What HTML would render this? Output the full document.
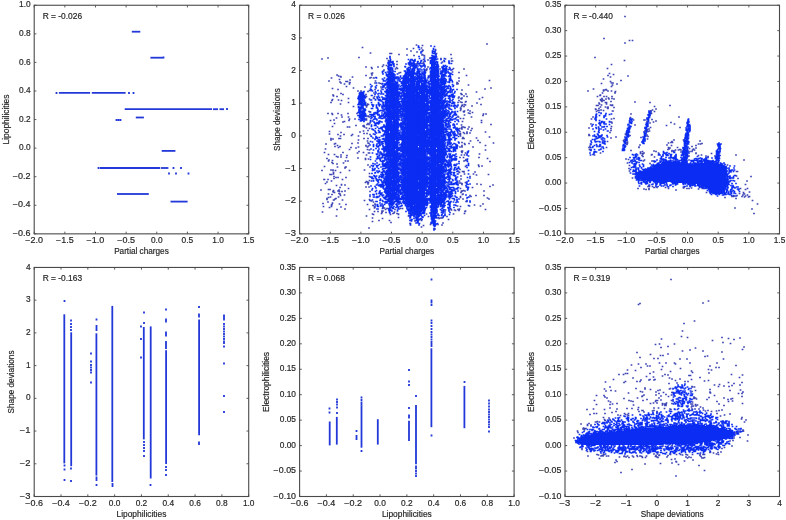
<!DOCTYPE html>
<html><head><meta charset="utf-8"><style>
html,body{margin:0;padding:0;background:#fff;}
svg{display:block;filter:blur(0.35px);}
text{font-family:"Liberation Sans",sans-serif;font-size:8.2px;fill:#262626;stroke:#262626;stroke-width:0.18px;}
</style></head><body>
<svg width="786" height="520" viewBox="0 0 786 520">
<rect width="786" height="520" fill="#fff"/>
<path d="M131.8 31.7H140.3" stroke="#2238d8" stroke-width="1.8"/><path d="M150.4 57.7H162.9" stroke="#2238d8" stroke-width="1.8"/><path d="M58.9 92.8H90.1" stroke="#2238d8" stroke-width="1.8"/><path d="M91.8 92.8H125.6" stroke="#2238d8" stroke-width="1.8"/><path d="M124.7 109.2H212.0" stroke="#2238d8" stroke-width="1.8"/><path d="M213.0 109.2H218.0" stroke="#2238d8" stroke-width="1.8"/><path d="M219.5 109.2H224.0" stroke="#2238d8" stroke-width="1.8"/><path d="M135.8 117.5H143.9" stroke="#2238d8" stroke-width="1.8"/><path d="M161.7 150.9H175.4" stroke="#2238d8" stroke-width="1.8"/><path d="M99.8 168.0H160.0" stroke="#2238d8" stroke-width="1.8"/><path d="M160.7 168.0H168.4" stroke="#2238d8" stroke-width="1.8"/><path d="M117.0 194.0H148.8" stroke="#2238d8" stroke-width="1.8"/><path d="M170.5 201.6H187.6" stroke="#2238d8" stroke-width="1.8"/><path d="M56.5 93h0m42 75h0m18-48h0m2 0h0m2 0h0m8.5-27h0m4.5 0h0m30-35.5h0m5.5 116h0m4.5-5.5h0m2.5 5.5h0m5-5.5h0m7.5 5.5h0m38.5-64.5h0" stroke="#2238d8" stroke-width="1.8" stroke-linecap="square" fill="none"/>
<rect x="34.20" y="5.25" width="214.50" height="228.60" fill="none" stroke="#4a4a4a" stroke-width="1.1"/>
<path d="M34.20 233.85v-2.2M34.20 5.25v2.2M64.84 233.85v-2.2M64.84 5.25v2.2M95.49 233.85v-2.2M95.49 5.25v2.2M126.13 233.85v-2.2M126.13 5.25v2.2M156.77 233.85v-2.2M156.77 5.25v2.2M187.41 233.85v-2.2M187.41 5.25v2.2M218.06 233.85v-2.2M218.06 5.25v2.2M248.70 233.85v-2.2M248.70 5.25v2.2M34.20 233.85h2.2M248.70 233.85h-2.2M34.20 205.28h2.2M248.70 205.28h-2.2M34.20 176.70h2.2M248.70 176.70h-2.2M34.20 148.12h2.2M248.70 148.12h-2.2M34.20 119.55h2.2M248.70 119.55h-2.2M34.20 90.97h2.2M248.70 90.97h-2.2M34.20 62.40h2.2M248.70 62.40h-2.2M34.20 33.83h2.2M248.70 33.83h-2.2M34.20 5.25h2.2M248.70 5.25h-2.2" stroke="#4a4a4a" stroke-width="0.9" fill="none"/>
<text x="25.34" y="242.85" textLength="17.72" lengthAdjust="spacingAndGlyphs">−2.0</text>
<text x="55.98" y="242.85" textLength="17.72" lengthAdjust="spacingAndGlyphs">−1.5</text>
<text x="86.62" y="242.85" textLength="17.72" lengthAdjust="spacingAndGlyphs">−1.0</text>
<text x="117.27" y="242.85" textLength="17.72" lengthAdjust="spacingAndGlyphs">−0.5</text>
<text x="150.97" y="242.85" textLength="11.61" lengthAdjust="spacingAndGlyphs">0.0</text>
<text x="181.61" y="242.85" textLength="11.61" lengthAdjust="spacingAndGlyphs">0.5</text>
<text x="212.25" y="242.85" textLength="11.61" lengthAdjust="spacingAndGlyphs">1.0</text>
<text x="242.90" y="242.85" textLength="11.61" lengthAdjust="spacingAndGlyphs">1.5</text>
<text x="12.88" y="236.00" textLength="17.72" lengthAdjust="spacingAndGlyphs">−0.6</text>
<text x="12.88" y="207.43" textLength="17.72" lengthAdjust="spacingAndGlyphs">−0.4</text>
<text x="12.88" y="178.85" textLength="17.72" lengthAdjust="spacingAndGlyphs">−0.2</text>
<text x="18.99" y="150.28" textLength="11.61" lengthAdjust="spacingAndGlyphs">0.0</text>
<text x="18.99" y="121.70" textLength="11.61" lengthAdjust="spacingAndGlyphs">0.2</text>
<text x="18.99" y="93.12" textLength="11.61" lengthAdjust="spacingAndGlyphs">0.4</text>
<text x="18.99" y="64.55" textLength="11.61" lengthAdjust="spacingAndGlyphs">0.6</text>
<text x="18.99" y="35.98" textLength="11.61" lengthAdjust="spacingAndGlyphs">0.8</text>
<text x="18.99" y="7.40" textLength="11.61" lengthAdjust="spacingAndGlyphs">1.0</text>
<text x="114.13" y="254.15" textLength="54.64" lengthAdjust="spacingAndGlyphs">Partial charges</text>
<text transform="translate(8.60,119.55) rotate(-90)" x="-24.89" y="0" textLength="49.78" lengthAdjust="spacingAndGlyphs">Lipophilicities</text>
<text x="42.70" y="18.95" textLength="39.36" lengthAdjust="spacingAndGlyphs">R = -0.026</text>
<path d="M434 57.5h1m-1 1h1m-1 1h1m-1 1h1m-2 1h2m-2 1h2m-2 1h2m-4 1h4m-4 1h4m-4 1h4m-4 1h5m-5 1h5m-5 1h5m-5 1h5m-5 1h5m-5 1h5m-5 1h5m-5 1h5m-23 1h1m17 0h5m-26 1h1m2 0h1m17 0h5m-26 1h1m2 0h1m17 0h5m-26 1h1m1 0h2m17 0h5m-46 1h1m17 0h1m1 0h1m1 0h2m17 0h5m-46 1h1m17 0h1m1 0h1m1 0h2m17 0h5m-46 1h1m17 0h1m1 0h5m2 0h1m13 0h5m-46 1h1m17 0h1m1 0h5m2 0h1m13 0h5m-46 1h1m17 0h1m1 0h5m2 0h1m3 0h1m9 0h5m-46 1h1m17 0h7m2 0h1m3 0h1m9 0h5m-46 1h1m17 0h7m2 0h1m1 0h1m1 0h1m9 0h5m-46 1h1m17 0h7m2 0h1m1 0h1m1 0h1m9 0h5m1 0h1m-48 1h1m17 0h7m2 0h1m1 0h1m1 0h1m9 0h5m1 0h1m-48 1h1m16 0h8m2 0h1m1 0h1m1 0h1m2 0h1m6 0h5m1 0h1m-48 1h1m16 0h8m1 0h2m1 0h1m1 0h1m2 0h1m6 0h5m1 0h1m-48 1h1m16 0h8m1 0h2m1 0h1m1 0h1m2 0h1m6 0h5m1 0h1m-48 1h1m16 0h8m1 0h2m1 0h1m1 0h1m2 0h1m6 0h5m1 0h1m-48 1h1m2 0h1m13 0h8m1 0h2m1 0h1m1 0h1m2 0h1m6 0h5m1 0h1m-48 1h1m2 0h1m13 0h8m1 0h2m1 0h1m1 0h1m2 0h1m6 0h5m1 0h1m-48 1h1m2 0h1m13 0h8m1 0h2m1 0h1m1 0h1m1 0h2m6 0h5m1 0h1m-48 1h1m2 0h2m12 0h8m1 0h2m1 0h1m1 0h4m6 0h5m1 0h1m-48 1h1m2 0h2m12 0h8m1 0h2m1 0h1m1 0h4m6 0h5m1 0h1m-48 1h1m2 0h2m12 0h8m1 0h2m1 0h6m6 0h5m1 0h1m-48 1h1m2 0h2m1 0h1m10 0h8m1 0h2m1 0h6m6 0h5m1 0h1m-48 1h1m2 0h2m1 0h1m10 0h8m1 0h2m1 0h6m6 0h5m1 0h1m-48 1h1m2 0h2m1 0h1m10 0h8m1 0h2m1 0h6m6 0h5m1 0h1m-48 1h1m2 0h2m1 0h1m10 0h8m1 0h2m1 0h6m6 0h5m1 0h1m-48 1h1m2 0h2m1 0h1m10 0h8m1 0h2m1 0h6m6 0h5m1 0h1m-48 1h1m2 0h2m1 0h1m10 0h8m1 0h2m1 0h6m6 0h5m1 0h1m-48 1h1m2 0h2m1 0h1m10 0h11m1 0h6m6 0h5m1 0h1m-48 1h1m2 0h2m1 0h1m10 0h11m1 0h6m6 0h5m1 0h1m-48 1h1m2 0h2m1 0h1m10 0h11m1 0h6m6 0h5m1 0h1m-48 1h1m2 0h2m1 0h1m10 0h11m1 0h6m6 0h5m1 0h1m-48 1h1m2 0h2m1 0h1m10 0h11m1 0h6m6 0h5m1 0h1m-48 1h1m2 0h2m1 0h1m10 0h11m1 0h6m6 0h5m1 0h1m-48 1h1m2 0h2m1 0h1m10 0h11m1 0h6m6 0h5m1 0h1m-48 1h1m2 0h2m1 0h1m10 0h11m1 0h6m6 0h5m1 0h1m-48 1h1m2 0h2m1 0h1m10 0h11m1 0h6m6 0h5m1 0h1m-48 1h1m2 0h2m1 0h1m10 0h11m1 0h6m6 0h5m1 0h1m-48 1h1m2 0h2m1 0h1m10 0h11m1 0h6m6 0h5m1 0h1m-48 1h1m2 0h2m1 0h1m10 0h11m1 0h6m6 0h5m1 0h1m-48 1h1m2 0h2m1 0h1m10 0h11m1 0h6m6 0h5m1 0h1m-48 1h1m2 0h2m1 0h1m10 0h11m1 0h6m6 0h5m1 0h1m-48 1h1m2 0h2m1 0h1m10 0h11m1 0h6m6 0h5m1 0h1m-48 1h1m2 0h2m1 0h1m10 0h11m1 0h6m6 0h5m1 0h1m-48 1h1m2 0h2m1 0h1m10 0h11m1 0h6m6 0h5m1 0h1m-48 1h1m2 0h2m1 0h1m10 0h11m1 0h6m6 0h5m1 0h1m-48 1h1m2 0h2m1 0h1m10 0h11m1 0h6m6 0h5m1 0h1m-48 1h1m2 0h2m1 0h1m10 0h11m1 0h6m6 0h5m1 0h1m-48 1h1m2 0h2m1 0h1m10 0h11m1 0h6m6 0h5m1 0h1m-48 1h1m2 0h2m1 0h1m10 0h11m1 0h6m6 0h5m1 0h1m-48 1h1m2 0h2m1 0h1m10 0h11m1 0h6m6 0h5m1 0h1m-48 1h1m2 0h2m1 0h1m10 0h11m1 0h6m6 0h5m1 0h1m-48 1h1m2 0h2m1 0h1m10 0h11m1 0h6m6 0h5m1 0h1m-48 1h1m2 0h2m1 0h1m10 0h11m1 0h6m6 0h5m1 0h1m-48 1h1m2 0h2m1 0h1m10 0h11m1 0h6m6 0h5m1 0h1m-48 1h1m2 0h2m1 0h1m10 0h11m1 0h6m6 0h5m1 0h1m-48 1h1m2 0h2m1 0h1m10 0h11m1 0h6m6 0h5m1 0h1m-48 1h1m2 0h2m1 0h1m10 0h11m1 0h6m6 0h5m1 0h1m-48 1h1m2 0h2m1 0h1m10 0h11m1 0h6m6 0h5m1 0h1m-48 1h1m2 0h2m1 0h1m10 0h11m1 0h6m6 0h5m1 0h1m-48 1h1m2 0h2m1 0h1m10 0h11m1 0h6m6 0h5m1 0h1m-48 1h1m2 0h2m1 0h1m10 0h11m1 0h6m6 0h5m1 0h1m-48 1h1m2 0h2m1 0h1m10 0h11m1 0h6m6 0h5m1 0h1m-48 1h1m2 0h2m1 0h1m10 0h11m1 0h6m6 0h5m1 0h1m-48 1h1m2 0h2m1 0h1m10 0h11m1 0h6m6 0h5m1 0h1m-48 1h1m2 0h2m1 0h1m10 0h11m1 0h6m6 0h5m1 0h1m-48 1h1m2 0h2m1 0h1m10 0h11m1 0h6m6 0h5m1 0h1m-48 1h1m2 0h2m1 0h1m10 0h11m1 0h6m6 0h5m1 0h1m-48 1h1m2 0h2m1 0h1m10 0h11m1 0h6m6 0h5m1 0h1m-48 1h1m2 0h2m1 0h1m10 0h11m1 0h6m6 0h5m1 0h1m-48 1h1m2 0h2m1 0h1m10 0h11m1 0h6m6 0h5m1 0h1m-48 1h1m2 0h2m1 0h1m10 0h11m1 0h6m6 0h5m1 0h1m-48 1h1m2 0h2m1 0h1m10 0h11m1 0h6m6 0h5m1 0h1m-48 1h1m2 0h2m1 0h1m10 0h11m1 0h6m6 0h5m1 0h1m-48 1h1m2 0h2m1 0h1m10 0h11m1 0h6m6 0h5m1 0h1m-48 1h1m2 0h2m1 0h1m10 0h11m1 0h6m6 0h5m1 0h1m-48 1h1m2 0h2m1 0h1m10 0h11m1 0h6m6 0h5m1 0h1m-48 1h1m2 0h2m1 0h1m10 0h11m1 0h6m6 0h5m1 0h1m-48 1h1m2 0h2m1 0h1m10 0h11m1 0h6m6 0h5m1 0h1m-48 1h1m2 0h2m1 0h1m10 0h11m1 0h6m6 0h5m1 0h1m-48 1h1m2 0h2m1 0h1m10 0h11m1 0h6m6 0h5m1 0h1m-48 1h1m2 0h2m1 0h1m10 0h11m1 0h6m6 0h5m1 0h1m-48 1h1m2 0h2m1 0h1m10 0h11m1 0h6m6 0h5m1 0h1m-48 1h1m2 0h2m1 0h1m10 0h11m1 0h6m6 0h5m1 0h1m-48 1h1m2 0h2m1 0h1m10 0h11m1 0h6m6 0h5m1 0h1m-48 1h1m2 0h2m1 0h1m10 0h11m1 0h6m6 0h5m1 0h1m-48 1h1m2 0h2m1 0h1m10 0h11m1 0h6m6 0h5m1 0h1m-48 1h1m2 0h2m1 0h1m10 0h11m1 0h6m6 0h5m1 0h1m-48 1h1m2 0h2m1 0h1m10 0h11m1 0h6m6 0h5m1 0h1m-48 1h1m2 0h2m1 0h1m10 0h11m1 0h6m6 0h5m1 0h1m-48 1h1m2 0h2m1 0h1m10 0h11m1 0h6m6 0h5m1 0h1m-48 1h1m2 0h2m1 0h1m10 0h11m1 0h6m6 0h5m1 0h1m-48 1h1m2 0h2m1 0h1m10 0h11m1 0h6m6 0h5m1 0h1m-48 1h1m2 0h2m1 0h1m10 0h11m1 0h6m6 0h5m1 0h1m-48 1h1m2 0h2m1 0h1m10 0h11m1 0h6m6 0h5m1 0h1m-48 1h1m2 0h2m1 0h1m10 0h11m1 0h6m6 0h5m1 0h1m-48 1h1m2 0h2m1 0h1m10 0h11m1 0h6m6 0h5m1 0h1m-48 1h1m2 0h2m1 0h1m10 0h11m1 0h6m6 0h5m1 0h1m-48 1h1m2 0h2m1 0h1m10 0h11m1 0h6m6 0h5m1 0h1m-48 1h1m2 0h2m1 0h1m10 0h11m1 0h6m6 0h5m1 0h1m-48 1h1m2 0h2m1 0h1m10 0h11m1 0h6m6 0h5m1 0h1m-48 1h1m2 0h2m1 0h1m10 0h11m1 0h6m6 0h5m1 0h1m-48 1h1m2 0h2m1 0h1m10 0h11m1 0h6m6 0h5m1 0h1m-48 1h1m2 0h2m1 0h1m10 0h11m1 0h6m6 0h5m1 0h1m-48 1h1m2 0h2m1 0h1m10 0h11m1 0h6m6 0h5m1 0h1m-48 1h1m2 0h2m1 0h1m10 0h11m1 0h6m6 0h5m1 0h1m-48 1h1m2 0h2m1 0h1m10 0h11m1 0h6m6 0h5m1 0h1m-48 1h1m2 0h2m1 0h1m10 0h11m1 0h6m6 0h5m1 0h1m-48 1h1m2 0h2m1 0h1m10 0h11m1 0h6m6 0h5m1 0h1m-48 1h1m2 0h2m1 0h1m10 0h11m1 0h6m6 0h5m1 0h1m-48 1h1m2 0h2m1 0h1m10 0h11m1 0h6m6 0h5m1 0h1m-48 1h1m2 0h2m1 0h1m10 0h11m1 0h6m6 0h5m1 0h1m-48 1h1m2 0h2m1 0h1m10 0h11m1 0h6m6 0h5m1 0h1m-48 1h1m2 0h2m1 0h1m10 0h11m1 0h6m6 0h5m1 0h1m-48 1h1m2 0h1m2 0h1m10 0h11m1 0h6m6 0h5m1 0h1m-48 1h1m2 0h1m2 0h1m10 0h11m1 0h6m6 0h5m1 0h1m-48 1h1m5 0h1m10 0h11m1 0h6m6 0h5m1 0h1m-48 1h1m16 0h11m1 0h6m6 0h5m1 0h1m-48 1h1m16 0h11m1 0h6m6 0h5m1 0h1m-48 1h1m16 0h11m1 0h6m6 0h5m1 0h1m-48 1h1m17 0h10m1 0h5m7 0h5m-28 1h10m1 0h5m7 0h5m-28 1h10m1 0h5m7 0h5m-27 1h9m1 0h5m7 0h5m-27 1h9m1 0h5m7 0h5m-27 1h3m1 0h5m1 0h3m1 0h1m7 0h5m-26 1h2m1 0h5m1 0h3m9 0h5m-26 1h2m1 0h2m1 0h2m1 0h3m9 0h5m-26 1h2m2 0h1m1 0h2m1 0h3m9 0h5m-26 1h2m2 0h1m1 0h2m1 0h2m10 0h5m-26 1h2m4 0h2m1 0h1m11 0h5m-26 1h2m4 0h2m1 0h1m11 0h1m1 0h3m-26 1h2m4 0h2m15 0h3m-26 1h1m5 0h2m15 0h3m-26 1h1m6 0h1m15 0h3m-26 1h1m6 0h1m15 0h3m-26 1h1m6 0h1m15 0h3m-3 1h3m-3 1h2m-2 1h2m-2 1h2m-1 1h1m-1 1h1" stroke="#0b2cf2" stroke-width="1" fill="none" shape-rendering="crispEdges"/><path d="M358 98.5h0m0 6h0m0 8h0m0 3h0m0.5-18.5h0m0 9.5h0m0 1h0m0.5-11.5h0m0 0.5h0m0 1h0m0 1h0m0 1.5h0m0 2h0m0 1.5h0m0 6h0m0 1.5h0m0 8.5h0m0.5-26h0m0 1.5h0m0 1h0m0 1.5h0m0 2h0m0 5h0m0 3h0m0 1h0m0 3h0m0 1.5h0m0 2.5h0m0 1.5h0m0 0.5h0m0.5-25h0m0 3.5h0m0 5.5h0m0 7.5h0m0 0.5h0m0 0.5h0m0 2h0m0 2h0m0 1.5h0m0 0.5h0m0 1h0m0.5-24.5h0m0 1h0m0 0.5h0m0 0.5h0m0 0.5h0m0 0.5h0m0 3h0m0 1.5h0m0 2h0m0 1h0m0 1h0m0 1h0m0 2h0m0 0.5h0m0 1h0m0 0.5h0m0 5.5h0m0 0.5h0m0 0.5h0m0 2h0m0 0.5h0m0 3h0m0.5-28h0m0 1.5h0m0 2h0m0 1.5h0m0 0.5h0m0 2.5h0m0 3.5h0m0 2.5h0m0 1.5h0m0 0.5h0m0 2h0m0 0.5h0m0 0.5h0m0 0.5h0m0 2.5h0m0 4h0m0 1.5h0m0 0.5h0m0.5-29h0m0 2h0m0 0.5h0m0 0.5h0m0 0.5h0m0 4h0m0 0.5h0m0 1h0m0 2.5h0m0 1.5h0m0 3h0m0 1h0m0 2.5h0m0 0.5h0m0 0.5h0m0 2h0m0 1.5h0m0 1.5h0m0 1h0m0 2h0m0.5-28h0m0 0.5h0m0 0.5h0m0 1.5h0m0 2h0m0 1.5h0m0 1h0m0 0.5h0m0 1.5h0m0 1h0m0 0.5h0m0 2h0m0 0.5h0m0 1.5h0m0 4h0m0 0.5h0m0 0.5h0m0 0.5h0m0 0.5h0m0 2h0m0 1h0m0 2h0m0 1.5h0m0 0.5h0m0.5-24.5h0m0 2h0m0 2h0m0 2h0m0 1h0m0 2h0m0 2h0m0 1h0m0 3.5h0m0 1h0m0 2h0m0 0.5h0m0 3h0m0 2h0m0 0.5h0m0 0.5h0m0.5-28h0m0 2.5h0m0 0.5h0m0 0.5h0m0 3h0m0 1h0m0 0.5h0m0 6h0m0 1h0m0 0.5h0m0 3.5h0m0 1h0m0 1.5h0m0 0.5h0m0 0.5h0m0 1.5h0m0 1h0m0 0.5h0m0 1.5h0m0 1h0m0.5-28h0m0 0.5h0m0 1h0m0 2.5h0m0 0.5h0m0 0.5h0m0 3h0m0 0.5h0m0 3h0m0 1h0m0 3.5h0m0 1h0m0 1.5h0m0 3h0m0 1h0m0 3.5h0m0.5-27h0m0 4h0m0 1.5h0m0 2.5h0m0 1h0m0 1h0m0 2h0m0 0.5h0m0 1h0m0 6.5h0m0 3.5h0m0 0.5h0m0 1.5h0m0 0.5h0m0 0.5h0m0 0.5h0m0 0.5h0m0 2.5h0m0.5-26h0m0 0.5h0m0 1h0m0 3.5h0m0 1.5h0m0 2h0m0 1h0m0 5.5h0m0 0.5h0m0 0.5h0m0 0.5h0m0 0.5h0m0 3h0m0 0.5h0m0.5-20h0m0 1h0m0 1h0m0 6h0m0 5h0m0 1.5h0m0 3h0m0 2h0m0 4.5h0m0.5-22.5h0m0 5h0m0 1.5h0m0 6h0m0 4h0m0 1.5h0m0 3.5h0m0.5-13.5h0m0 10h0m0 1h0m4-2h0m0 30.5h0m0 50h0m0 5.5h0m0.5-116h0m0 4.5h0m0 11h0m0 12h0m0 2.5h0m0 6h0m0 1.5h0m0 19.5h0m0 15.5h0m0 2.5h0m0 17.5h0m0 23.5h0m0.5-113.5h0m0 2.5h0m0 1h0m0 26h0m0 2h0m0 17.5h0m0 13h0m0 37h0m0.5-96h0m0 5.5h0m0 4.5h0m0 2.5h0m0 6h0m0 6.5h0m0 10h0m0 1.5h0m0 10h0m0 29h0m0 15.5h0m0.5-95h0m0 9.5h0m0 9h0m0 10h0m0 3h0m0 11.5h0m0 44.5h0m0 3.5h0m0 1.5h0m0 11.5h0m0.5-99h0m0 14h0m0 3.5h0m0 12.5h0m0 21h0m0 11h0m0 15.5h0m0 2h0m0 18h0m0 11.5h0m0.5-94h0m0 0.5h0m0 9h0m0 14h0m0 8.5h0m0 25.5h0m0 3h0m0 3h0m0 25h0m0.5-89.5h0m0 9.5h0m0 2h0m0 3h0m0 10.5h0m0 4h0m0 10.5h0m0 1.5h0m0 0.5h0m0 3.5h0m0 15.5h0m0 4.5h0m0 8.5h0m0 2h0m0 0.5h0m0 14h0m0 2h0m0.5-98.5h0m0 14.5h0m0 1.5h0m0 7.5h0m0 53.5h0m0 19h0m0 0.5h0m0.5-80.5h0m0 4.5h0m0 3.5h0m0 3h0m0 44.5h0m0 6h0m0 0.5h0m0 20.5h0m0.5-102.5h0m0 22h0m0 1h0m0 6h0m0 7.5h0m0 3.5h0m0 4.5h0m0 0.5h0m0 24.5h0m0 4.5h0m0 4.5h0m0 13.5h0m0 20.5h0m0.5-120h0m0 4.5h0m0 8h0m0 0.5h0m0 12.5h0m0 6.5h0m0 5.5h0m0 4h0m0 3.5h0m0 0.5h0m0 28.5h0m0 11.5h0m0 4.5h0m0 14.5h0m0 13.5h0m0.5-127.5h0m0 10.5h0m0 5h0m0 20.5h0m0 12h0m0 11h0m0 1.5h0m0 10.5h0m0 30h0m0 9.5h0m0 13.5h0m0.5-123.5h0m0 5h0m0 2.5h0m0 19.5h0m0 1.5h0m0 0.5h0m0 1h0m0 11h0m0 4.5h0m0 9.5h0m0 12.5h0m0 8.5h0m0 5h0m0 6.5h0m0 10.5h0m0 3h0m0 1h0m0 5h0m0 5.5h0m0 3h0m0 0.5h0m0 3.5h0m0.5-100.5h0m0 16h0m0 7h0m0 2.5h0m0 16h0m0 2.5h0m0 3h0m0 2.5h0m0 8h0m0 8.5h0m0 4h0m0 4h0m0 9h0m0 16.5h0m0 1h0m0 4h0m0 7.5h0m0.5-111.5h0m0 1h0m0 9.5h0m0 2.5h0m0 1h0m0 1.5h0m0 1h0m0 9.5h0m0 3.5h0m0 10.5h0m0 3.5h0m0 13h0m0 2.5h0m0 1.5h0m0 23h0m0 3h0m0 20.5h0m0 1h0m0 1h0m0.5-116h0m0 3.5h0m0 15.5h0m0 2.5h0m0 3h0m0 26.5h0m0 5.5h0m0 3.5h0m0 1h0m0 0.5h0m0 6.5h0m0 7h0m0 7h0m0 8h0m0 1h0m0 27.5h0m0.5-113h0m0 3.5h0m0 0.5h0m0 2.5h0m0 1h0m0 0.5h0m0 7.5h0m0 11h0m0 1.5h0m0 6.5h0m0 9h0m0 3.5h0m0 3h0m0 1h0m0 4h0m0 7h0m0 10.5h0m0 11.5h0m0 2.5h0m0 3h0m0 11.5h0m0 9.5h0m0.5-113h0m0 6h0m0 4.5h0m0 1h0m0 9.5h0m0 3.5h0m0 3.5h0m0 7h0m0 4h0m0 16.5h0m0 7h0m0 15h0m0 0.5h0m0 6h0m0 16h0m0.5-96h0m0 3h0m0 5.5h0m0 5h0m0 5h0m0 2h0m0 3h0m0 1h0m0 1h0m0 8.5h0m0 6h0m0 3h0m0 0.5h0m0 1.5h0m0 2h0m0 8.5h0m0 2h0m0 1h0m0 8.5h0m0 7h0m0 4.5h0m0 3.5h0m0 5.5h0m0 1h0m0 6h0m0 4h0m0.5-96.5h0m0 16.5h0m0 0.5h0m0 5h0m0 7h0m0 4h0m0 7.5h0m0 2h0m0 2h0m0 0.5h0m0 1h0m0 12.5h0m0 1.5h0m0 25.5h0m0 0.5h0m0 5.5h0m0 9.5h0m0 2.5h0m0.5-98.5h0m0 6h0m0 5.5h0m0 2h0m0 3.5h0m0 20.5h0m0 10h0m0 8h0m0 1h0m0 23.5h0m0 8.5h0m0 1.5h0m0 4.5h0m0 1h0m0 5h0m0.5-114h0m0 3h0m0 7h0m0 15h0m0 11.5h0m0 1h0m0 25.5h0m0 4h0m0 9h0m0 7.5h0m0 2h0m0 3.5h0m0 0.5h0m0 4.5h0m0 1.5h0m0 0.5h0m0 7h0m0 12h0m0.5-113.5h0m0 8.5h0m0 15h0m0 2.5h0m0 17.5h0m0 17h0m0 5h0m0 14.5h0m0 5h0m0 3h0m0.5-96.5h0m0 13h0m0 9h0m0 0.5h0m0 1h0m0 3h0m0 2.5h0m0 2h0m0 1.5h0m0 5.5h0m0 5.5h0m0 1.5h0m0 12.5h0m0 1.5h0m0 1.5h0m0 4.5h0m0 5.5h0m0 3h0m0 4h0m0 13.5h0m0 7h0m0 2.5h0m0 0.5h0m0 1.5h0m0 6.5h0m0 2h0m0 9h0m0.5-132.5h0m0 1h0m0 6.5h0m0 4.5h0m0 4h0m0 12h0m0 2.5h0m0 6.5h0m0 2h0m0 0.5h0m0 7.5h0m0 8.5h0m0 3h0m0 9h0m0 15h0m0 2h0m0 1h0m0 0.5h0m0 6h0m0 0.5h0m0 0.5h0m0 5h0m0 2.5h0m0 1.5h0m0 2.5h0m0 1h0m0 6.5h0m0 1.5h0m0 11h0m0 4.5h0m0 8h0m0.5-134.5h0m0 12h0m0 3.5h0m0 4.5h0m0 4h0m0 0.5h0m0 5.5h0m0 2.5h0m0 8.5h0m0 15.5h0m0 0.5h0m0 5h0m0 7.5h0m0 2h0m0 1h0m0 3h0m0 11h0m0 1.5h0m0 2h0m0 1.5h0m0 1h0m0 2h0m0 7.5h0m0 6h0m0 0.5h0m0 1.5h0m0 1.5h0m0 2.5h0m0 13.5h0m0 4h0m0 1.5h0m0.5-136h0m0 9h0m0 0.5h0m0 0.5h0m0 4.5h0m0 1.5h0m0 7h0m0 5h0m0 3.5h0m0 2h0m0 0.5h0m0 4h0m0 2h0m0 4h0m0 0.5h0m0 11h0m0 4.5h0m0 3.5h0m0 4h0m0 3h0m0 5.5h0m0 1h0m0 0.5h0m0 5.5h0m0 1.5h0m0 15.5h0m0 3.5h0m0 1.5h0m0 2h0m0 9h0m0 8h0m0 2.5h0m0.5-112h0m0 1h0m0 11.5h0m0 7.5h0m0 1.5h0m0 7h0m0 3h0m0 1h0m0 7h0m0 1h0m0 1h0m0 4h0m0 8.5h0m0 2h0m0 5.5h0m0 0.5h0m0 1h0m0 0.5h0m0 1.5h0m0 1.5h0m0 2h0m0 10h0m0 0.5h0m0 1.5h0m0 4.5h0m0 1h0m0 6.5h0m0 2.5h0m0 5h0m0 3.5h0m0 8.5h0m0.5-119.5h0m0 6h0m0 1h0m0 13.5h0m0 1h0m0 7h0m0 3.5h0m0 2.5h0m0 0.5h0m0 3.5h0m0 9.5h0m0 0.5h0m0 7h0m0 0.5h0m0 1h0m0 4.5h0m0 8h0m0 4.5h0m0 3.5h0m0 2h0m0 0.5h0m0 3h0m0 4h0m0 3.5h0m0 3.5h0m0 7h0m0 3h0m0 10h0m0 5.5h0m0 1h0m0 6h0m0.5-123.5h0m0 4h0m0 6.5h0m0 17.5h0m0 3h0m0 4.5h0m0 0.5h0m0 0.5h0m0 14.5h0m0 0.5h0m0 6.5h0m0 1h0m0 1h0m0 0.5h0m0 6.5h0m0 3h0m0 3.5h0m0 3.5h0m0 1.5h0m0 6.5h0m0 0.5h0m0 12h0m0 4.5h0m0 6.5h0m0 0.5h0m0 1h0m0 7.5h0m0 3.5h0m0.5-129.5h0m0 11.5h0m0 4h0m0 4h0m0 3.5h0m0 4h0m0 2.5h0m0 0.5h0m0 1h0m0 1.5h0m0 1.5h0m0 6h0m0 1h0m0 2h0m0 0.5h0m0 5h0m0 0.5h0m0 6.5h0m0 2.5h0m0 0.5h0m0 0.5h0m0 3h0m0 2.5h0m0 5.5h0m0 1h0m0 0.5h0m0 2.5h0m0 1.5h0m0 1h0m0 1h0m0 6h0m0 3h0m0 4.5h0m0 1h0m0 1h0m0 3h0m0 3.5h0m0 0.5h0m0 1.5h0m0 0.5h0m0 2h0m0 3h0m0 2h0m0 3h0m0 4h0m0 2.5h0m0 1.5h0m0 4h0m0 1h0m0 1.5h0m0 2.5h0m0 1.5h0m0.5-111h0m0 3.5h0m0 0.5h0m0 2h0m0 0.5h0m0 2h0m0 0.5h0m0 1.5h0m0 2.5h0m0 2.5h0m0 1.5h0m0 4h0m0 1h0m0 1h0m0 3.5h0m0 1h0m0 1h0m0 0.5h0m0 5.5h0m0 0.5h0m0 1h0m0 1h0m0 1h0m0 0.5h0m0 4h0m0 1h0m0 2h0m0 1h0m0 0.5h0m0 4.5h0m0 2.5h0m0 1h0m0 0.5h0m0 2h0m0 4.5h0m0 3h0m0 6h0m0 1.5h0m0 2.5h0m0 0.5h0m0 0.5h0m0 10h0m0 1.5h0m0 1.5h0m0 1.5h0m0 1h0m0 0.5h0m0 0.5h0m0 0.5h0m0 3h0m0 1h0m0 1h0m0 2h0m0 1.5h0m0 4h0m0.5-123.5h0m0 1.5h0m0 4.5h0m0 2.5h0m0 1h0m0 0.5h0m0 1h0m0 4.5h0m0 1.5h0m0 1h0m0 1h0m0 2.5h0m0 3.5h0m0 1h0m0 3h0m0 1h0m0 0.5h0m0 3h0m0 1h0m0 1.5h0m0 0.5h0m0 4h0m0 2h0m0 3.5h0m0 1h0m0 2h0m0 1.5h0m0 1h0m0 0.5h0m0 1h0m0 0.5h0m0 1h0m0 3.5h0m0 1h0m0 1h0m0 1h0m0 2.5h0m0 2.5h0m0 1.5h0m0 0.5h0m0 3h0m0 3h0m0 2.5h0m0 0.5h0m0 3.5h0m0 0.5h0m0 5h0m0 5h0m0 0.5h0m0 0.5h0m0 4.5h0m0 0.5h0m0 1h0m0 0.5h0m0 1.5h0m0 1.5h0m0 2h0m0 5h0m0 3.5h0m0 0.5h0m0 0.5h0m0 0.5h0m0 3h0m0 0.5h0m0 4.5h0m0 0.5h0m0 3.5h0m0.5-125h0m0 0.5h0m0 4.5h0m0 3h0m0 2h0m0 0.5h0m0 2h0m0 3h0m0 1.5h0m0 2h0m0 0.5h0m0 0.5h0m0 0.5h0m0 1.5h0m0 2.5h0m0 3.5h0m0 0.5h0m0 0.5h0m0 0.5h0m0 2h0m0 4.5h0m0 0.5h0m0 2.5h0m0 0.5h0m0 2.5h0m0 3h0m0 1.5h0m0 7.5h0m0 1h0m0 0.5h0m0 1h0m0 1.5h0m0 2.5h0m0 0.5h0m0 0.5h0m0 0.5h0m0 0.5h0m0 0.5h0m0 1h0m0 3h0m0 1.5h0m0 1h0m0 4h0m0 0.5h0m0 0.5h0m0 1.5h0m0 2h0m0 2.5h0m0 0.5h0m0 0.5h0m0 0.5h0m0 2.5h0m0 2h0m0 0.5h0m0 0.5h0m0 0.5h0m0 4h0m0 4.5h0m0 1.5h0m0 0.5h0m0 3h0m0 2.5h0m0 3.5h0m0 0.5h0m0 0.5h0m0 1.5h0m0 1.5h0m0 1h0m0 1h0m0 0.5h0m0 2.5h0m0 0.5h0m0 0.5h0m0 0.5h0m0 2.5h0m0 1h0m0 1h0m0 4.5h0m0 1h0m0 0.5h0m0.5-131h0m0 3h0m0 1.5h0m0 2h0m0 3h0m0 0.5h0m0 1h0m0 2h0m0 4.5h0m0 0.5h0m0 1h0m0 1.5h0m0 1.5h0m0 1h0m0 3h0m0 1h0m0 0.5h0m0 1h0m0 0.5h0m0 1.5h0m0 0.5h0m0 0.5h0m0 1h0m0 1h0m0 2h0m0 0.5h0m0 4.5h0m0 0.5h0m0 0.5h0m0 0.5h0m0 1h0m0 2h0m0 0.5h0m0 3.5h0m0 1h0m0 2.5h0m0 0.5h0m0 3.5h0m0 2h0m0 0.5h0m0 0.5h0m0 0.5h0m0 3h0m0 0.5h0m0 0.5h0m0 1.5h0m0 2h0m0 1h0m0 2h0m0 2.5h0m0 1h0m0 0.5h0m0 0.5h0m0 0.5h0m0 0.5h0m0 0.5h0m0 2h0m0 2h0m0 1h0m0 1.5h0m0 0.5h0m0 3h0m0 5h0m0 0.5h0m0 1h0m0 2.5h0m0 3h0m0 0.5h0m0 3.5h0m0 0.5h0m0 3.5h0m0 0.5h0m0 1h0m0 1.5h0m0 4h0m0 0.5h0m0 1h0m0 5h0m0 1h0m0 1.5h0m0 2h0m0.5-133.5h0m0 3.5h0m0 2h0m0 3.5h0m0 4h0m0 3h0m0 4h0m0 0.5h0m0 2h0m0 1h0m0 2h0m0 3h0m0 0.5h0m0 2.5h0m0 1.5h0m0 0.5h0m0 1h0m0 0.5h0m0 2h0m0 0.5h0m0 0.5h0m0 2h0m0 2h0m0 0.5h0m0 0.5h0m0 3.5h0m0 0.5h0m0 0.5h0m0 1h0m0 0.5h0m0 2h0m0 0.5h0m0 1.5h0m0 0.5h0m0 2h0m0 0.5h0m0 0.5h0m0 0.5h0m0 0.5h0m0 2h0m0 1.5h0m0 2h0m0 0.5h0m0 0.5h0m0 1h0m0 0.5h0m0 0.5h0m0 0.5h0m0 2.5h0m0 0.5h0m0 0.5h0m0 0.5h0m0 2.5h0m0 1.5h0m0 3h0m0 2h0m0 0.5h0m0 0.5h0m0 2h0m0 1h0m0 0.5h0m0 1h0m0 1h0m0 2h0m0 1h0m0 1.5h0m0 1.5h0m0 1h0m0 2h0m0 1h0m0 3h0m0 3h0m0 2h0m0 2h0m0 0.5h0m0 0.5h0m0 1h0m0 1h0m0 0.5h0m0 2.5h0m0 1.5h0m0 1h0m0 0.5h0m0 1.5h0m0 0.5h0m0 3h0m0 0.5h0m0 1.5h0m0 0.5h0m0 0.5h0m0 0.5h0m0 1h0m0 1.5h0m0 0.5h0m0 1.5h0m0 5h0m0 3h0m0 0.5h0m0 0.5h0m0 0.5h0m0.5-138.5h0m0 2.5h0m0 2.5h0m0 3h0m0 2h0m0 2.5h0m0 2.5h0m0 0.5h0m0 1h0m0 1.5h0m0 1h0m0 0.5h0m0 0.5h0m0 1h0m0 0.5h0m0 2.5h0m0 0.5h0m0 0.5h0m0 1h0m0 0.5h0m0 4h0m0 0.5h0m0 1h0m0 1h0m0 1h0m0 1h0m0 0.5h0m0 2.5h0m0 1.5h0m0 1h0m0 3h0m0 1h0m0 0.5h0m0 0.5h0m0 1h0m0 1.5h0m0 1.5h0m0 0.5h0m0 2.5h0m0 0.5h0m0 1.5h0m0 0.5h0m0 0.5h0m0 1.5h0m0 0.5h0m0 0.5h0m0 1.5h0m0 1h0m0 2.5h0m0 0.5h0m0 1h0m0 1h0m0 1h0m0 0.5h0m0 3h0m0 2h0m0 0.5h0m0 0.5h0m0 4h0m0 1h0m0 0.5h0m0 0.5h0m0 2.5h0m0 0.5h0m0 0.5h0m0 0.5h0m0 1h0m0 2h0m0 1h0m0 1h0m0 0.5h0m0 1h0m0 2.5h0m0 1h0m0 0.5h0m0 0.5h0m0 0.5h0m0 3h0m0 2.5h0m0 1h0m0 1h0m0 0.5h0m0 0.5h0m0 3h0m0 2h0m0 1h0m0 1.5h0m0 1h0m0 0.5h0m0 3.5h0m0 1.5h0m0 0.5h0m0 2.5h0m0 1.5h0m0 2h0m0 1h0m0 3h0m0 0.5h0m0 1h0m0 2.5h0m0 1h0m0 1.5h0m0 4.5h0m0 1h0m0 7h0m0.5-145h0m0 2.5h0m0 2.5h0m0 0.5h0m0 1h0m0 3.5h0m0 3h0m0 1h0m0 0.5h0m0 0.5h0m0 1.5h0m0 1h0m0 1.5h0m0 0.5h0m0 0.5h0m0 0.5h0m0 0.5h0m0 0.5h0m0 0.5h0m0 0.5h0m0 1h0m0 1h0m0 2.5h0m0 1.5h0m0 1.5h0m0 0.5h0m0 1h0m0 0.5h0m0 1.5h0m0 0.5h0m0 2.5h0m0 1.5h0m0 1.5h0m0 2.5h0m0 0.5h0m0 0.5h0m0 1.5h0m0 1h0m0 0.5h0m0 1.5h0m0 0.5h0m0 2h0m0 0.5h0m0 0.5h0m0 1h0m0 1.5h0m0 0.5h0m0 1.5h0m0 0.5h0m0 1h0m0 1h0m0 0.5h0m0 1h0m0 0.5h0m0 2h0m0 0.5h0m0 1.5h0m0 2h0m0 1h0m0 3h0m0 3h0m0 0.5h0m0 0.5h0m0 1.5h0m0 0.5h0m0 0.5h0m0 1.5h0m0 2.5h0m0 2.5h0m0 1h0m0 0.5h0m0 0.5h0m0 0.5h0m0 0.5h0m0 0.5h0m0 0.5h0m0 1h0m0 0.5h0m0 0.5h0m0 1h0m0 0.5h0m0 0.5h0m0 0.5h0m0 3h0m0 1h0m0 0.5h0m0 1.5h0m0 0.5h0m0 2h0m0 1.5h0m0 0.5h0m0 1.5h0m0 1h0m0 1h0m0 1h0m0 1.5h0m0 1h0m0 1h0m0 0.5h0m0 1h0m0 1.5h0m0 0.5h0m0 0.5h0m0 2.5h0m0 1h0m0 0.5h0m0 0.5h0m0 1h0m0 0.5h0m0 0.5h0m0 0.5h0m0 1h0m0 0.5h0m0 0.5h0m0 1h0m0 1h0m0 1.5h0m0 0.5h0m0 1h0m0 1h0m0 0.5h0m0 2h0m0 0.5h0m0 1h0m0 1h0m0 1h0m0 2.5h0m0 0.5h0m0 2h0m0 0.5h0m0 4.5h0m0 0.5h0m0 1.5h0m0.5-149.5h0m0 0.5h0m0 0.5h0m0 2h0m0 4h0m0 1.5h0m0 0.5h0m0 1.5h0m0 5h0m0 1.5h0m0 0.5h0m0 1h0m0 0.5h0m0 1.5h0m0 0.5h0m0 1h0m0 0.5h0m0 1.5h0m0 1h0m0 0.5h0m0 0.5h0m0 1h0m0 1h0m0 0.5h0m0 0.5h0m0 0.5h0m0 0.5h0m0 0.5h0m0 0.5h0m0 0.5h0m0 0.5h0m0 0.5h0m0 2.5h0m0 0.5h0m0 1.5h0m0 0.5h0m0 1h0m0 1.5h0m0 1.5h0m0 1h0m0 0.5h0m0 2h0m0 1.5h0m0 0.5h0m0 0.5h0m0 0.5h0m0 0.5h0m0 1h0m0 1h0m0 3h0m0 1h0m0 0.5h0m0 1h0m0 0.5h0m0 0.5h0m0 1h0m0 0.5h0m0 1h0m0 0.5h0m0 1.5h0m0 0.5h0m0 0.5h0m0 1h0m0 0.5h0m0 0.5h0m0 1h0m0 0.5h0m0 0.5h0m0 0.5h0m0 0.5h0m0 0.5h0m0 0.5h0m0 0.5h0m0 0.5h0m0 3h0m0 1h0m0 0.5h0m0 2h0m0 1h0m0 0.5h0m0 0.5h0m0 0.5h0m0 1h0m0 2h0m0 1h0m0 0.5h0m0 1h0m0 1h0m0 0.5h0m0 0.5h0m0 0.5h0m0 0.5h0m0 0.5h0m0 1h0m0 0.5h0m0 1h0m0 1.5h0m0 1h0m0 0.5h0m0 0.5h0m0 1h0m0 0.5h0m0 0.5h0m0 2.5h0m0 0.5h0m0 0.5h0m0 1.5h0m0 0.5h0m0 0.5h0m0 2.5h0m0 4h0m0 1.5h0m0 2.5h0m0 0.5h0m0 1h0m0 0.5h0m0 0.5h0m0 1h0m0 0.5h0m0 0.5h0m0 1h0m0 3.5h0m0 0.5h0m0 1.5h0m0 0.5h0m0 0.5h0m0 0.5h0m0 0.5h0m0 1h0m0 0.5h0m0 0.5h0m0 1.5h0m0 2h0m0 1h0m0 1h0m0 0.5h0m0 0.5h0m0 0.5h0m0 2h0m0 2h0m0 0.5h0m0 1h0m0 1h0m0 4h0m0 3.5h0m0 2.5h0m0 1h0m0.5-156h0m0 1.5h0m0 4h0m0 3h0m0 0.5h0m0 5.5h0m0 2h0m0 0.5h0m0 1.5h0m0 0.5h0m0 0.5h0m0 0.5h0m0 0.5h0m0 0.5h0m0 0.5h0m0 7h0m0 0.5h0m0 1.5h0m0 0.5h0m0 1.5h0m0 2.5h0m0 4.5h0m0 1h0m0 4h0m0 0.5h0m0 2.5h0m0 1.5h0m0 0.5h0m0 1h0m0 0.5h0m0 1.5h0m0 4h0m0 2h0m0 0.5h0m0 0.5h0m0 3h0m0 0.5h0m0 2h0m0 5h0m0 4h0m0 4h0m0 0.5h0m0 1.5h0m0 1h0m0 1h0m0 3h0m0 0.5h0m0 0.5h0m0 0.5h0m0 0.5h0m0 1h0m0 0.5h0m0 0.5h0m0 1h0m0 0.5h0m0 0.5h0m0 0.5h0m0 1.5h0m0 5h0m0 1.5h0m0 0.5h0m0 3h0m0 0.5h0m0 6h0m0 1.5h0m0 1.5h0m0 1.5h0m0 1.5h0m0 0.5h0m0 1.5h0m0 2.5h0m0 1.5h0m0 0.5h0m0 1.5h0m0 2h0m0 2h0m0 1h0m0 3h0m0 4.5h0m0 3.5h0m0 1.5h0m0 1.5h0m0 0.5h0m0 1h0m0 1.5h0m0 1.5h0m0 0.5h0m0 0.5h0m0 2.5h0m0 1.5h0m0 1.5h0m0 3h0m0.5-153.5h0m0 1h0m0 0.5h0m0 4.5h0m0 2h0m0 1h0m0 0.5h0m0 1h0m0 0.5h0m0 0.5h0m0 0.5h0m0 1h0m0 0.5h0m0 0.5h0m0 1h0m0 0.5h0m0 0.5h0m0 0.5h0m0 0.5h0m0 0.5h0m0 0.5h0m0 0.5h0m0 0.5h0m0 0.5h0m0 118h0m0 0.5h0m0 1h0m0 1h0m0 1h0m0 1h0m0 3.5h0m0 2.5h0m0 2h0m0.5-147h0m0 2h0m0 3h0m0 3.5h0m0 1.5h0m0 3h0m0 1.5h0m0 1.5h0m0 1.5h0m0 4.5h0m0 0.5h0m0 6.5h0m0 0.5h0m0 0.5h0m0 0.5h0m0 0.5h0m0 2h0m0 0.5h0m0 1h0m0 0.5h0m0 5h0m0 1.5h0m0 0.5h0m0 0.5h0m0 0.5h0m0 5.5h0m0 0.5h0m0 1h0m0 8h0m0 1.5h0m0 2h0m0 0.5h0m0 2.5h0m0 3h0m0 1h0m0 6h0m0 0.5h0m0 1.5h0m0 2h0m0 1h0m0 1h0m0 0.5h0m0 1h0m0 1.5h0m0 2h0m0 0.5h0m0 2h0m0 1.5h0m0 0.5h0m0 1.5h0m0 2h0m0 4h0m0 1h0m0 3.5h0m0 1.5h0m0 0.5h0m0 0.5h0m0 0.5h0m0 2h0m0 1.5h0m0 2h0m0 1.5h0m0 4.5h0m0 0.5h0m0 1h0m0 0.5h0m0 0.5h0m0 3.5h0m0 5h0m0 0.5h0m0 0.5h0m0 2.5h0m0 2h0m0 0.5h0m0 1h0m0 0.5h0m0 0.5h0m0 0.5h0m0 0.5h0m0 0.5h0m0 0.5h0m0 0.5h0m0 4.5h0m0.5-143h0m0 0.5h0m0 2h0m0 1h0m0 3.5h0m0 5h0m0 1h0m0 0.5h0m0 1.5h0m0 1h0m0 0.5h0m0 1h0m0 1h0m0 1h0m0 2h0m0 1.5h0m0 1h0m0 0.5h0m0 0.5h0m0 1h0m0 0.5h0m0 1h0m0 0.5h0m0 1.5h0m0 1h0m0 0.5h0m0 0.5h0m0 0.5h0m0 0.5h0m0 0.5h0m0 3.5h0m0 0.5h0m0 1h0m0 1h0m0 0.5h0m0 0.5h0m0 0.5h0m0 1.5h0m0 1.5h0m0 1h0m0 1h0m0 1h0m0 3h0m0 0.5h0m0 0.5h0m0 0.5h0m0 0.5h0m0 0.5h0m0 0.5h0m0 1h0m0 0.5h0m0 0.5h0m0 0.5h0m0 0.5h0m0 1h0m0 0.5h0m0 1.5h0m0 1h0m0 1h0m0 0.5h0m0 0.5h0m0 1.5h0m0 1.5h0m0 0.5h0m0 0.5h0m0 0.5h0m0 0.5h0m0 0.5h0m0 0.5h0m0 0.5h0m0 0.5h0m0 0.5h0m0 1h0m0 1.5h0m0 0.5h0m0 1.5h0m0 3h0m0 1h0m0 0.5h0m0 0.5h0m0 1.5h0m0 0.5h0m0 0.5h0m0 1h0m0 1.5h0m0 3h0m0 0.5h0m0 1.5h0m0 1.5h0m0 1.5h0m0 1h0m0 1h0m0 1h0m0 2.5h0m0 0.5h0m0 1h0m0 1h0m0 0.5h0m0 0.5h0m0 0.5h0m0 0.5h0m0 0.5h0m0 0.5h0m0 1h0m0 1h0m0 0.5h0m0 0.5h0m0 3h0m0 2h0m0 0.5h0m0 3.5h0m0 0.5h0m0 0.5h0m0 0.5h0m0 0.5h0m0 0.5h0m0 2h0m0 1.5h0m0 1h0m0 0.5h0m0 0.5h0m0 0.5h0m0 2.5h0m0 1.5h0m0 1.5h0m0 0.5h0m0 3h0m0 3h0m0 1.5h0m0 1.5h0m0 0.5h0m0 0.5h0m0 0.5h0m0 1h0m0 1h0m0 3.5h0m0 3.5h0m0.5-142.5h0m0 4.5h0m0 1.5h0m0 1h0m0 1h0m0 3h0m0 2.5h0m0 0.5h0m0 1.5h0m0 0.5h0m0 1h0m0 0.5h0m0 2.5h0m0 1h0m0 1h0m0 1h0m0 0.5h0m0 0.5h0m0 1h0m0 0.5h0m0 1.5h0m0 4h0m0 1.5h0m0 0.5h0m0 0.5h0m0 0.5h0m0 0.5h0m0 3h0m0 0.5h0m0 1h0m0 1h0m0 1h0m0 0.5h0m0 0.5h0m0 0.5h0m0 0.5h0m0 0.5h0m0 1.5h0m0 0.5h0m0 1h0m0 0.5h0m0 2h0m0 2h0m0 0.5h0m0 3.5h0m0 1.5h0m0 0.5h0m0 0.5h0m0 1.5h0m0 0.5h0m0 0.5h0m0 0.5h0m0 2h0m0 0.5h0m0 1h0m0 0.5h0m0 0.5h0m0 1h0m0 0.5h0m0 3.5h0m0 0.5h0m0 0.5h0m0 1h0m0 0.5h0m0 2h0m0 0.5h0m0 1.5h0m0 1h0m0 1.5h0m0 1h0m0 1.5h0m0 0.5h0m0 2h0m0 0.5h0m0 2h0m0 1h0m0 1.5h0m0 0.5h0m0 1h0m0 1h0m0 1h0m0 1h0m0 1.5h0m0 2h0m0 1.5h0m0 2h0m0 1h0m0 0.5h0m0 1h0m0 1h0m0 1h0m0 1h0m0 0.5h0m0 0.5h0m0 1.5h0m0 1.5h0m0 0.5h0m0 2h0m0 0.5h0m0 3.5h0m0 1.5h0m0 0.5h0m0 0.5h0m0 2h0m0 1h0m0 1h0m0 0.5h0m0 1h0m0 0.5h0m0 0.5h0m0 0.5h0m0 3.5h0m0 2h0m0 1.5h0m0 1.5h0m0 3h0m0 5.5h0m0.5-142.5h0m0 1.5h0m0 3h0m0 2.5h0m0 0.5h0m0 0.5h0m0 1h0m0 0.5h0m0 1.5h0m0 0.5h0m0 2h0m0 1.5h0m0 1h0m0 2.5h0m0 2h0m0 1h0m0 1.5h0m0 0.5h0m0 1h0m0 0.5h0m0 0.5h0m0 0.5h0m0 1h0m0 1.5h0m0 1h0m0 0.5h0m0 1h0m0 1.5h0m0 0.5h0m0 0.5h0m0 0.5h0m0 0.5h0m0 1h0m0 0.5h0m0 0.5h0m0 0.5h0m0 1h0m0 1h0m0 0.5h0m0 1h0m0 0.5h0m0 0.5h0m0 3h0m0 2.5h0m0 1h0m0 1.5h0m0 0.5h0m0 0.5h0m0 3h0m0 2.5h0m0 0.5h0m0 1.5h0m0 1.5h0m0 0.5h0m0 1.5h0m0 1.5h0m0 0.5h0m0 1h0m0 0.5h0m0 0.5h0m0 1h0m0 0.5h0m0 0.5h0m0 0.5h0m0 0.5h0m0 0.5h0m0 0.5h0m0 1h0m0 1.5h0m0 1h0m0 1h0m0 1h0m0 1.5h0m0 1.5h0m0 1h0m0 0.5h0m0 0.5h0m0 1h0m0 0.5h0m0 2h0m0 0.5h0m0 0.5h0m0 0.5h0m0 1h0m0 0.5h0m0 0.5h0m0 0.5h0m0 0.5h0m0 2h0m0 0.5h0m0 1h0m0 0.5h0m0 0.5h0m0 0.5h0m0 1h0m0 2h0m0 1h0m0 0.5h0m0 2h0m0 1h0m0 0.5h0m0 1.5h0m0 0.5h0m0 0.5h0m0 1h0m0 0.5h0m0 1h0m0 1h0m0 1.5h0m0 1h0m0 0.5h0m0 2h0m0 2h0m0 1.5h0m0 2h0m0 0.5h0m0 2h0m0 0.5h0m0 1.5h0m0 0.5h0m0 0.5h0m0 0.5h0m0 1h0m0 1h0m0 0.5h0m0 1h0m0 1.5h0m0 1h0m0 2h0m0 5h0m0 3.5h0m0.5-147h0m0 0.5h0m0 1.5h0m0 7.5h0m0 0.5h0m0 2h0m0 2.5h0m0 2h0m0 2.5h0m0 2h0m0 2.5h0m0 1.5h0m0 0.5h0m0 0.5h0m0 0.5h0m0 2h0m0 1h0m0 3.5h0m0 3h0m0 1h0m0 3h0m0 1h0m0 3h0m0 2h0m0 4.5h0m0 1h0m0 1h0m0 2h0m0 3h0m0 6h0m0 2h0m0 0.5h0m0 5h0m0 1.5h0m0 1.5h0m0 1.5h0m0 1.5h0m0 2h0m0 0.5h0m0 0.5h0m0 1h0m0 0.5h0m0 2.5h0m0 0.5h0m0 3h0m0 2.5h0m0 2h0m0 1h0m0 6.5h0m0 2h0m0 4h0m0 2h0m0 2h0m0 0.5h0m0 0.5h0m0 0.5h0m0 0.5h0m0 0.5h0m0 1h0m0 0.5h0m0 0.5h0m0 1h0m0 2h0m0 2.5h0m0 0.5h0m0 2h0m0 0.5h0m0 1.5h0m0 1.5h0m0 1h0m0 3.5h0m0 0.5h0m0 1h0m0 0.5h0m0 2.5h0m0 1h0m0 1.5h0m0 4.5h0m0 0.5h0m0 0.5h0m0 3.5h0m0.5-143h0m0 9.5h0m0 1h0m0 1h0m0 1.5h0m0 1h0m0 1h0m0 0.5h0m0 1h0m0 4h0m0 0.5h0m0 2h0m0 0.5h0m0 2h0m0 0.5h0m0 0.5h0m0 1h0m0 100.5h0m0 1h0m0 3h0m0 2h0m0 1h0m0 0.5h0m0 2h0m0 1h0m0 1h0m0 4.5h0m0.5-144.5h0m0 2h0m0 0.5h0m0 7.5h0m0 1h0m0 1.5h0m0 0.5h0m0 1h0m0 1h0m0 1h0m0 1h0m0 3h0m0 0.5h0m0 1h0m0 1h0m0 0.5h0m0 1h0m0 1h0m0 1.5h0m0 1.5h0m0 2h0m0 96.5h0m0 0.5h0m0 0.5h0m0 0.5h0m0 0.5h0m0 1h0m0 0.5h0m0 1h0m0 0.5h0m0 2.5h0m0 5h0m0 3.5h0m0.5-127.5h0m0 1.5h0m0 3h0m0 1h0m0 1h0m0 0.5h0m0 0.5h0m0 0.5h0m0 2h0m0 0.5h0m0 3.5h0m0 0.5h0m0 0.5h0m0 1h0m0 96.5h0m0 0.5h0m0 1h0m0 0.5h0m0 1.5h0m0 0.5h0m0 0.5h0m0 2h0m0 1h0m0 2.5h0m0 0.5h0m0.5-130.5h0m0 3.5h0m0 6.5h0m0 1.5h0m0 0.5h0m0 3h0m0 0.5h0m0 0.5h0m0 1.5h0m0 4.5h0m0 1h0m0 3.5h0m0 2.5h0m0 0.5h0m0 1.5h0m0 2h0m0 1.5h0m0 0.5h0m0 2h0m0 1.5h0m0 0.5h0m0 0.5h0m0 2h0m0 5h0m0 0.5h0m0 4.5h0m0 4.5h0m0 1.5h0m0 0.5h0m0 1h0m0 4h0m0 0.5h0m0 3h0m0 0.5h0m0 0.5h0m0 3.5h0m0 0.5h0m0 0.5h0m0 4.5h0m0 4.5h0m0 1h0m0 0.5h0m0 0.5h0m0 0.5h0m0 2.5h0m0 4h0m0 0.5h0m0 4.5h0m0 1h0m0 1.5h0m0 1h0m0 0.5h0m0 0.5h0m0 3h0m0 0.5h0m0 0.5h0m0 1.5h0m0 4.5h0m0 2h0m0 1.5h0m0 0.5h0m0 1h0m0 1h0m0 0.5h0m0 0.5h0m0 1h0m0 1.5h0m0 5h0m0 0.5h0m0 1.5h0m0.5-120.5h0m0 0.5h0m0 4.5h0m0 2.5h0m0 0.5h0m0 2h0m0 0.5h0m0 1.5h0m0 0.5h0m0 1h0m0 1h0m0 0.5h0m0 0.5h0m0 0.5h0m0 2.5h0m0 2.5h0m0 0.5h0m0 1h0m0 0.5h0m0 0.5h0m0 1h0m0 1h0m0 1.5h0m0 0.5h0m0 1h0m0 1h0m0 0.5h0m0 0.5h0m0 2h0m0 0.5h0m0 2h0m0 1.5h0m0 2h0m0 0.5h0m0 0.5h0m0 3h0m0 0.5h0m0 0.5h0m0 0.5h0m0 0.5h0m0 0.5h0m0 0.5h0m0 0.5h0m0 0.5h0m0 1h0m0 0.5h0m0 1h0m0 2.5h0m0 0.5h0m0 1h0m0 1h0m0 0.5h0m0 0.5h0m0 1.5h0m0 1h0m0 0.5h0m0 1.5h0m0 0.5h0m0 2h0m0 0.5h0m0 2h0m0 2h0m0 1.5h0m0 1.5h0m0 1h0m0 1h0m0 3.5h0m0 1.5h0m0 0.5h0m0 0.5h0m0 1h0m0 0.5h0m0 1h0m0 0.5h0m0 1h0m0 1.5h0m0 1h0m0 1h0m0 0.5h0m0 0.5h0m0 0.5h0m0 0.5h0m0 0.5h0m0 0.5h0m0 1h0m0 0.5h0m0 0.5h0m0 1.5h0m0 0.5h0m0 3.5h0m0 1.5h0m0 0.5h0m0 0.5h0m0 0.5h0m0 0.5h0m0 0.5h0m0 0.5h0m0 0.5h0m0 0.5h0m0 2.5h0m0 1h0m0 0.5h0m0 0.5h0m0 1h0m0 0.5h0m0 0.5h0m0 0.5h0m0 2h0m0 1h0m0 2h0m0 2.5h0m0 1.5h0m0 1h0m0 1h0m0 0.5h0m0 0.5h0m0.5-118.5h0m0 5.5h0m0 4h0m0 6h0m0 0.5h0m0 0.5h0m0 1h0m0 0.5h0m0 1h0m0 1.5h0m0 3h0m0 1h0m0 1h0m0 2.5h0m0 3h0m0 2h0m0 2.5h0m0 3h0m0 2.5h0m0 0.5h0m0 0.5h0m0 0.5h0m0 0.5h0m0 0.5h0m0 1h0m0 3.5h0m0 0.5h0m0 2.5h0m0 1.5h0m0 3.5h0m0 2.5h0m0 2h0m0 0.5h0m0 2.5h0m0 3h0m0 2.5h0m0 0.5h0m0 2.5h0m0 1.5h0m0 2.5h0m0 1.5h0m0 3.5h0m0 2.5h0m0 0.5h0m0 3h0m0 5h0m0 1.5h0m0 1.5h0m0 0.5h0m0 1h0m0 4.5h0m0 1h0m0 0.5h0m0 2.5h0m0 0.5h0m0 3.5h0m0 0.5h0m0 1h0m0 1.5h0m0 2h0m0 2.5h0m0 0.5h0m0 0.5h0m0 0.5h0m0 1.5h0m0 0.5h0m0 0.5h0m0 1h0m0 1.5h0m0 3h0m0 3h0m0.5-130.5h0m0 5.5h0m0 4h0m0 1h0m0 0.5h0m0 2.5h0m0 0.5h0m0 0.5h0m0 1h0m0 1h0m0 1.5h0m0 1h0m0 0.5h0m0 0.5h0m0 0.5h0m0 96h0m0 0.5h0m0 0.5h0m0 2.5h0m0 2.5h0m0 4.5h0m0.5-126h0m0 4.5h0m0 2h0m0 1h0m0 1.5h0m0 0.5h0m0 2h0m0 1.5h0m0 2h0m0 0.5h0m0 1h0m0 1h0m0 0.5h0m0 0.5h0m0 0.5h0m0 1.5h0m0 0.5h0m0 1h0m0 0.5h0m0 0.5h0m0 0.5h0m0 0.5h0m0 0.5h0m0 1h0m0 1h0m0 2h0m0 0.5h0m0 0.5h0m0 1.5h0m0 1.5h0m0 6.5h0m0 1h0m0 2h0m0 2h0m0 2.5h0m0 0.5h0m0 1.5h0m0 0.5h0m0 1.5h0m0 0.5h0m0 1.5h0m0 1h0m0 4h0m0 1h0m0 1h0m0 1.5h0m0 1h0m0 1h0m0 0.5h0m0 0.5h0m0 0.5h0m0 2.5h0m0 2.5h0m0 1.5h0m0 0.5h0m0 2h0m0 0.5h0m0 1h0m0 1.5h0m0 5.5h0m0 5.5h0m0 2h0m0 1h0m0 1h0m0 1h0m0 3h0m0 0.5h0m0 2h0m0 3h0m0 1h0m0 1h0m0 1h0m0 0.5h0m0 0.5h0m0 3.5h0m0 2h0m0 1.5h0m0 1.5h0m0 6h0m0 0.5h0m0 0.5h0m0 0.5h0m0 2.5h0m0 3.5h0m0 1h0m0.5-132h0m0 3.5h0m0 2.5h0m0 2h0m0 1.5h0m0 4h0m0 0.5h0m0 0.5h0m0 1h0m0 1h0m0 0.5h0m0 0.5h0m0 2.5h0m0 0.5h0m0 0.5h0m0 1h0m0 1h0m0 0.5h0m0 0.5h0m0 1h0m0 0.5h0m0 1h0m0 2.5h0m0 0.5h0m0 3h0m0 0.5h0m0 1h0m0 1h0m0 0.5h0m0 2h0m0 0.5h0m0 1h0m0 0.5h0m0 1h0m0 0.5h0m0 1.5h0m0 0.5h0m0 1h0m0 0.5h0m0 1h0m0 1h0m0 1h0m0 2h0m0 1h0m0 0.5h0m0 0.5h0m0 1h0m0 0.5h0m0 0.5h0m0 0.5h0m0 0.5h0m0 0.5h0m0 0.5h0m0 1.5h0m0 1.5h0m0 0.5h0m0 0.5h0m0 4h0m0 0.5h0m0 2h0m0 1h0m0 0.5h0m0 0.5h0m0 1h0m0 0.5h0m0 0.5h0m0 0.5h0m0 0.5h0m0 1h0m0 0.5h0m0 0.5h0m0 0.5h0m0 0.5h0m0 0.5h0m0 2h0m0 0.5h0m0 0.5h0m0 1h0m0 1.5h0m0 1h0m0 0.5h0m0 0.5h0m0 0.5h0m0 0.5h0m0 1.5h0m0 0.5h0m0 0.5h0m0 1.5h0m0 0.5h0m0 0.5h0m0 0.5h0m0 2.5h0m0 0.5h0m0 0.5h0m0 1h0m0 0.5h0m0 2h0m0 0.5h0m0 1h0m0 1.5h0m0 0.5h0m0 1h0m0 1h0m0 0.5h0m0 0.5h0m0 0.5h0m0 2h0m0 0.5h0m0 0.5h0m0 0.5h0m0 0.5h0m0 1h0m0 0.5h0m0 3h0m0 1h0m0 0.5h0m0 0.5h0m0 0.5h0m0 0.5h0m0 0.5h0m0 0.5h0m0 2h0m0 1h0m0 2h0m0 0.5h0m0 3h0m0 2.5h0m0 0.5h0m0 1h0m0 0.5h0m0 1h0m0 2h0m0 1.5h0m0 3.5h0m0 1h0m0.5-134h0m0 3h0m0 5.5h0m0 1h0m0 5.5h0m0 1.5h0m0 3h0m0 0.5h0m0 1h0m0 0.5h0m0 1h0m0 1h0m0 1h0m0 0.5h0m0 0.5h0m0 0.5h0m0 0.5h0m0 0.5h0m0 0.5h0m0 1h0m0 1h0m0 2.5h0m0 1.5h0m0 2h0m0 0.5h0m0 2h0m0 0.5h0m0 1h0m0 0.5h0m0 1h0m0 0.5h0m0 1h0m0 2h0m0 1h0m0 3.5h0m0 2h0m0 2h0m0 0.5h0m0 0.5h0m0 2.5h0m0 1h0m0 1h0m0 0.5h0m0 1h0m0 0.5h0m0 1.5h0m0 1h0m0 2.5h0m0 0.5h0m0 5.5h0m0 1h0m0 0.5h0m0 5.5h0m0 0.5h0m0 2.5h0m0 0.5h0m0 0.5h0m0 0.5h0m0 0.5h0m0 0.5h0m0 0.5h0m0 2h0m0 1h0m0 2.5h0m0 0.5h0m0 0.5h0m0 1h0m0 0.5h0m0 2.5h0m0 1h0m0 0.5h0m0 0.5h0m0 0.5h0m0 0.5h0m0 3h0m0 0.5h0m0 0.5h0m0 1h0m0 1h0m0 0.5h0m0 1.5h0m0 2h0m0 0.5h0m0 0.5h0m0 0.5h0m0 0.5h0m0 0.5h0m0 0.5h0m0 0.5h0m0 0.5h0m0 1h0m0 0.5h0m0 1h0m0 3h0m0 0.5h0m0 1h0m0 0.5h0m0 1h0m0 0.5h0m0 1h0m0 1.5h0m0 2.5h0m0 4h0m0 1h0m0.5-129.5h0m0 8.5h0m0 2h0m0 0.5h0m0 4h0m0 0.5h0m0 1.5h0m0 2h0m0 2h0m0 2h0m0 0.5h0m0 7.5h0m0 3.5h0m0 2.5h0m0 3h0m0 5h0m0 1.5h0m0 2h0m0 6h0m0 0.5h0m0 2h0m0 4h0m0 1h0m0 2.5h0m0 4.5h0m0 6h0m0 0.5h0m0 2h0m0 0.5h0m0 0.5h0m0 0.5h0m0 2h0m0 1h0m0 3.5h0m0 0.5h0m0 0.5h0m0 3h0m0 0.5h0m0 3.5h0m0 1h0m0 1.5h0m0 0.5h0m0 1h0m0 0.5h0m0 0.5h0m0 1h0m0 1.5h0m0 1h0m0 0.5h0m0 1.5h0m0 1h0m0 1h0m0 0.5h0m0 0.5h0m0 1h0m0 8.5h0m0 3.5h0m0 0.5h0m0 1.5h0m0 1h0m0 0.5h0m0 6h0m0.5-130h0m0 7h0m0 9.5h0m0 1.5h0m0 5.5h0m0 1.5h0m0 2.5h0m0 0.5h0m0 0.5h0m0 1h0m0 2.5h0m0 1h0m0 2h0m0 0.5h0m0 2h0m0 2h0m0 7h0m0 6h0m0 3h0m0 5h0m0 0.5h0m0 0.5h0m0 3h0m0 6h0m0 1.5h0m0 0.5h0m0 3h0m0 3.5h0m0 1h0m0 5.5h0m0 0.5h0m0 0.5h0m0 4.5h0m0 0.5h0m0 8.5h0m0 1.5h0m0 1h0m0 6.5h0m0 0.5h0m0 0.5h0m0 1.5h0m0 1.5h0m0 0.5h0m0 1.5h0m0 2.5h0m0 0.5h0m0 1h0m0 1h0m0 6h0m0 5h0m0.5-128h0m0 11h0m0 2h0m0 1h0m0 8h0m0 1.5h0m0 1h0m0 1h0m0 3.5h0m0 9.5h0m0 0.5h0m0 4.5h0m0 0.5h0m0 7.5h0m0 1h0m0 1h0m0 3h0m0 7.5h0m0 3h0m0 5h0m0 5.5h0m0 0.5h0m0 0.5h0m0 9.5h0m0 10.5h0m0 1h0m0 1h0m0 9.5h0m0 0.5h0m0.5-112h0m0 9h0m0 1h0m0 4h0m0 2.5h0m0 3h0m0 10.5h0m0 3h0m0 3.5h0m0 9h0m0 0.5h0m0 8.5h0m0 2h0m0 0.5h0m0 11h0m0 1h0m0 1h0m0 5.5h0m0 1.5h0m0 1.5h0m0 0.5h0m0 3.5h0m0 2h0m0 1h0m0 0.5h0m0 0.5h0m0 2h0m0 5h0m0 4h0m0 0.5h0m0 7h0m0 0.5h0m0 1.5h0m0 5.5h0m0 7.5h0m0 2h0m0 1.5h0m0 3.5h0m0.5-130.5h0m0 1h0m0 4.5h0m0 5h0m0 2.5h0m0 4h0m0 0.5h0m0 2.5h0m0 1h0m0 4.5h0m0 2.5h0m0 4.5h0m0 2.5h0m0 2h0m0 2h0m0 8.5h0m0 2h0m0 1h0m0 5.5h0m0 3.5h0m0 4h0m0 5h0m0 2.5h0m0 3h0m0 6.5h0m0 1h0m0 5.5h0m0 0.5h0m0 1.5h0m0 5.5h0m0 0.5h0m0 4.5h0m0 4h0m0 7h0m0 4h0m0 2.5h0m0 1.5h0m0 4h0m0.5-109.5h0m0 0.5h0m0 1h0m0 3h0m0 2.5h0m0 0.5h0m0 0.5h0m0 0.5h0m0 8h0m0 0.5h0m0 1h0m0 7h0m0 1.5h0m0 2h0m0 5.5h0m0 5h0m0 2h0m0 5.5h0m0 1.5h0m0 0.5h0m0 0.5h0m0 9.5h0m0 0.5h0m0 3h0m0 0.5h0m0 2.5h0m0 2h0m0 2.5h0m0 0.5h0m0 1h0m0 1h0m0 5h0m0 3.5h0m0 0.5h0m0 3h0m0 3h0m0 0.5h0m0 2h0m0 4h0m0 7h0m0 0.5h0m0 2h0m0.5-113.5h0m0 3.5h0m0 1h0m0 0.5h0m0 2h0m0 7.5h0m0 3.5h0m0 11h0m0 1.5h0m0 2.5h0m0 9h0m0 4h0m0 14h0m0 5.5h0m0 1.5h0m0 1h0m0 1h0m0 7h0m0 1h0m0 0.5h0m0 7.5h0m0 13.5h0m0 3.5h0m0 1.5h0m0 3h0m0 3h0m0 2h0m0 4h0m0 3h0m0 1.5h0m0 1h0m0 4h0m0 2h0m0 0.5h0m0.5-124h0m0 3.5h0m0 2.5h0m0 1.5h0m0 5.5h0m0 0.5h0m0 3h0m0 1h0m0 0.5h0m0 1.5h0m0 1h0m0 3.5h0m0 2.5h0m0 1h0m0 2h0m0 2.5h0m0 0.5h0m0 1.5h0m0 1h0m0 2h0m0 1h0m0 3h0m0 2h0m0 1h0m0 1h0m0 1h0m0 0.5h0m0 4.5h0m0 1h0m0 0.5h0m0 0.5h0m0 1h0m0 3h0m0 1h0m0 3h0m0 2h0m0 1h0m0 1h0m0 2h0m0 1.5h0m0 6h0m0 3.5h0m0 0.5h0m0 2h0m0 1.5h0m0 2h0m0 1h0m0 1.5h0m0 0.5h0m0 0.5h0m0 0.5h0m0 1h0m0 1.5h0m0 1h0m0 0.5h0m0 2.5h0m0 1h0m0 2h0m0 0.5h0m0 4h0m0 3h0m0 1.5h0m0 1.5h0m0 3h0m0 0.5h0m0 3h0m0 2.5h0m0 6.5h0m0.5-127.5h0m0 4.5h0m0 0.5h0m0 5h0m0 0.5h0m0 0.5h0m0 1.5h0m0 0.5h0m0 1.5h0m0 3.5h0m0 3h0m0 3h0m0 2h0m0 1h0m0 3h0m0 4.5h0m0 2.5h0m0 1h0m0 6.5h0m0 1h0m0 0.5h0m0 0.5h0m0 3.5h0m0 1.5h0m0 2h0m0 1.5h0m0 0.5h0m0 2h0m0 0.5h0m0 0.5h0m0 1h0m0 1h0m0 1h0m0 1.5h0m0 1h0m0 1h0m0 0.5h0m0 1.5h0m0 1h0m0 4h0m0 2h0m0 0.5h0m0 0.5h0m0 0.5h0m0 1h0m0 1h0m0 1.5h0m0 2.5h0m0 5.5h0m0 2.5h0m0 0.5h0m0 0.5h0m0 0.5h0m0 2.5h0m0 2h0m0 1h0m0 5.5h0m0 0.5h0m0 1h0m0 2h0m0 2h0m0 1h0m0 0.5h0m0 1h0m0 0.5h0m0 1h0m0 6.5h0m0 1h0m0 1.5h0m0 3.5h0m0.5-121.5h0m0 3h0m0 1h0m0 1.5h0m0 3.5h0m0 0.5h0m0 1h0m0 0.5h0m0 0.5h0m0 0.5h0m0 0.5h0m0 5.5h0m0 0.5h0m0 2.5h0m0 1h0m0 0.5h0m0 1h0m0 0.5h0m0 0.5h0m0 3h0m0 1h0m0 0.5h0m0 0.5h0m0 0.5h0m0 2h0m0 1h0m0 0.5h0m0 0.5h0m0 1.5h0m0 5.5h0m0 1h0m0 0.5h0m0 3.5h0m0 0.5h0m0 0.5h0m0 1.5h0m0 0.5h0m0 0.5h0m0 1.5h0m0 1h0m0 1h0m0 0.5h0m0 2h0m0 6h0m0 1h0m0 0.5h0m0 1h0m0 3.5h0m0 1.5h0m0 3h0m0 0.5h0m0 0.5h0m0 1.5h0m0 0.5h0m0 0.5h0m0 1.5h0m0 0.5h0m0 0.5h0m0 3h0m0 1h0m0 3h0m0 0.5h0m0 1h0m0 0.5h0m0 1.5h0m0 1h0m0 0.5h0m0 0.5h0m0 1h0m0 0.5h0m0 1h0m0 1.5h0m0 3.5h0m0 1.5h0m0 1.5h0m0 1h0m0 1h0m0 1h0m0 0.5h0m0 2.5h0m0 1.5h0m0 1h0m0 1.5h0m0 0.5h0m0 1h0m0 2h0m0 1h0m0 3h0m0.5-123h0m0 3h0m0 0.5h0m0 1.5h0m0 5.5h0m0 1h0m0 1h0m0 0.5h0m0 2h0m0 0.5h0m0 2h0m0 1.5h0m0 0.5h0m0 0.5h0m0 5h0m0 1h0m0 0.5h0m0 2.5h0m0 0.5h0m0 1h0m0 1h0m0 1h0m0 2h0m0 0.5h0m0 3.5h0m0 0.5h0m0 0.5h0m0 0.5h0m0 2.5h0m0 3h0m0 0.5h0m0 0.5h0m0 1.5h0m0 0.5h0m0 5.5h0m0 0.5h0m0 1h0m0 0.5h0m0 1.5h0m0 0.5h0m0 0.5h0m0 3h0m0 0.5h0m0 0.5h0m0 1h0m0 0.5h0m0 3.5h0m0 0.5h0m0 0.5h0m0 0.5h0m0 0.5h0m0 0.5h0m0 0.5h0m0 1h0m0 0.5h0m0 2h0m0 0.5h0m0 2.5h0m0 0.5h0m0 1h0m0 1.5h0m0 5h0m0 0.5h0m0 1h0m0 1h0m0 0.5h0m0 2h0m0 0.5h0m0 1.5h0m0 1h0m0 1.5h0m0 0.5h0m0 1.5h0m0 0.5h0m0 1.5h0m0 1h0m0 2.5h0m0 0.5h0m0 0.5h0m0 1h0m0 1.5h0m0 0.5h0m0 1.5h0m0 2.5h0m0 4h0m0 0.5h0m0 2.5h0m0 2.5h0m0 1h0m0 2h0m0 2h0m0 0.5h0m0 1h0m0.5-125h0m0 1h0m0 3h0m0 1h0m0 1.5h0m0 2.5h0m0 2h0m0 2.5h0m0 0.5h0m0 0.5h0m0 1.5h0m0 2h0m0 2h0m0 1h0m0 0.5h0m0 0.5h0m0 1.5h0m0 1h0m0 1.5h0m0 0.5h0m0 1h0m0 0.5h0m0 0.5h0m0 1.5h0m0 1.5h0m0 0.5h0m0 0.5h0m0 4.5h0m0 1h0m0 1h0m0 1h0m0 0.5h0m0 0.5h0m0 1.5h0m0 0.5h0m0 0.5h0m0 0.5h0m0 1.5h0m0 2.5h0m0 2h0m0 1h0m0 0.5h0m0 0.5h0m0 0.5h0m0 5.5h0m0 0.5h0m0 0.5h0m0 0.5h0m0 2h0m0 0.5h0m0 1.5h0m0 0.5h0m0 0.5h0m0 0.5h0m0 0.5h0m0 1h0m0 0.5h0m0 0.5h0m0 0.5h0m0 0.5h0m0 0.5h0m0 2h0m0 0.5h0m0 2h0m0 1.5h0m0 1h0m0 1h0m0 1.5h0m0 2h0m0 2h0m0 3h0m0 0.5h0m0 0.5h0m0 0.5h0m0 0.5h0m0 2.5h0m0 1.5h0m0 1.5h0m0 0.5h0m0 1h0m0 0.5h0m0 1h0m0 0.5h0m0 1h0m0 2.5h0m0 0.5h0m0 0.5h0m0 3h0m0 1h0m0 1.5h0m0 2h0m0 1h0m0 0.5h0m0 1h0m0 1h0m0 1h0m0 1h0m0 0.5h0m0 0.5h0m0 0.5h0m0 0.5h0m0 4.5h0m0 6h0m0.5-132.5h0m0 5h0m0 3h0m0 1.5h0m0 4h0m0 1.5h0m0 1h0m0 0.5h0m0 2h0m0 4h0m0 0.5h0m0 1h0m0 1.5h0m0 0.5h0m0 5.5h0m0 0.5h0m0 0.5h0m0 0.5h0m0 1h0m0 0.5h0m0 1.5h0m0 0.5h0m0 0.5h0m0 0.5h0m0 1.5h0m0 1h0m0 3.5h0m0 1h0m0 1h0m0 1h0m0 1.5h0m0 1h0m0 1.5h0m0 1h0m0 1h0m0 0.5h0m0 3h0m0 1h0m0 0.5h0m0 0.5h0m0 2h0m0 0.5h0m0 3.5h0m0 0.5h0m0 1h0m0 1.5h0m0 4h0m0 0.5h0m0 0.5h0m0 0.5h0m0 1.5h0m0 0.5h0m0 0.5h0m0 0.5h0m0 0.5h0m0 1.5h0m0 1h0m0 0.5h0m0 1.5h0m0 1h0m0 1h0m0 2.5h0m0 1h0m0 2.5h0m0 0.5h0m0 1.5h0m0 0.5h0m0 0.5h0m0 2h0m0 0.5h0m0 0.5h0m0 1h0m0 0.5h0m0 1h0m0 1h0m0 1h0m0 1h0m0 0.5h0m0 1h0m0 1h0m0 1h0m0 2h0m0 0.5h0m0 1h0m0 1.5h0m0 0.5h0m0 2.5h0m0 1h0m0 1.5h0m0 1h0m0 1h0m0 1h0m0 1h0m0 0.5h0m0 0.5h0m0 1h0m0 0.5h0m0 1h0m0 1h0m0 1.5h0m0 0.5h0m0 2h0m0 0.5h0m0 0.5h0m0 0.5h0m0 2.5h0m0.5-135h0m0 8.5h0m0 3h0m0 0.5h0m0 1h0m0 3h0m0 4h0m0 1h0m0 1h0m0 2h0m0 4h0m0 0.5h0m0 2h0m0 1h0m0 0.5h0m0 0.5h0m0 1h0m0 1h0m0 0.5h0m0 1.5h0m0 0.5h0m0 0.5h0m0 1.5h0m0 0.5h0m0 0.5h0m0 0.5h0m0 0.5h0m0 0.5h0m0 0.5h0m0 0.5h0m0 1h0m0 0.5h0m0 0.5h0m0 0.5h0m0 1.5h0m0 0.5h0m0 1h0m0 2h0m0 1h0m0 1h0m0 0.5h0m0 1h0m0 0.5h0m0 0.5h0m0 1.5h0m0 0.5h0m0 0.5h0m0 1h0m0 2.5h0m0 1h0m0 1.5h0m0 2.5h0m0 0.5h0m0 0.5h0m0 0.5h0m0 0.5h0m0 0.5h0m0 1.5h0m0 0.5h0m0 0.5h0m0 0.5h0m0 0.5h0m0 0.5h0m0 0.5h0m0 0.5h0m0 0.5h0m0 1h0m0 1h0m0 0.5h0m0 0.5h0m0 0.5h0m0 1h0m0 1.5h0m0 0.5h0m0 0.5h0m0 0.5h0m0 0.5h0m0 0.5h0m0 1.5h0m0 1h0m0 0.5h0m0 0.5h0m0 1.5h0m0 2h0m0 1h0m0 0.5h0m0 1h0m0 0.5h0m0 0.5h0m0 1h0m0 0.5h0m0 0.5h0m0 2h0m0 0.5h0m0 0.5h0m0 2h0m0 0.5h0m0 1h0m0 0.5h0m0 2h0m0 0.5h0m0 0.5h0m0 0.5h0m0 0.5h0m0 2.5h0m0 1.5h0m0 0.5h0m0 2h0m0 0.5h0m0 1.5h0m0 0.5h0m0 1.5h0m0 1h0m0 1h0m0 1h0m0 1h0m0 0.5h0m0 0.5h0m0 2.5h0m0 12.5h0m0.5-135.5h0m0 4h0m0 1h0m0 2h0m0 2.5h0m0 1.5h0m0 3h0m0 1.5h0m0 0.5h0m0 1h0m0 0.5h0m0 1.5h0m0 1h0m0 0.5h0m0 3h0m0 5.5h0m0 2h0m0 0.5h0m0 1.5h0m0 0.5h0m0 1.5h0m0 3h0m0 2h0m0 1.5h0m0 0.5h0m0 1h0m0 0.5h0m0 1h0m0 0.5h0m0 0.5h0m0 3.5h0m0 3.5h0m0 2.5h0m0 0.5h0m0 1h0m0 2.5h0m0 0.5h0m0 2.5h0m0 1h0m0 3h0m0 1h0m0 0.5h0m0 1h0m0 0.5h0m0 0.5h0m0 1h0m0 0.5h0m0 2.5h0m0 2h0m0 0.5h0m0 1h0m0 1.5h0m0 0.5h0m0 0.5h0m0 1h0m0 0.5h0m0 0.5h0m0 2h0m0 0.5h0m0 0.5h0m0 4.5h0m0 0.5h0m0 1.5h0m0 0.5h0m0 2.5h0m0 0.5h0m0 0.5h0m0 0.5h0m0 0.5h0m0 0.5h0m0 1.5h0m0 1h0m0 2h0m0 0.5h0m0 4h0m0 0.5h0m0 1.5h0m0 1h0m0 3h0m0 0.5h0m0 1h0m0 0.5h0m0 0.5h0m0 2.5h0m0 0.5h0m0 0.5h0m0 0.5h0m0 2.5h0m0 2h0m0 1.5h0m0 0.5h0m0 0.5h0m0 1.5h0m0 0.5h0m0 1.5h0m0 1h0m0 1.5h0m0 0.5h0m0 2h0m0 0.5h0m0 3h0m0 1.5h0m0.5-141.5h0m0 8.5h0m0 6h0m0 1.5h0m0 1h0m0 2h0m0 1h0m0 2.5h0m0 1h0m0 3h0m0 0.5h0m0 0.5h0m0 2h0m0 1h0m0 1.5h0m0 0.5h0m0 0.5h0m0 0.5h0m0 1h0m0 0.5h0m0 0.5h0m0 1h0m0 1.5h0m0 1h0m0 0.5h0m0 0.5h0m0 2h0m0 0.5h0m0 0.5h0m0 1h0m0 2h0m0 0.5h0m0 1h0m0 0.5h0m0 0.5h0m0 0.5h0m0 0.5h0m0 1.5h0m0 1.5h0m0 2.5h0m0 1h0m0 0.5h0m0 1h0m0 2.5h0m0 1h0m0 0.5h0m0 1h0m0 0.5h0m0 0.5h0m0 0.5h0m0 1h0m0 0.5h0m0 3h0m0 1h0m0 0.5h0m0 1.5h0m0 0.5h0m0 0.5h0m0 0.5h0m0 0.5h0m0 1h0m0 0.5h0m0 0.5h0m0 0.5h0m0 1.5h0m0 0.5h0m0 3.5h0m0 0.5h0m0 0.5h0m0 0.5h0m0 1h0m0 1h0m0 0.5h0m0 3h0m0 2h0m0 0.5h0m0 4.5h0m0 0.5h0m0 1.5h0m0 1h0m0 0.5h0m0 2h0m0 1.5h0m0 1.5h0m0 3h0m0 1h0m0 1h0m0 2h0m0 2h0m0 0.5h0m0 0.5h0m0 2.5h0m0 0.5h0m0 1h0m0 0.5h0m0 1h0m0 0.5h0m0 1.5h0m0 1.5h0m0 1.5h0m0 1.5h0m0 1.5h0m0 1.5h0m0 2h0m0 1h0m0 0.5h0m0 0.5h0m0 0.5h0m0 2h0m0 3.5h0m0 8.5h0m0.5-137h0m0 1.5h0m0 0.5h0m0 6h0m0 3.5h0m0 2h0m0 1.5h0m0 2.5h0m0 0.5h0m0 1.5h0m0 1h0m0 2.5h0m0 0.5h0m0 2.5h0m0 1h0m0 1.5h0m0 1.5h0m0 1.5h0m0 0.5h0m0 0.5h0m0 0.5h0m0 1h0m0 1h0m0 1h0m0 1h0m0 0.5h0m0 0.5h0m0 1.5h0m0 1h0m0 1h0m0 2h0m0 1.5h0m0 0.5h0m0 0.5h0m0 2.5h0m0 1h0m0 1h0m0 2h0m0 0.5h0m0 1.5h0m0 0.5h0m0 0.5h0m0 0.5h0m0 0.5h0m0 1h0m0 1h0m0 0.5h0m0 0.5h0m0 2h0m0 1h0m0 1h0m0 1h0m0 2h0m0 1h0m0 0.5h0m0 0.5h0m0 0.5h0m0 2.5h0m0 0.5h0m0 2h0m0 1.5h0m0 0.5h0m0 0.5h0m0 2h0m0 1.5h0m0 0.5h0m0 0.5h0m0 2.5h0m0 0.5h0m0 2h0m0 0.5h0m0 1.5h0m0 0.5h0m0 0.5h0m0 1.5h0m0 0.5h0m0 1h0m0 0.5h0m0 2h0m0 0.5h0m0 2h0m0 0.5h0m0 0.5h0m0 3.5h0m0 3h0m0 1.5h0m0 0.5h0m0 1h0m0 1.5h0m0 2.5h0m0 0.5h0m0 1.5h0m0 1h0m0 0.5h0m0 0.5h0m0 1h0m0 1h0m0 0.5h0m0 1.5h0m0 1h0m0 0.5h0m0 1.5h0m0 0.5h0m0 0.5h0m0 1h0m0 1h0m0 1h0m0 2h0m0 3h0m0 0.5h0m0.5-137.5h0m0 4h0m0 3.5h0m0 0.5h0m0 0.5h0m0 0.5h0m0 0.5h0m0 0.5h0m0 1h0m0 2.5h0m0 1h0m0 2h0m0 1.5h0m0 1h0m0 3h0m0 0.5h0m0 0.5h0m0 1h0m0 3h0m0 6.5h0m0 1.5h0m0 0.5h0m0 1.5h0m0 0.5h0m0 0.5h0m0 3h0m0 7h0m0 1h0m0 1.5h0m0 4h0m0 0.5h0m0 8h0m0 5h0m0 1.5h0m0 4h0m0 0.5h0m0 1h0m0 2.5h0m0 1h0m0 1.5h0m0 1h0m0 1h0m0 1.5h0m0 3.5h0m0 2.5h0m0 0.5h0m0 5h0m0 0.5h0m0 2h0m0 1h0m0 6h0m0 4.5h0m0 4h0m0 1h0m0 1h0m0 3.5h0m0 1h0m0 3h0m0 0.5h0m0 4.5h0m0 0.5h0m0 0.5h0m0 1.5h0m0 0.5h0m0 0.5h0m0 1h0m0 0.5h0m0 0.5h0m0 1.5h0m0 0.5h0m0 2.5h0m0 1.5h0m0 0.5h0m0.5-138h0m0 0.5h0m0 0.5h0m0 3h0m0 2.5h0m0 2.5h0m0 2h0m0 1.5h0m0 0.5h0m0 2h0m0 0.5h0m0 1.5h0m0 108.5h0m0 1h0m0 0.5h0m0 3h0m0 0.5h0m0 1h0m0 3.5h0m0 4h0m0.5-141h0m0 1.5h0m0 2.5h0m0 2h0m0 2h0m0 1h0m0 0.5h0m0 0.5h0m0 0.5h0m0 1h0m0 1.5h0m0 4h0m0 1.5h0m0 112.5h0m0 0.5h0m0 1h0m0 1.5h0m0 1.5h0m0 1h0m0 1.5h0m0 4h0m0.5-151h0m0 3.5h0m0 1h0m0 3.5h0m0 2.5h0m0 1h0m0 1.5h0m0 1h0m0 0.5h0m0 1h0m0 0.5h0m0 1h0m0 0.5h0m0 0.5h0m0 0.5h0m0 121h0m0 1h0m0 0.5h0m0 0.5h0m0 3h0m0 1h0m0 0.5h0m0.5-135.5h0m0 1h0m0 0.5h0m0 0.5h0m0 1.5h0m0 1h0m0 0.5h0m0 0.5h0m0 0.5h0m0 3h0m0 1.5h0m0 1.5h0m0 1h0m0 0.5h0m0 118.5h0m0 0.5h0m0 1h0m0 2h0m0 2h0m0 1.5h0m0 1h0m0 2h0m0 1.5h0m0 2h0m0.5-153h0m0 1h0m0 1h0m0 0.5h0m0 4.5h0m0 1h0m0 1.5h0m0 0.5h0m0 1.5h0m0 0.5h0m0 1h0m0 3h0m0 1h0m0 1.5h0m0 121.5h0m0 1.5h0m0 0.5h0m0 1.5h0m0 3.5h0m0 0.5h0m0 0.5h0m0.5-149.5h0m0 6.5h0m0 4h0m0 1h0m0 1.5h0m0 2h0m0 2.5h0m0 2.5h0m0 121.5h0m0 1h0m0 13h0m0 1.5h0m0 2.5h0m0.5-159.5h0m0 1.5h0m0 0.5h0m0 0.5h0m0 0.5h0m0 2.5h0m0 2.5h0m0 2h0m0 1h0m0 1.5h0m0 0.5h0m0 1h0m0 0.5h0m0 0.5h0m0 137.5h0m0 0.5h0m0 0.5h0m0 1h0m0 0.5h0m0 1.5h0m0 2.5h0m0 3.5h0m0 0.5h0m0 1h0m0.5-165.5h0m0 4h0m0 1h0m0 6.5h0m0 0.5h0m0 1h0m0 1h0m0 0.5h0m0 4.5h0m0 135h0m0 0.5h0m0 0.5h0m0 1h0m0.5-150h0m0 6h0m0 2.5h0m0 1h0m0 0.5h0m0 0.5h0m0 1.5h0m0 3h0m0 0.5h0m0 128.5h0m0 0.5h0m0 1.5h0m0 3h0m0 1h0m0 5.5h0m0.5-161.5h0m0 3.5h0m0 7h0m0 4h0m0 0.5h0m0 2h0m0 0.5h0m0 2h0m0 0.5h0m0 1h0m0 0.5h0m0 125.5h0m0 3.5h0m0 1.5h0m0 1.5h0m0 0.5h0m0 1.5h0m0 4.5h0m0.5-159h0m0 2.5h0m0 0.5h0m0 2.5h0m0 2.5h0m0 1.5h0m0 1h0m0 1h0m0 0.5h0m0 0.5h0m0 2h0m0 0.5h0m0 0.5h0m0 125.5h0m0 0.5h0m0 0.5h0m0 0.5h0m0 1.5h0m0 0.5h0m0 1h0m0 1h0m0 1.5h0m0 1h0m0.5-145.5h0m0 1h0m0 1h0m0 6h0m0 1h0m0 0.5h0m0 0.5h0m0 1h0m0 2h0m0 0.5h0m0 0.5h0m0 126h0m0 0.5h0m0 5.5h0m0 2h0m0 1h0m0.5-152h0m0 2h0m0 2.5h0m0 2h0m0 1.5h0m0 3h0m0 0.5h0m0 0.5h0m0 0.5h0m0 1h0m0 130h0m0 2h0m0 1h0m0 7.5h0m0.5-154.5h0m0 2h0m0 1.5h0m0 0.5h0m0 1h0m0 2h0m0 3h0m0 1h0m0 1.5h0m0 1h0m0 4h0m0 1h0m0 0.5h0m0 0.5h0m0 127.5h0m0 1h0m0 0.5h0m0 0.5h0m0 1.5h0m0 1.5h0m0 1h0m0 2h0m0 1h0m0 2h0m0.5-154h0m0 2.5h0m0 2h0m0 1h0m0 0.5h0m0 2.5h0m0 5.5h0m0 1h0m0 1h0m0 0.5h0m0 128h0m0 1h0m0 0.5h0m0 0.5h0m0 2.5h0m0 0.5h0m0 0.5h0m0.5-155h0m0 1.5h0m0 3h0m0 1.5h0m0 2.5h0m0 5h0m0 1h0m0 2.5h0m0 3.5h0m0 0.5h0m0 1h0m0 6.5h0m0 1.5h0m0 1h0m0 4h0m0 1.5h0m0 0.5h0m0 2h0m0 1h0m0 1h0m0 103.5h0m0 1.5h0m0 1h0m0 0.5h0m0 0.5h0m0 1h0m0 0.5h0m0 0.5h0m0 2h0m0 3h0m0.5-137.5h0m0 10h0m0 1h0m0 2h0m0 1h0m0 0.5h0m0 0.5h0m0 4.5h0m0 0.5h0m0 2h0m0 2h0m0 1h0m0 0.5h0m0 0.5h0m0 1h0m0 99.5h0m0 2h0m0 1h0m0 0.5h0m0 1.5h0m0 0.5h0m0 1h0m0 1.5h0m0 1h0m0 1.5h0m0 1h0m0 2h0m0 3.5h0m0.5-153.5h0m0 0.5h0m0 6.5h0m0 5h0m0 4.5h0m0 0.5h0m0 1h0m0 1.5h0m0 1.5h0m0 1.5h0m0 3.5h0m0 1.5h0m0 0.5h0m0 2h0m0 2.5h0m0 1h0m0 2h0m0 0.5h0m0 1h0m0 99.5h0m0 3h0m0 2h0m0 2h0m0 1h0m0 2.5h0m0 4h0m0 5h0m0.5-157.5h0m0 8.5h0m0 1h0m0 2.5h0m0 2h0m0 2h0m0 0.5h0m0 5.5h0m0 1h0m0 0.5h0m0 122h0m0 1h0m0 1h0m0 1h0m0 1h0m0 2h0m0 2h0m0 1.5h0m0.5-156.5h0m0 8h0m0 1h0m0 2h0m0 4h0m0 0.5h0m0 3.5h0m0 0.5h0m0 0.5h0m0 1h0m0 1h0m0 2h0m0 122.5h0m0 1.5h0m0 4h0m0 1.5h0m0 2h0m0.5-157.5h0m0 4h0m0 2h0m0 0.5h0m0 1h0m0 2h0m0 1h0m0 0.5h0m0 1h0m0 1h0m0 1h0m0 2.5h0m0 0.5h0m0 1.5h0m0 0.5h0m0 132.5h0m0 0.5h0m0 1h0m0 3.5h0m0 0.5h0m0 1h0m0 1.5h0m0 0.5h0m0 0.5h0m0.5-161h0m0 2h0m0 2.5h0m0 5h0m0 2.5h0m0 2.5h0m0 1h0m0 4h0m0 0.5h0m0 2h0m0 5.5h0m0 3.5h0m0 2.5h0m0 1h0m0 7h0m0 0.5h0m0 3.5h0m0 1.5h0m0 2.5h0m0 1h0m0 1h0m0 1h0m0 2.5h0m0 0.5h0m0 1h0m0 0.5h0m0 1.5h0m0 2h0m0 1h0m0 2.5h0m0 0.5h0m0 1h0m0 0.5h0m0 2h0m0 0.5h0m0 1h0m0 3.5h0m0 4.5h0m0 0.5h0m0 11.5h0m0 1h0m0 0.5h0m0 2h0m0 1.5h0m0 1.5h0m0 0.5h0m0 3h0m0 3h0m0 4h0m0 1h0m0 3.5h0m0 0.5h0m0 0.5h0m0 0.5h0m0 2.5h0m0 3h0m0 0.5h0m0 2.5h0m0 2h0m0 1h0m0 0.5h0m0 1h0m0 0.5h0m0 0.5h0m0 3h0m0 1.5h0m0 1h0m0 2h0m0 2h0m0 1.5h0m0 3.5h0m0 1.5h0m0 4.5h0m0 4h0m0 0.5h0m0 3.5h0m0 1.5h0m0 4h0m0 1h0m0.5-177h0m0 1.5h0m0 16h0m0 6h0m0 2.5h0m0 1h0m0 3.5h0m0 0.5h0m0 1.5h0m0 2h0m0 2h0m0 1.5h0m0 0.5h0m0 0.5h0m0 1h0m0 0.5h0m0 1h0m0 0.5h0m0 0.5h0m0 1.5h0m0 4h0m0 1.5h0m0 0.5h0m0 0.5h0m0 0.5h0m0 0.5h0m0 1h0m0 2h0m0 1h0m0 0.5h0m0 0.5h0m0 0.5h0m0 1h0m0 1h0m0 1.5h0m0 0.5h0m0 3.5h0m0 0.5h0m0 0.5h0m0 2h0m0 0.5h0m0 0.5h0m0 1.5h0m0 0.5h0m0 1h0m0 1h0m0 2h0m0 0.5h0m0 1h0m0 0.5h0m0 0.5h0m0 1h0m0 0.5h0m0 1h0m0 1.5h0m0 0.5h0m0 0.5h0m0 1.5h0m0 0.5h0m0 0.5h0m0 0.5h0m0 0.5h0m0 0.5h0m0 0.5h0m0 1h0m0 3h0m0 0.5h0m0 0.5h0m0 1h0m0 2h0m0 1.5h0m0 0.5h0m0 1h0m0 2h0m0 2.5h0m0 1.5h0m0 1.5h0m0 0.5h0m0 1h0m0 1h0m0 0.5h0m0 0.5h0m0 1h0m0 2.5h0m0 0.5h0m0 1h0m0 0.5h0m0 1.5h0m0 0.5h0m0 1h0m0 0.5h0m0 0.5h0m0 0.5h0m0 0.5h0m0 1h0m0 0.5h0m0 2.5h0m0 0.5h0m0 1.5h0m0 1h0m0 0.5h0m0 0.5h0m0 1h0m0 1h0m0 1h0m0 0.5h0m0 1h0m0 0.5h0m0 0.5h0m0 0.5h0m0 3h0m0 1.5h0m0 0.5h0m0 1h0m0 0.5h0m0 0.5h0m0 0.5h0m0 0.5h0m0 0.5h0m0 0.5h0m0 1h0m0 3.5h0m0 0.5h0m0 2h0m0 0.5h0m0 1.5h0m0 0.5h0m0 0.5h0m0 1h0m0 0.5h0m0 0.5h0m0 0.5h0m0 0.5h0m0 0.5h0m0 0.5h0m0 0.5h0m0 0.5h0m0 0.5h0m0 1h0m0 1h0m0 1h0m0 0.5h0m0 2h0m0 0.5h0m0 0.5h0m0 0.5h0m0 0.5h0m0 0.5h0m0 1h0m0 1.5h0m0 1h0m0 0.5h0m0 4h0m0 0.5h0m0 0.5h0m0.5-173h0m0 9h0m0 7.5h0m0 7h0m0 2h0m0 3.5h0m0 4h0m0 1h0m0 1h0m0 1h0m0 1.5h0m0 0.5h0m0 1.5h0m0 1h0m0 2h0m0 2h0m0 0.5h0m0 3h0m0 1.5h0m0 1.5h0m0 1h0m0 1.5h0m0 3.5h0m0 0.5h0m0 1.5h0m0 0.5h0m0 0.5h0m0 0.5h0m0 0.5h0m0 0.5h0m0 0.5h0m0 0.5h0m0 1h0m0 0.5h0m0 1h0m0 1.5h0m0 0.5h0m0 1.5h0m0 2h0m0 0.5h0m0 0.5h0m0 1.5h0m0 0.5h0m0 2h0m0 1.5h0m0 0.5h0m0 1h0m0 0.5h0m0 1h0m0 1h0m0 0.5h0m0 0.5h0m0 2.5h0m0 0.5h0m0 2.5h0m0 0.5h0m0 1h0m0 1.5h0m0 1h0m0 6h0m0 3h0m0 3.5h0m0 1h0m0 3h0m0 0.5h0m0 2.5h0m0 1h0m0 1h0m0 0.5h0m0 1h0m0 1h0m0 0.5h0m0 1h0m0 3.5h0m0 1.5h0m0 1.5h0m0 0.5h0m0 1h0m0 1h0m0 1.5h0m0 2.5h0m0 2.5h0m0 2h0m0 1.5h0m0 0.5h0m0 0.5h0m0 7h0m0 2h0m0 0.5h0m0 0.5h0m0 0.5h0m0 4h0m0 0.5h0m0 2h0m0 1h0m0 1h0m0 0.5h0m0 0.5h0m0 1h0m0 0.5h0m0 1h0m0 1h0m0 1h0m0 1h0m0 0.5h0m0 1h0m0 5h0m0 8.5h0m0.5-175.5h0m0 9h0m0 10.5h0m0 2h0m0 1h0m0 1h0m0 0.5h0m0 0.5h0m0 1h0m0 0.5h0m0 4h0m0 1h0m0 1h0m0 0.5h0m0 1.5h0m0 0.5h0m0 0.5h0m0 124h0m0 0.5h0m0 0.5h0m0 0.5h0m0 1.5h0m0 0.5h0m0 0.5h0m0 0.5h0m0 1h0m0 1h0m0 0.5h0m0 8h0m0.5-160h0m0 2h0m0 3.5h0m0 2h0m0 6h0m0 1h0m0 1h0m0 1.5h0m0 1h0m0 6.5h0m0 1.5h0m0 2.5h0m0 115h0m0 1.5h0m0 1h0m0 1h0m0 1h0m0 3.5h0m0 4h0m0 0.5h0m0.5-157h0m0 6.5h0m0 10h0m0 1h0m0 2h0m0 4h0m0 0.5h0m0 1h0m0 0.5h0m0 0.5h0m0 1h0m0 0.5h0m0 1h0m0 0.5h0m0 0.5h0m0 1.5h0m0 2h0m0 0.5h0m0 0.5h0m0 109.5h0m0 1.5h0m0 0.5h0m0 0.5h0m0 1h0m0 1h0m0 1.5h0m0 1.5h0m0 0.5h0m0.5-162h0m0 1h0m0 8h0m0 5.5h0m0 7.5h0m0 0.5h0m0 4h0m0 1.5h0m0 0.5h0m0 0.5h0m0 5h0m0 5.5h0m0 4.5h0m0 110h0m0 0.5h0m0 0.5h0m0 1.5h0m0 1h0m0 0.5h0m0 4h0m0 1.5h0m0 3h0m0.5-158h0m0 5.5h0m0 1h0m0 9h0m0 1h0m0 1.5h0m0 2.5h0m0 1.5h0m0 123.5h0m0 0.5h0m0 0.5h0m0 4h0m0 0.5h0m0.5-160h0m0 12h0m0 6.5h0m0 2h0m0 2h0m0 2h0m0 1.5h0m0 1h0m0 1h0m0 1.5h0m0 0.5h0m0 3h0m0 2h0m0 0.5h0m0 4.5h0m0 0.5h0m0 1h0m0 0.5h0m0 109h0m0 0.5h0m0 2h0m0 1h0m0 2.5h0m0 1h0m0 0.5h0m0 6.5h0m0 3h0m0.5-146h0m0 10h0m0 2h0m0 3h0m0 1h0m0 0.5h0m0 1.5h0m0 1h0m0 2.5h0m0 106h0m0 0.5h0m0 0.5h0m0 1h0m0 1h0m0 0.5h0m0 1h0m0 1.5h0m0 3h0m0 2.5h0m0 1h0m0 4h0m0.5-151.5h0m0 7.5h0m0 8h0m0 2.5h0m0 1.5h0m0 1.5h0m0 0.5h0m0 1h0m0 1h0m0 0.5h0m0 1h0m0 0.5h0m0 1h0m0 1h0m0 0.5h0m0 1h0m0 106.5h0m0 0.5h0m0 1h0m0 0.5h0m0 0.5h0m0 1.5h0m0 0.5h0m0 1h0m0 1h0m0 0.5h0m0 0.5h0m0 8h0m0.5-151.5h0m0 9h0m0 3.5h0m0 2.5h0m0 1h0m0 2h0m0 0.5h0m0 1.5h0m0 0.5h0m0 0.5h0m0 0.5h0m0 1h0m0 1h0m0 1.5h0m0 0.5h0m0 0.5h0m0 0.5h0m0 0.5h0m0 1h0m0 109.5h0m0 0.5h0m0 1.5h0m0 1h0m0 1h0m0 3h0m0 0.5h0m0 1.5h0m0.5-148h0m0 5h0m0 2.5h0m0 1h0m0 0.5h0m0 3h0m0 1h0m0 1.5h0m0 3h0m0 0.5h0m0 0.5h0m0 0.5h0m0 2.5h0m0 0.5h0m0 0.5h0m0 1.5h0m0 0.5h0m0 0.5h0m0 2h0m0 0.5h0m0 1h0m0 1h0m0 102.5h0m0 0.5h0m0 5.5h0m0 0.5h0m0 2h0m0 1h0m0 3h0m0 1h0m0 1.5h0m0 2.5h0m0.5-155.5h0m0 2h0m0 5h0m0 5.5h0m0 1h0m0 1.5h0m0 0.5h0m0 0.5h0m0 1h0m0 1h0m0 1h0m0 0.5h0m0 1h0m0 0.5h0m0 1h0m0 1.5h0m0 0.5h0m0 0.5h0m0 1h0m0 0.5h0m0 0.5h0m0 1h0m0 110.5h0m0 2.5h0m0 1h0m0 0.5h0m0 0.5h0m0 1h0m0 0.5h0m0 1h0m0 1h0m0 1h0m0 0.5h0m0 1.5h0m0 2.5h0m0 1h0m0 0.5h0m0 1.5h0m0 3h0m0.5-154h0m0 4.5h0m0 1h0m0 3h0m0 1.5h0m0 2h0m0 2h0m0 1.5h0m0 1.5h0m0 0.5h0m0 0.5h0m0 1.5h0m0 1h0m0 0.5h0m0 1.5h0m0 0.5h0m0 2h0m0 0.5h0m0 0.5h0m0 1.5h0m0 1.5h0m0 1h0m0 3.5h0m0 3.5h0m0 3h0m0 9h0m0 0.5h0m0 1h0m0 2h0m0 1h0m0 4.5h0m0 1.5h0m0 1h0m0 2.5h0m0 1.5h0m0 1.5h0m0 5h0m0 1.5h0m0 1.5h0m0 1.5h0m0 0.5h0m0 0.5h0m0 2h0m0 1h0m0 4h0m0 1.5h0m0 4.5h0m0 1.5h0m0 1h0m0 3.5h0m0 1h0m0 1h0m0 1.5h0m0 2h0m0 1.5h0m0 1.5h0m0 2h0m0 0.5h0m0 0.5h0m0 1.5h0m0 2.5h0m0 1h0m0 4.5h0m0 2h0m0 4.5h0m0 3.5h0m0 2h0m0 3.5h0m0 3h0m0 0.5h0m0 2.5h0m0 2h0m0 1h0m0 1h0m0 6.5h0m0.5-137.5h0m0 6h0m0 1.5h0m0 2h0m0 1h0m0 2.5h0m0 2.5h0m0 1h0m0 1h0m0 2h0m0 3.5h0m0 1.5h0m0 2.5h0m0 1h0m0 0.5h0m0 3h0m0 0.5h0m0 0.5h0m0 0.5h0m0 0.5h0m0 1h0m0 2h0m0 1h0m0 0.5h0m0 1.5h0m0 0.5h0m0 1.5h0m0 0.5h0m0 0.5h0m0 2.5h0m0 2.5h0m0 0.5h0m0 0.5h0m0 0.5h0m0 0.5h0m0 1h0m0 1h0m0 0.5h0m0 0.5h0m0 1h0m0 5h0m0 1h0m0 0.5h0m0 3h0m0 0.5h0m0 2.5h0m0 0.5h0m0 2h0m0 1h0m0 0.5h0m0 0.5h0m0 0.5h0m0 0.5h0m0 0.5h0m0 0.5h0m0 0.5h0m0 1h0m0 3.5h0m0 1h0m0 0.5h0m0 0.5h0m0 0.5h0m0 1h0m0 1.5h0m0 1h0m0 2.5h0m0 1h0m0 0.5h0m0 0.5h0m0 1h0m0 4h0m0 0.5h0m0 0.5h0m0 0.5h0m0 0.5h0m0 0.5h0m0 0.5h0m0 0.5h0m0 1.5h0m0 1h0m0 0.5h0m0 3h0m0 2h0m0 1h0m0 0.5h0m0 0.5h0m0 1.5h0m0 0.5h0m0 0.5h0m0 0.5h0m0 1h0m0 2h0m0 2h0m0 3.5h0m0 2.5h0m0 3.5h0m0 0.5h0m0 0.5h0m0 1.5h0m0 1h0m0 1.5h0m0 0.5h0m0 0.5h0m0 2.5h0m0 3.5h0m0.5-127h0m0 4h0m0 1h0m0 0.5h0m0 0.5h0m0 2.5h0m0 2h0m0 2h0m0 2.5h0m0 1.5h0m0 1.5h0m0 0.5h0m0 0.5h0m0 1h0m0 2h0m0 0.5h0m0 0.5h0m0 0.5h0m0 1.5h0m0 0.5h0m0 1h0m0 2h0m0 0.5h0m0 1h0m0 2.5h0m0 1.5h0m0 1h0m0 1h0m0 0.5h0m0 0.5h0m0 0.5h0m0 2.5h0m0 0.5h0m0 2h0m0 1.5h0m0 0.5h0m0 0.5h0m0 1h0m0 0.5h0m0 0.5h0m0 4h0m0 1.5h0m0 2h0m0 1h0m0 1h0m0 1h0m0 0.5h0m0 0.5h0m0 2h0m0 0.5h0m0 3h0m0 0.5h0m0 1.5h0m0 1h0m0 1h0m0 0.5h0m0 0.5h0m0 3.5h0m0 2h0m0 0.5h0m0 1h0m0 0.5h0m0 1.5h0m0 0.5h0m0 0.5h0m0 0.5h0m0 0.5h0m0 2h0m0 0.5h0m0 0.5h0m0 0.5h0m0 0.5h0m0 1.5h0m0 1h0m0 0.5h0m0 1.5h0m0 0.5h0m0 2.5h0m0 0.5h0m0 1h0m0 1h0m0 0.5h0m0 4h0m0 0.5h0m0 0.5h0m0 1.5h0m0 2h0m0 1h0m0 2h0m0 0.5h0m0 1.5h0m0 0.5h0m0 13.5h0m0.5-123h0m0 1h0m0 1.5h0m0 2h0m0 2.5h0m0 0.5h0m0 1.5h0m0 0.5h0m0 1h0m0 1h0m0 1h0m0 1h0m0 0.5h0m0 0.5h0m0 0.5h0m0 0.5h0m0 0.5h0m0 1h0m0 1.5h0m0 0.5h0m0 2h0m0 3.5h0m0 1h0m0 1h0m0 1h0m0 1h0m0 1.5h0m0 2.5h0m0 1.5h0m0 0.5h0m0 1h0m0 0.5h0m0 0.5h0m0 0.5h0m0 0.5h0m0 1.5h0m0 3h0m0 1h0m0 2h0m0 5h0m0 0.5h0m0 6h0m0 4.5h0m0 1h0m0 6h0m0 1.5h0m0 0.5h0m0 0.5h0m0 6h0m0 1h0m0 0.5h0m0 0.5h0m0 1h0m0 1.5h0m0 0.5h0m0 3h0m0 1.5h0m0 2h0m0 1.5h0m0 3h0m0 3h0m0 0.5h0m0 1h0m0 0.5h0m0 0.5h0m0 0.5h0m0 1h0m0 0.5h0m0 1.5h0m0 0.5h0m0 0.5h0m0 0.5h0m0 2.5h0m0 0.5h0m0 3.5h0m0 0.5h0m0 2h0m0 2h0m0 1h0m0 0.5h0m0 0.5h0m0 2h0m0 0.5h0m0 2.5h0m0 0.5h0m0 0.5h0m0 1h0m0 1h0m0 3h0m0.5-121.5h0m0 0.5h0m0 2h0m0 1h0m0 3h0m0 1.5h0m0 2h0m0 2h0m0 0.5h0m0 1.5h0m0 0.5h0m0 1h0m0 1h0m0 2.5h0m0 0.5h0m0 1h0m0 2.5h0m0 0.5h0m0 1h0m0 0.5h0m0 2.5h0m0 0.5h0m0 2h0m0 2.5h0m0 1h0m0 0.5h0m0 1h0m0 0.5h0m0 1h0m0 0.5h0m0 0.5h0m0 1h0m0 1h0m0 1.5h0m0 1.5h0m0 0.5h0m0 1h0m0 1.5h0m0 0.5h0m0 0.5h0m0 0.5h0m0 0.5h0m0 1h0m0 1h0m0 1h0m0 1h0m0 2.5h0m0 0.5h0m0 0.5h0m0 0.5h0m0 0.5h0m0 1.5h0m0 1.5h0m0 1.5h0m0 1h0m0 1h0m0 3h0m0 0.5h0m0 4h0m0 1h0m0 1h0m0 3.5h0m0 0.5h0m0 1.5h0m0 1h0m0 1h0m0 1h0m0 0.5h0m0 2.5h0m0 0.5h0m0 1h0m0 1.5h0m0 7h0m0 0.5h0m0 2h0m0 1.5h0m0 1h0m0 0.5h0m0 0.5h0m0 4.5h0m0 2h0m0 0.5h0m0 1h0m0 0.5h0m0 2h0m0 0.5h0m0 3.5h0m0 0.5h0m0 4.5h0m0 0.5h0m0.5-125.5h0m0 2.5h0m0 7h0m0 0.5h0m0 4h0m0 1h0m0 0.5h0m0 0.5h0m0 1h0m0 1h0m0 0.5h0m0 0.5h0m0 1h0m0 1h0m0 2h0m0 1.5h0m0 1h0m0 1h0m0 1h0m0 0.5h0m0 0.5h0m0 1.5h0m0 2.5h0m0 4h0m0 1.5h0m0 1h0m0 1h0m0 0.5h0m0 0.5h0m0 4h0m0 0.5h0m0 0.5h0m0 1.5h0m0 0.5h0m0 1h0m0 1h0m0 1h0m0 0.5h0m0 0.5h0m0 1.5h0m0 1.5h0m0 1.5h0m0 0.5h0m0 3h0m0 1h0m0 0.5h0m0 1h0m0 1.5h0m0 0.5h0m0 6.5h0m0 0.5h0m0 0.5h0m0 2h0m0 4h0m0 1h0m0 3.5h0m0 1.5h0m0 0.5h0m0 1h0m0 1h0m0 0.5h0m0 2.5h0m0 4.5h0m0 2.5h0m0 1h0m0 1h0m0 1.5h0m0 1.5h0m0 1.5h0m0 0.5h0m0 7h0m0 0.5h0m0 1.5h0m0 0.5h0m0 0.5h0m0 0.5h0m0 5h0m0 2h0m0 0.5h0m0 3h0m0.5-126.5h0m0 8h0m0 4.5h0m0 1.5h0m0 1h0m0 6h0m0 1.5h0m0 3h0m0 1.5h0m0 2h0m0 1h0m0 1h0m0 0.5h0m0 4h0m0 3h0m0 3h0m0 1.5h0m0 1.5h0m0 3.5h0m0 2h0m0 1.5h0m0 3h0m0 1.5h0m0 4h0m0 1h0m0 0.5h0m0 1h0m0 0.5h0m0 0.5h0m0 1.5h0m0 3h0m0 1.5h0m0 0.5h0m0 1h0m0 0.5h0m0 1h0m0 2.5h0m0 5h0m0 1h0m0 0.5h0m0 0.5h0m0 3h0m0 0.5h0m0 3h0m0 2h0m0 5h0m0 1h0m0 3h0m0 1.5h0m0 4.5h0m0 2.5h0m0 0.5h0m0 0.5h0m0 3h0m0 2.5h0m0 0.5h0m0 0.5h0m0 9.5h0m0.5-127h0m0 1h0m0 6h0m0 1h0m0 3.5h0m0 3h0m0 0.5h0m0 1h0m0 1h0m0 0.5h0m0 2.5h0m0 3h0m0 3h0m0 1h0m0 3h0m0 1h0m0 1h0m0 1h0m0 1.5h0m0 2.5h0m0 4.5h0m0 0.5h0m0 0.5h0m0 1h0m0 2h0m0 3.5h0m0 4.5h0m0 1.5h0m0 4h0m0 3h0m0 2.5h0m0 0.5h0m0 4h0m0 0.5h0m0 1h0m0 2h0m0 1h0m0 0.5h0m0 1.5h0m0 0.5h0m0 5.5h0m0 0.5h0m0 1.5h0m0 3.5h0m0 1h0m0 5h0m0 1.5h0m0 7.5h0m0 1h0m0 0.5h0m0 3h0m0 1.5h0m0 3h0m0 1.5h0m0 3.5h0m0 1h0m0 2h0m0 3.5h0m0 0.5h0m0 1h0m0.5-118.5h0m0 2h0m0 2.5h0m0 0.5h0m0 0.5h0m0 3h0m0 2h0m0 1h0m0 3h0m0 7h0m0 3.5h0m0 0.5h0m0 3h0m0 5h0m0 1h0m0 2.5h0m0 0.5h0m0 2h0m0 1h0m0 0.5h0m0 3h0m0 4h0m0 3.5h0m0 1h0m0 1h0m0 2h0m0 0.5h0m0 2h0m0 3h0m0 1.5h0m0 0.5h0m0 0.5h0m0 1h0m0 2.5h0m0 2h0m0 1h0m0 2h0m0 3.5h0m0 0.5h0m0 0.5h0m0 4h0m0 2h0m0 0.5h0m0 1.5h0m0 2.5h0m0 1.5h0m0 2h0m0 7.5h0m0 3h0m0 1h0m0 4h0m0 1h0m0 1h0m0 2h0m0 8h0m0 0.5h0m0.5-112.5h0m0 1h0m0 1h0m0 2h0m0 2h0m0 3h0m0 0.5h0m0 9.5h0m0 0.5h0m0 2.5h0m0 3h0m0 2h0m0 1h0m0 1h0m0 2.5h0m0 2.5h0m0 4h0m0 8.5h0m0 0.5h0m0 5h0m0 1.5h0m0 0.5h0m0 4h0m0 4.5h0m0 1.5h0m0 2h0m0 4h0m0 4h0m0 4h0m0 0.5h0m0 1.5h0m0 5.5h0m0 1h0m0 0.5h0m0 1h0m0 2h0m0 0.5h0m0 2.5h0m0 1.5h0m0 3.5h0m0 0.5h0m0 1h0m0 5.5h0m0 1h0m0 5.5h0m0.5-130h0m0 8h0m0 6.5h0m0 1h0m0 0.5h0m0 5h0m0 1h0m0 1h0m0 2h0m0 0.5h0m0 0.5h0m0 3h0m0 2.5h0m0 1h0m0 7.5h0m0 0.5h0m0 0.5h0m0 3h0m0 1.5h0m0 0.5h0m0 0.5h0m0 1.5h0m0 7h0m0 0.5h0m0 0.5h0m0 1.5h0m0 0.5h0m0 1h0m0 2.5h0m0 1h0m0 1h0m0 2.5h0m0 1.5h0m0 0.5h0m0 2h0m0 0.5h0m0 1h0m0 1.5h0m0 1h0m0 0.5h0m0 0.5h0m0 1.5h0m0 3.5h0m0 3h0m0 1.5h0m0 1.5h0m0 2.5h0m0 1.5h0m0 1h0m0 0.5h0m0 0.5h0m0 0.5h0m0 0.5h0m0 1.5h0m0 0.5h0m0 0.5h0m0 1h0m0 2h0m0 1.5h0m0 1h0m0 1h0m0 4h0m0 1.5h0m0 1h0m0 1h0m0 2h0m0 1h0m0 1.5h0m0 1h0m0 0.5h0m0 2h0m0 1h0m0 0.5h0m0 0.5h0m0 0.5h0m0 1.5h0m0 1h0m0 1h0m0 0.5h0m0 0.5h0m0 0.5h0m0 4.5h0m0 2.5h0m0 2h0m0 10h0m0.5-152h0m0 0.5h0m0 1h0m0 1h0m0 4h0m0 3.5h0m0 1.5h0m0 2h0m0 1h0m0 2.5h0m0 0.5h0m0 0.5h0m0 1h0m0 0.5h0m0 1h0m0 2h0m0 3.5h0m0 1.5h0m0 0.5h0m0 0.5h0m0 1h0m0 1.5h0m0 0.5h0m0 1.5h0m0 4h0m0 0.5h0m0 2h0m0 1h0m0 1h0m0 1h0m0 1.5h0m0 0.5h0m0 0.5h0m0 1h0m0 0.5h0m0 0.5h0m0 1h0m0 1h0m0 2.5h0m0 2.5h0m0 1h0m0 1h0m0 1.5h0m0 0.5h0m0 0.5h0m0 0.5h0m0 3.5h0m0 0.5h0m0 1h0m0 1h0m0 2.5h0m0 1h0m0 2h0m0 0.5h0m0 0.5h0m0 1h0m0 1.5h0m0 0.5h0m0 0.5h0m0 0.5h0m0 1h0m0 1h0m0 2.5h0m0 0.5h0m0 0.5h0m0 1h0m0 0.5h0m0 1h0m0 1h0m0 0.5h0m0 1.5h0m0 1h0m0 1.5h0m0 0.5h0m0 1.5h0m0 9h0m0 4h0m0 1.5h0m0 1.5h0m0 0.5h0m0 0.5h0m0 2.5h0m0 3.5h0m0 0.5h0m0 1.5h0m0 0.5h0m0 0.5h0m0 1h0m0 0.5h0m0 1.5h0m0 1h0m0 0.5h0m0 1h0m0 1.5h0m0 1.5h0m0 1.5h0m0 1.5h0m0 1.5h0m0 1h0m0 0.5h0m0 2h0m0 1h0m0 0.5h0m0 0.5h0m0 1h0m0 0.5h0m0 0.5h0m0 1.5h0m0 0.5h0m0 1h0m0 0.5h0m0 4h0m0 1.5h0m0.5-161.5h0m0 12h0m0 2.5h0m0 1.5h0m0 6h0m0 5h0m0 1h0m0 1h0m0 1h0m0 2h0m0 0.5h0m0 1.5h0m0 0.5h0m0 6.5h0m0 3.5h0m0 1h0m0 1h0m0 2h0m0 4h0m0 2h0m0 8.5h0m0 0.5h0m0 1h0m0 1.5h0m0 3h0m0 0.5h0m0 0.5h0m0 2.5h0m0 1h0m0 1.5h0m0 1h0m0 1h0m0 0.5h0m0 3.5h0m0 2h0m0 0.5h0m0 1h0m0 1h0m0 0.5h0m0 0.5h0m0 1.5h0m0 0.5h0m0 3h0m0 1h0m0 3.5h0m0 0.5h0m0 0.5h0m0 2.5h0m0 6h0m0 1h0m0 1h0m0 0.5h0m0 1h0m0 1h0m0 2h0m0 0.5h0m0 2h0m0 3h0m0 1h0m0 0.5h0m0 2h0m0 5h0m0 1h0m0 6.5h0m0 8.5h0m0 0.5h0m0 1.5h0m0 1h0m0 0.5h0m0 2h0m0 0.5h0m0 2h0m0 1.5h0m0 1.5h0m0 3h0m0 5h0m0 3h0m0 2.5h0m0 1h0m0 1h0m0 1.5h0m0 7h0m0 0.5h0m0.5-166h0m0 0.5h0m0 0.5h0m0 3h0m0 0.5h0m0 1h0m0 0.5h0m0 145h0m0 0.5h0m0 0.5h0m0 0.5h0m0 1h0m0 6.5h0m0 1.5h0m0 3h0m0.5-166.5h0m0 2h0m0 1.5h0m0 0.5h0m0 0.5h0m0 1.5h0m0 0.5h0m0 0.5h0m0 1h0m0 143.5h0m0 1h0m0 1.5h0m0 1h0m0 1h0m0 1h0m0 1.5h0m0 2h0m0 2.5h0m0 1h0m0 0.5h0m0.5-169h0m0 0.5h0m0 1.5h0m0 6h0m0 0.5h0m0 1.5h0m0 1h0m0 1h0m0 0.5h0m0 0.5h0m0 143h0m0 0.5h0m0 0.5h0m0 1.5h0m0 1.5h0m0 1.5h0m0 3h0m0 1.5h0m0 0.5h0m0 3h0m0 2.5h0m0.5-166h0m0 2h0m0 1h0m0 0.5h0m0 0.5h0m0 147h0m0 0.5h0m0 1h0m0 0.5h0m0 1h0m0 5h0m0 1h0m0 2h0m0 2h0m0 1.5h0m0.5-174h0m0 1h0m0 4h0m0 2.5h0m0 2.5h0m0 1.5h0m0 157h0m0 0.5h0m0 0.5h0m0 1h0m0 1.5h0m0 0.5h0m0 0.5h0m0 0.5h0m0 0.5h0m0 1h0m0 0.5h0m0 1h0m0.5-173.5h0m0 4.5h0m0 1h0m0 2h0m0 0.5h0m0 0.5h0m0 157.5h0m0 0.5h0m0 1.5h0m0 0.5h0m0 0.5h0m0 2h0m0 0.5h0m0 0.5h0m0 0.5h0m0 1.5h0m0 3h0m0 1.5h0m0.5-183.5h0m0 7h0m0 3h0m0 0.5h0m0 163.5h0m0 2h0m0 1.5h0m0 0.5h0m0 1h0m0 1h0m0 2.5h0m0.5-177h0m0 0.5h0m0 4h0m0 2.5h0m0 1h0m0 2.5h0m0 1.5h0m0 151h0m0 3h0m0 3h0m0 1.5h0m0 1.5h0m0 2h0m0.5-175.5h0m0 3.5h0m0 3h0m0 0.5h0m0 0.5h0m0 4h0m0 1.5h0m0 0.5h0m0 0.5h0m0 2h0m0 147.5h0m0 2.5h0m0 4.5h0m0 4h0m0.5-170.5h0m0 1h0m0 1h0m0 0.5h0m0 2.5h0m0 2.5h0m0 2.5h0m0 2h0m0 3h0m0 2.5h0m0 2h0m0 0.5h0m0 1h0m0 1h0m0 8.5h0m0 1h0m0 1.5h0m0 3.5h0m0 1h0m0 6h0m0 1.5h0m0 1h0m0 1.5h0m0 1.5h0m0 1.5h0m0 0.5h0m0 0.5h0m0 0.5h0m0 2.5h0m0 2.5h0m0 2h0m0 2h0m0 0.5h0m0 1.5h0m0 0.5h0m0 1h0m0 0.5h0m0 2h0m0 1h0m0 6.5h0m0 1h0m0 0.5h0m0 0.5h0m0 3h0m0 2.5h0m0 0.5h0m0 2h0m0 0.5h0m0 1h0m0 0.5h0m0 0.5h0m0 0.5h0m0 0.5h0m0 0.5h0m0 1h0m0 1h0m0 0.5h0m0 11h0m0 0.5h0m0 2.5h0m0 1.5h0m0 1h0m0 0.5h0m0 0.5h0m0 3h0m0 0.5h0m0 4h0m0 2.5h0m0 1.5h0m0 1h0m0 1h0m0 2h0m0 0.5h0m0 1h0m0 1h0m0 1.5h0m0 1h0m0 1h0m0 0.5h0m0 1.5h0m0 3h0m0 0.5h0m0 3.5h0m0 4.5h0m0 2.5h0m0 0.5h0m0 1.5h0m0 2.5h0m0 1h0m0 0.5h0m0 0.5h0m0 1h0m0 1.5h0m0 1h0m0 0.5h0m0 1h0m0 4h0m0 0.5h0m0 7.5h0m0.5-167h0m0 4.5h0m0 4.5h0m0 1h0m0 1h0m0 1h0m0 1.5h0m0 5h0m0 0.5h0m0 0.5h0m0 0.5h0m0 2.5h0m0 0.5h0m0 1h0m0 1.5h0m0 0.5h0m0 1h0m0 0.5h0m0 0.5h0m0 1h0m0 1.5h0m0 0.5h0m0 0.5h0m0 0.5h0m0 0.5h0m0 0.5h0m0 1h0m0 1.5h0m0 0.5h0m0 1h0m0 1.5h0m0 0.5h0m0 0.5h0m0 1h0m0 0.5h0m0 1.5h0m0 1.5h0m0 1.5h0m0 1h0m0 1h0m0 1.5h0m0 1h0m0 0.5h0m0 1.5h0m0 1h0m0 0.5h0m0 0.5h0m0 1.5h0m0 0.5h0m0 0.5h0m0 0.5h0m0 1h0m0 0.5h0m0 0.5h0m0 1h0m0 0.5h0m0 1h0m0 2h0m0 1h0m0 2h0m0 1h0m0 1h0m0 1h0m0 1h0m0 1h0m0 1h0m0 0.5h0m0 1h0m0 0.5h0m0 1h0m0 1h0m0 0.5h0m0 1h0m0 0.5h0m0 2h0m0 0.5h0m0 1.5h0m0 1.5h0m0 1.5h0m0 1h0m0 0.5h0m0 0.5h0m0 2h0m0 0.5h0m0 2.5h0m0 0.5h0m0 0.5h0m0 1h0m0 0.5h0m0 2h0m0 0.5h0m0 0.5h0m0 1h0m0 1h0m0 0.5h0m0 0.5h0m0 0.5h0m0 0.5h0m0 3.5h0m0 1h0m0 0.5h0m0 3.5h0m0 0.5h0m0 0.5h0m0 0.5h0m0 1h0m0 1h0m0 1h0m0 2h0m0 0.5h0m0 0.5h0m0 0.5h0m0 0.5h0m0 0.5h0m0 1h0m0 0.5h0m0 0.5h0m0 1.5h0m0 2.5h0m0 0.5h0m0 0.5h0m0 1h0m0 0.5h0m0 1.5h0m0 2h0m0 0.5h0m0 0.5h0m0 1h0m0 1h0m0 1h0m0 0.5h0m0 2.5h0m0 4h0m0 2h0m0 0.5h0m0 1.5h0m0 1h0m0 0.5h0m0 0.5h0m0 1.5h0m0 0.5h0m0 1h0m0 0.5h0m0 1h0m0 1.5h0m0 1.5h0m0 2.5h0m0 2h0m0 6.5h0m0.5-162h0m0 2.5h0m0 0.5h0m0 1.5h0m0 1.5h0m0 0.5h0m0 0.5h0m0 1.5h0m0 1h0m0 0.5h0m0 1h0m0 0.5h0m0 2h0m0 0.5h0m0 1.5h0m0 2h0m0 1h0m0 0.5h0m0 0.5h0m0 2.5h0m0 1.5h0m0 1h0m0 2h0m0 2.5h0m0 1.5h0m0 3h0m0 0.5h0m0 2h0m0 0.5h0m0 3h0m0 2.5h0m0 2.5h0m0 0.5h0m0 5h0m0 0.5h0m0 0.5h0m0 2h0m0 0.5h0m0 4.5h0m0 3h0m0 0.5h0m0 1.5h0m0 1h0m0 1h0m0 6h0m0 2h0m0 3h0m0 1.5h0m0 1.5h0m0 4.5h0m0 1.5h0m0 4h0m0 3h0m0 1h0m0 0.5h0m0 2.5h0m0 0.5h0m0 2.5h0m0 4h0m0 5h0m0 0.5h0m0 0.5h0m0 1h0m0 1h0m0 1.5h0m0 3.5h0m0 6h0m0 0.5h0m0 0.5h0m0 4h0m0 0.5h0m0 0.5h0m0 0.5h0m0 2h0m0 1h0m0 3h0m0 1.5h0m0 0.5h0m0 1.5h0m0 3h0m0 1h0m0 0.5h0m0 3h0m0 2.5h0m0 1.5h0m0 0.5h0m0 6h0m0.5-159h0m0 3h0m0 0.5h0m0 1h0m0 1.5h0m0 1h0m0 1h0m0 0.5h0m0 0.5h0m0 1h0m0 1h0m0 1h0m0 0.5h0m0 1h0m0 1h0m0 0.5h0m0 2.5h0m0 2h0m0 0.5h0m0 0.5h0m0 1h0m0 1h0m0 0.5h0m0 1h0m0 0.5h0m0 2h0m0 110.5h0m0 0.5h0m0 2h0m0 1.5h0m0 0.5h0m0 1.5h0m0 4.5h0m0 0.5h0m0 16.5h0m0.5-158.5h0m0 1h0m0 2h0m0 1h0m0 2h0m0 1h0m0 0.5h0m0 0.5h0m0 2h0m0 2.5h0m0 1.5h0m0 0.5h0m0 1h0m0 0.5h0m0 1h0m0 2.5h0m0 2.5h0m0 0.5h0m0 2h0m0 2h0m0 2h0m0 0.5h0m0 2.5h0m0 1h0m0 1h0m0 0.5h0m0 2h0m0 0.5h0m0 2.5h0m0 0.5h0m0 0.5h0m0 0.5h0m0 1.5h0m0 0.5h0m0 3.5h0m0 1h0m0 2.5h0m0 1h0m0 3.5h0m0 1h0m0 1.5h0m0 1.5h0m0 3h0m0 4h0m0 1h0m0 1h0m0 1h0m0 1h0m0 1h0m0 2.5h0m0 0.5h0m0 1h0m0 0.5h0m0 3h0m0 3h0m0 5.5h0m0 1h0m0 0.5h0m0 1h0m0 0.5h0m0 1h0m0 0.5h0m0 6h0m0 0.5h0m0 0.5h0m0 0.5h0m0 1.5h0m0 1h0m0 1h0m0 1h0m0 0.5h0m0 3.5h0m0 0.5h0m0 0.5h0m0 0.5h0m0 1h0m0 2.5h0m0 0.5h0m0 1.5h0m0 2h0m0 1.5h0m0 0.5h0m0 7h0m0 3h0m0 1.5h0m0 1h0m0 3h0m0 1.5h0m0 0.5h0m0 0.5h0m0 1h0m0 1h0m0 0.5h0m0 4h0m0 7h0m0 1h0m0.5-148.5h0m0 4h0m0 1.5h0m0 2h0m0 2.5h0m0 3.5h0m0 0.5h0m0 0.5h0m0 1.5h0m0 0.5h0m0 2h0m0 2.5h0m0 3h0m0 1h0m0 0.5h0m0 1h0m0 0.5h0m0 0.5h0m0 0.5h0m0 1h0m0 3h0m0 1.5h0m0 0.5h0m0 0.5h0m0 1.5h0m0 2h0m0 1.5h0m0 1.5h0m0 1h0m0 0.5h0m0 0.5h0m0 1.5h0m0 0.5h0m0 0.5h0m0 1h0m0 0.5h0m0 2h0m0 0.5h0m0 0.5h0m0 0.5h0m0 0.5h0m0 1h0m0 0.5h0m0 1.5h0m0 2h0m0 0.5h0m0 0.5h0m0 1.5h0m0 0.5h0m0 1.5h0m0 1.5h0m0 0.5h0m0 0.5h0m0 0.5h0m0 0.5h0m0 1.5h0m0 1h0m0 1.5h0m0 0.5h0m0 0.5h0m0 0.5h0m0 1h0m0 2.5h0m0 1h0m0 1h0m0 0.5h0m0 1h0m0 1h0m0 0.5h0m0 1.5h0m0 0.5h0m0 0.5h0m0 1h0m0 1.5h0m0 0.5h0m0 1.5h0m0 0.5h0m0 0.5h0m0 1.5h0m0 1h0m0 1h0m0 1h0m0 0.5h0m0 0.5h0m0 0.5h0m0 1h0m0 0.5h0m0 1h0m0 1.5h0m0 1h0m0 0.5h0m0 1.5h0m0 0.5h0m0 1h0m0 0.5h0m0 1h0m0 0.5h0m0 0.5h0m0 0.5h0m0 0.5h0m0 1.5h0m0 1h0m0 0.5h0m0 0.5h0m0 0.5h0m0 0.5h0m0 1.5h0m0 0.5h0m0 1.5h0m0 0.5h0m0 1h0m0 0.5h0m0 0.5h0m0 0.5h0m0 0.5h0m0 0.5h0m0 0.5h0m0 1.5h0m0 0.5h0m0 0.5h0m0 1h0m0 0.5h0m0 1h0m0 0.5h0m0 1.5h0m0 0.5h0m0 1h0m0 0.5h0m0 3.5h0m0 0.5h0m0 1h0m0 0.5h0m0 0.5h0m0 0.5h0m0 4.5h0m0 1h0m0 1h0m0 0.5h0m0.5-129.5h0m0 0.5h0m0 2.5h0m0 1h0m0 3h0m0 1.5h0m0 2h0m0 1.5h0m0 0.5h0m0 0.5h0m0 0.5h0m0 2.5h0m0 1.5h0m0 2.5h0m0 0.5h0m0 0.5h0m0 2.5h0m0 0.5h0m0 1h0m0 1.5h0m0 0.5h0m0 0.5h0m0 1h0m0 0.5h0m0 2h0m0 1h0m0 0.5h0m0 0.5h0m0 1h0m0 1.5h0m0 0.5h0m0 2h0m0 0.5h0m0 0.5h0m0 0.5h0m0 0.5h0m0 1h0m0 0.5h0m0 2.5h0m0 0.5h0m0 1h0m0 1h0m0 0.5h0m0 1h0m0 3.5h0m0 0.5h0m0 0.5h0m0 1h0m0 2.5h0m0 1h0m0 1h0m0 0.5h0m0 0.5h0m0 0.5h0m0 1h0m0 0.5h0m0 1.5h0m0 1h0m0 0.5h0m0 1.5h0m0 1.5h0m0 1.5h0m0 0.5h0m0 1h0m0 1.5h0m0 0.5h0m0 0.5h0m0 1h0m0 0.5h0m0 0.5h0m0 0.5h0m0 1h0m0 1h0m0 1.5h0m0 1h0m0 0.5h0m0 0.5h0m0 1h0m0 0.5h0m0 1h0m0 1h0m0 0.5h0m0 2h0m0 2h0m0 0.5h0m0 1h0m0 1h0m0 0.5h0m0 0.5h0m0 1.5h0m0 2.5h0m0 0.5h0m0 0.5h0m0 0.5h0m0 1h0m0 1.5h0m0 0.5h0m0 1.5h0m0 0.5h0m0 1.5h0m0 0.5h0m0 0.5h0m0 1h0m0 0.5h0m0 2.5h0m0 2h0m0 1h0m0 1h0m0 0.5h0m0 2h0m0 0.5h0m0 4h0m0 0.5h0m0 0.5h0m0 1h0m0 0.5h0m0 0.5h0m0 0.5h0m0 3h0m0 1.5h0m0 11.5h0m0.5-127h0m0 4h0m0 2.5h0m0 4h0m0 1h0m0 2.5h0m0 1h0m0 0.5h0m0 2h0m0 1h0m0 2h0m0 0.5h0m0 1.5h0m0 2h0m0 0.5h0m0 0.5h0m0 0.5h0m0 2.5h0m0 0.5h0m0 1h0m0 0.5h0m0 1h0m0 0.5h0m0 2.5h0m0 0.5h0m0 0.5h0m0 2.5h0m0 1.5h0m0 0.5h0m0 0.5h0m0 3h0m0 0.5h0m0 0.5h0m0 0.5h0m0 0.5h0m0 2h0m0 1h0m0 0.5h0m0 0.5h0m0 0.5h0m0 0.5h0m0 0.5h0m0 0.5h0m0 0.5h0m0 0.5h0m0 0.5h0m0 2h0m0 0.5h0m0 2.5h0m0 0.5h0m0 2.5h0m0 0.5h0m0 2h0m0 3h0m0 1h0m0 0.5h0m0 0.5h0m0 2h0m0 0.5h0m0 1h0m0 5.5h0m0 2.5h0m0 0.5h0m0 3h0m0 0.5h0m0 3h0m0 0.5h0m0 1h0m0 2h0m0 0.5h0m0 0.5h0m0 0.5h0m0 1h0m0 1h0m0 0.5h0m0 0.5h0m0 1h0m0 0.5h0m0 1h0m0 1h0m0 3h0m0 2.5h0m0 2h0m0 1h0m0 4h0m0 1.5h0m0 0.5h0m0 0.5h0m0 1h0m0 0.5h0m0.5-118.5h0m0 1.5h0m0 3.5h0m0 2h0m0 0.5h0m0 0.5h0m0 0.5h0m0 1h0m0 0.5h0m0 1h0m0 1h0m0 3.5h0m0 2.5h0m0 3h0m0 1h0m0 1h0m0 1.5h0m0 0.5h0m0 0.5h0m0 2.5h0m0 1h0m0 1.5h0m0 0.5h0m0 1h0m0 0.5h0m0 3.5h0m0 0.5h0m0 0.5h0m0 0.5h0m0 1h0m0 1h0m0 0.5h0m0 1h0m0 0.5h0m0 1h0m0 1h0m0 1h0m0 1h0m0 1h0m0 0.5h0m0 0.5h0m0 2h0m0 0.5h0m0 0.5h0m0 0.5h0m0 0.5h0m0 3.5h0m0 0.5h0m0 2h0m0 1h0m0 0.5h0m0 1h0m0 0.5h0m0 5h0m0 5.5h0m0 1h0m0 0.5h0m0 2h0m0 1h0m0 1.5h0m0 3.5h0m0 0.5h0m0 0.5h0m0 0.5h0m0 0.5h0m0 0.5h0m0 2h0m0 1.5h0m0 0.5h0m0 0.5h0m0 1.5h0m0 1.5h0m0 0.5h0m0 0.5h0m0 2h0m0 0.5h0m0 1h0m0 1h0m0 0.5h0m0 0.5h0m0 2h0m0 1h0m0 0.5h0m0 1h0m0 0.5h0m0 0.5h0m0 0.5h0m0 1.5h0m0 5.5h0m0 1h0m0 1h0m0 0.5h0m0 1.5h0m0 1h0m0 1.5h0m0 1.5h0m0.5-129.5h0m0 6.5h0m0 1h0m0 1h0m0 0.5h0m0 2.5h0m0 2h0m0 1h0m0 1h0m0 0.5h0m0 0.5h0m0 5.5h0m0 1h0m0 1.5h0m0 0.5h0m0 1h0m0 0.5h0m0 0.5h0m0 0.5h0m0 2.5h0m0 2h0m0 0.5h0m0 1.5h0m0 2h0m0 0.5h0m0 3.5h0m0 0.5h0m0 2h0m0 2.5h0m0 0.5h0m0 1.5h0m0 1h0m0 1h0m0 0.5h0m0 0.5h0m0 2h0m0 1.5h0m0 1h0m0 1h0m0 0.5h0m0 3h0m0 0.5h0m0 0.5h0m0 5.5h0m0 3.5h0m0 0.5h0m0 1h0m0 1h0m0 1h0m0 1h0m0 0.5h0m0 0.5h0m0 0.5h0m0 0.5h0m0 0.5h0m0 1h0m0 0.5h0m0 0.5h0m0 2h0m0 1.5h0m0 1h0m0 3h0m0 0.5h0m0 0.5h0m0 0.5h0m0 0.5h0m0 1h0m0 0.5h0m0 2.5h0m0 1.5h0m0 1.5h0m0 1h0m0 1.5h0m0 0.5h0m0 1h0m0 1h0m0 2h0m0 1.5h0m0 1h0m0 1h0m0 0.5h0m0 0.5h0m0 1h0m0 2.5h0m0 0.5h0m0 1h0m0 2h0m0 1h0m0 0.5h0m0 1h0m0 1h0m0 2.5h0m0 1.5h0m0 1h0m0 0.5h0m0 1h0m0 0.5h0m0 1.5h0m0 2h0m0 1.5h0m0 0.5h0m0 0.5h0m0 1.5h0m0 2h0m0 3h0m0.5-150h0m0 11.5h0m0 1.5h0m0 0.5h0m0 1h0m0 4.5h0m0 1h0m0 2h0m0 1h0m0 1h0m0 1h0m0 0.5h0m0 1.5h0m0 0.5h0m0 3.5h0m0 0.5h0m0 1.5h0m0 0.5h0m0 0.5h0m0 2.5h0m0 2h0m0 2.5h0m0 0.5h0m0 1.5h0m0 1h0m0 2.5h0m0 2h0m0 0.5h0m0 0.5h0m0 2.5h0m0 1h0m0 1.5h0m0 2h0m0 2.5h0m0 1.5h0m0 0.5h0m0 1h0m0 1.5h0m0 1h0m0 0.5h0m0 1h0m0 1h0m0 1h0m0 0.5h0m0 0.5h0m0 1h0m0 4h0m0 2h0m0 1.5h0m0 3.5h0m0 1.5h0m0 0.5h0m0 0.5h0m0 1.5h0m0 2h0m0 1.5h0m0 0.5h0m0 3h0m0 0.5h0m0 1h0m0 1.5h0m0 0.5h0m0 0.5h0m0 0.5h0m0 0.5h0m0 0.5h0m0 0.5h0m0 2h0m0 0.5h0m0 1h0m0 1h0m0 0.5h0m0 0.5h0m0 0.5h0m0 0.5h0m0 0.5h0m0 1.5h0m0 1h0m0 0.5h0m0 1h0m0 0.5h0m0 1.5h0m0 1.5h0m0 1.5h0m0 2h0m0 1h0m0 1.5h0m0 0.5h0m0 1h0m0 1.5h0m0 0.5h0m0 1h0m0 2h0m0 1.5h0m0 1h0m0 0.5h0m0 1h0m0 0.5h0m0 2h0m0 1h0m0 0.5h0m0 1.5h0m0 0.5h0m0 3h0m0 0.5h0m0 1.5h0m0 0.5h0m0 0.5h0m0 0.5h0m0 1.5h0m0 1.5h0m0 0.5h0m0 0.5h0m0.5-142h0m0 13h0m0 0.5h0m0 1h0m0 3.5h0m0 1h0m0 1h0m0 0.5h0m0 1.5h0m0 0.5h0m0 3h0m0 3.5h0m0 0.5h0m0 2.5h0m0 1h0m0 1h0m0 1.5h0m0 0.5h0m0 1h0m0 3h0m0 1.5h0m0 0.5h0m0 1h0m0 0.5h0m0 0.5h0m0 2h0m0 2.5h0m0 1h0m0 2.5h0m0 1h0m0 0.5h0m0 0.5h0m0 1h0m0 0.5h0m0 0.5h0m0 1.5h0m0 0.5h0m0 0.5h0m0 1h0m0 1h0m0 1.5h0m0 0.5h0m0 2h0m0 0.5h0m0 0.5h0m0 1h0m0 1h0m0 1h0m0 1.5h0m0 1h0m0 0.5h0m0 0.5h0m0 2.5h0m0 1h0m0 1h0m0 0.5h0m0 1h0m0 0.5h0m0 0.5h0m0 1.5h0m0 0.5h0m0 0.5h0m0 1h0m0 1h0m0 0.5h0m0 0.5h0m0 0.5h0m0 1h0m0 0.5h0m0 0.5h0m0 1h0m0 0.5h0m0 1h0m0 3h0m0 1h0m0 0.5h0m0 2.5h0m0 0.5h0m0 1h0m0 0.5h0m0 1h0m0 1h0m0 1h0m0 0.5h0m0 1h0m0 0.5h0m0 1h0m0 0.5h0m0 1h0m0 1.5h0m0 0.5h0m0 1h0m0 1h0m0 1h0m0 1h0m0 0.5h0m0 0.5h0m0 1.5h0m0 2.5h0m0 0.5h0m0 1.5h0m0 0.5h0m0 0.5h0m0 0.5h0m0 1h0m0 0.5h0m0 0.5h0m0 0.5h0m0 2.5h0m0 2h0m0 2h0m0 1h0m0 0.5h0m0 0.5h0m0 1.5h0m0 1h0m0 0.5h0m0 0.5h0m0 0.5h0m0 1h0m0 2h0m0 0.5h0m0 1.5h0m0 1h0m0 6h0m0 2h0m0 3h0m0.5-148.5h0m0 4h0m0 1.5h0m0 1h0m0 0.5h0m0 0.5h0m0 1h0m0 0.5h0m0 1h0m0 1h0m0 2.5h0m0 1.5h0m0 1h0m0 0.5h0m0 0.5h0m0 3.5h0m0 1h0m0 1.5h0m0 0.5h0m0 1h0m0 0.5h0m0 0.5h0m0 1h0m0 1h0m0 1h0m0 2h0m0 1.5h0m0 3h0m0 0.5h0m0 1h0m0 1h0m0 0.5h0m0 0.5h0m0 1h0m0 0.5h0m0 0.5h0m0 0.5h0m0 1h0m0 4h0m0 1.5h0m0 1.5h0m0 1.5h0m0 1h0m0 1h0m0 1h0m0 1.5h0m0 3.5h0m0 1h0m0 2h0m0 5.5h0m0 2h0m0 1.5h0m0 0.5h0m0 2.5h0m0 1h0m0 2.5h0m0 1.5h0m0 0.5h0m0 1h0m0 1h0m0 2h0m0 0.5h0m0 2.5h0m0 1h0m0 0.5h0m0 1h0m0 0.5h0m0 1h0m0 1h0m0 0.5h0m0 1.5h0m0 1h0m0 1h0m0 0.5h0m0 2.5h0m0 0.5h0m0 0.5h0m0 3.5h0m0 0.5h0m0 0.5h0m0 0.5h0m0 1.5h0m0 4.5h0m0 0.5h0m0 2.5h0m0 0.5h0m0 0.5h0m0 0.5h0m0 2h0m0 1.5h0m0 0.5h0m0 0.5h0m0 4h0m0 4.5h0m0 2.5h0m0 1h0m0 0.5h0m0 0.5h0m0 2.5h0m0 0.5h0m0 0.5h0m0 2.5h0m0 1h0m0 2.5h0m0 6h0m0.5-146h0m0 3h0m0 7h0m0 0.5h0m0 0.5h0m0 1h0m0 2h0m0 4h0m0 0.5h0m0 2.5h0m0 2.5h0m0 0.5h0m0 3.5h0m0 1.5h0m0 0.5h0m0 4.5h0m0 1h0m0 4h0m0 1.5h0m0 2h0m0 1.5h0m0 3.5h0m0 1.5h0m0 1.5h0m0 1h0m0 3.5h0m0 1.5h0m0 1h0m0 4.5h0m0 1h0m0 2h0m0 2.5h0m0 2h0m0 5.5h0m0 0.5h0m0 4h0m0 1h0m0 2h0m0 1h0m0 1h0m0 9h0m0 4.5h0m0 0.5h0m0 2h0m0 1h0m0 0.5h0m0 1.5h0m0 4h0m0 7h0m0 2h0m0 0.5h0m0 1h0m0 0.5h0m0 0.5h0m0 3h0m0 0.5h0m0 7.5h0m0 2h0m0 1.5h0m0 0.5h0m0 2.5h0m0 3h0m0 0.5h0m0 2.5h0m0 6.5h0m0.5-149.5h0m0 2h0m0 0.5h0m0 0.5h0m0 3.5h0m0 7h0m0 0.5h0m0 0.5h0m0 1h0m0 0.5h0m0 0.5h0m0 2h0m0 0.5h0m0 1h0m0 0.5h0m0 1.5h0m0 0.5h0m0 2.5h0m0 0.5h0m0 4h0m0 3h0m0 1h0m0 1h0m0 2.5h0m0 1h0m0 3.5h0m0 0.5h0m0 2h0m0 0.5h0m0 0.5h0m0 1.5h0m0 1.5h0m0 2.5h0m0 1h0m0 5h0m0 1.5h0m0 0.5h0m0 1h0m0 1.5h0m0 2h0m0 0.5h0m0 0.5h0m0 1h0m0 1h0m0 3.5h0m0 1h0m0 0.5h0m0 3h0m0 1h0m0 1.5h0m0 0.5h0m0 1h0m0 1h0m0 1h0m0 2h0m0 1h0m0 1.5h0m0 2h0m0 6h0m0 3h0m0 0.5h0m0 2.5h0m0 0.5h0m0 1h0m0 2h0m0 1.5h0m0 0.5h0m0 1h0m0 0.5h0m0 2h0m0 2h0m0 1h0m0 1.5h0m0 1h0m0 0.5h0m0 0.5h0m0 1h0m0 2h0m0 2h0m0 3h0m0 1h0m0 0.5h0m0 0.5h0m0 3h0m0 1.5h0m0 2h0m0 2h0m0 2h0m0 4h0m0 6.5h0m0 4.5h0m0.5-152h0m0 0.5h0m0 0.5h0m0 2.5h0m0 3h0m0 4h0m0 2.5h0m0 1h0m0 1.5h0m0 2h0m0 0.5h0m0 3h0m0 0.5h0m0 8h0m0 6h0m0 3h0m0 0.5h0m0 3h0m0 1.5h0m0 0.5h0m0 0.5h0m0 2h0m0 0.5h0m0 1.5h0m0 1.5h0m0 0.5h0m0 1h0m0 4.5h0m0 3.5h0m0 0.5h0m0 1h0m0 2h0m0 1.5h0m0 0.5h0m0 0.5h0m0 1h0m0 1.5h0m0 0.5h0m0 0.5h0m0 0.5h0m0 0.5h0m0 2h0m0 1h0m0 1.5h0m0 1.5h0m0 1.5h0m0 1.5h0m0 1h0m0 3h0m0 1.5h0m0 1.5h0m0 0.5h0m0 0.5h0m0 1h0m0 2h0m0 1h0m0 1.5h0m0 0.5h0m0 1h0m0 1h0m0 1h0m0 0.5h0m0 2h0m0 2.5h0m0 4h0m0 1.5h0m0 2.5h0m0 1h0m0 2h0m0 6h0m0 0.5h0m0 1.5h0m0 0.5h0m0 2h0m0 1h0m0 4h0m0 0.5h0m0 0.5h0m0 0.5h0m0 1h0m0 1h0m0 2.5h0m0 0.5h0m0 2.5h0m0 0.5h0m0 2.5h0m0 0.5h0m0 1.5h0m0 2.5h0m0 1h0m0 1h0m0 4.5h0m0.5-155.5h0m0 8.5h0m0 1h0m0 4.5h0m0 2.5h0m0 0.5h0m0 2h0m0 1h0m0 1.5h0m0 4.5h0m0 1.5h0m0 1h0m0 1.5h0m0 1h0m0 3.5h0m0 5.5h0m0 1h0m0 6.5h0m0 2.5h0m0 2h0m0 3.5h0m0 1.5h0m0 3h0m0 2h0m0 5.5h0m0 2h0m0 2.5h0m0 2h0m0 1h0m0 1h0m0 1.5h0m0 0.5h0m0 0.5h0m0 1h0m0 1h0m0 4h0m0 1.5h0m0 1h0m0 1.5h0m0 1.5h0m0 3h0m0 0.5h0m0 0.5h0m0 1h0m0 1.5h0m0 0.5h0m0 1h0m0 2h0m0 0.5h0m0 0.5h0m0 0.5h0m0 6h0m0 1.5h0m0 2.5h0m0 2.5h0m0 1.5h0m0 2h0m0 3h0m0 1h0m0 4h0m0 1h0m0 0.5h0m0 2.5h0m0 5h0m0 0.5h0m0 1.5h0m0 1.5h0m0 0.5h0m0 2h0m0 1h0m0 1h0m0 0.5h0m0 1.5h0m0 1h0m0 0.5h0m0 0.5h0m0.5-148.5h0m0 3h0m0 5h0m0 2h0m0 0.5h0m0 1h0m0 2h0m0 2h0m0 1.5h0m0 5h0m0 0.5h0m0 3.5h0m0 0.5h0m0 3h0m0 4.5h0m0 1h0m0 0.5h0m0 1h0m0 1.5h0m0 3.5h0m0 0.5h0m0 1h0m0 1.5h0m0 2.5h0m0 2.5h0m0 3.5h0m0 2h0m0 1.5h0m0 2h0m0 1h0m0 11.5h0m0 5.5h0m0 1h0m0 0.5h0m0 1h0m0 0.5h0m0 0.5h0m0 1.5h0m0 1.5h0m0 2.5h0m0 1.5h0m0 1.5h0m0 0.5h0m0 0.5h0m0 0.5h0m0 4.5h0m0 1.5h0m0 0.5h0m0 1.5h0m0 1.5h0m0 2h0m0 1h0m0 3.5h0m0 1.5h0m0 4h0m0 0.5h0m0 0.5h0m0 4.5h0m0 1.5h0m0 2h0m0 1h0m0 1h0m0 1h0m0 1h0m0 1.5h0m0 2.5h0m0 2h0m0 0.5h0m0 4.5h0m0 1h0m0 1.5h0m0 1.5h0m0 1h0m0 1h0m0 10h0m0.5-138.5h0m0 0.5h0m0 2h0m0 1h0m0 3.5h0m0 2h0m0 0.5h0m0 2.5h0m0 3h0m0 3.5h0m0 2.5h0m0 2.5h0m0 0.5h0m0 4.5h0m0 7h0m0 1h0m0 3.5h0m0 6h0m0 10.5h0m0 4h0m0 2.5h0m0 3h0m0 1.5h0m0 1.5h0m0 4.5h0m0 0.5h0m0 6.5h0m0 3.5h0m0 4h0m0 4.5h0m0 7h0m0 0.5h0m0 2.5h0m0 4.5h0m0 2h0m0 0.5h0m0 4.5h0m0 1h0m0 1.5h0m0 4.5h0m0 3.5h0m0 0.5h0m0 6.5h0m0 2.5h0m0 6.5h0m0 2h0m0 1.5h0m0.5-150h0m0 4h0m0 1h0m0 1.5h0m0 1.5h0m0 8h0m0 1h0m0 1h0m0 3.5h0m0 4.5h0m0 3.5h0m0 1h0m0 2.5h0m0 3.5h0m0 3h0m0 0.5h0m0 5h0m0 2h0m0 0.5h0m0 2h0m0 1h0m0 4h0m0 2.5h0m0 1.5h0m0 2h0m0 9h0m0 2h0m0 1.5h0m0 1h0m0 3.5h0m0 5.5h0m0 1.5h0m0 2.5h0m0 2h0m0 5.5h0m0 3.5h0m0 3.5h0m0 5h0m0 6h0m0 5h0m0 5h0m0 4h0m0 6h0m0 1h0m0.5-131h0m0 1.5h0m0 1.5h0m0 0.5h0m0 0.5h0m0 1h0m0 3h0m0 3.5h0m0 0.5h0m0 0.5h0m0 1h0m0 8h0m0 1.5h0m0 10.5h0m0 5h0m0 1h0m0 2h0m0 4h0m0 8h0m0 2h0m0 0.5h0m0 1h0m0 3h0m0 0.5h0m0 1h0m0 1.5h0m0 1.5h0m0 18.5h0m0 2h0m0 8h0m0 4.5h0m0 2.5h0m0 2h0m0 8.5h0m0 4h0m0 6h0m0 2h0m0 3h0m0 1h0m0 2h0m0.5-130h0m0 2h0m0 1.5h0m0 2.5h0m0 13.5h0m0 0.5h0m0 4.5h0m0 3h0m0 10.5h0m0 1.5h0m0 5.5h0m0 8h0m0 1.5h0m0 4.5h0m0 14.5h0m0 6.5h0m0 8h0m0 6h0m0 1.5h0m0 2.5h0m0 0.5h0m0 4.5h0m0 1.5h0m0 6.5h0m0 4.5h0m0 5h0m0 1h0m0 7h0m0 6.5h0m0.5-135h0m0 20h0m0 2h0m0 5h0m0 2h0m0 5.5h0m0 2.5h0m0 2.5h0m0 8.5h0m0 1h0m0 3h0m0 2.5h0m0 5h0m0 3.5h0m0 4.5h0m0 14h0m0 9.5h0m0 3.5h0m0 0.5h0m0 0.5h0m0 8.5h0m0 3.5h0m0 3h0m0 0.5h0m0 5h0m0 2.5h0m0 5.5h0m0 1.5h0m0 3h0m0 2h0m0.5-105h0m0 0.5h0m0 10.5h0m0 2h0m0 5.5h0m0 2h0m0 1.5h0m0 2h0m0 4.5h0m0 3.5h0m0 3.5h0m0 4h0m0 2.5h0m0 1.5h0m0 6.5h0m0 2.5h0m0 0.5h0m0 0.5h0m0 3h0m0 3h0m0 4.5h0m0 10h0m0 7h0m0 16h0m0 3h0m0.5-120.5h0m0 10.5h0m0 4.5h0m0 0.5h0m0 1h0m0 19h0m0 3.5h0m0 3h0m0 13h0m0 7h0m0 2h0m0 4.5h0m0 3h0m0 0.5h0m0 1h0m0 18.5h0m0 1h0m0 1h0m0 0.5h0m0 10h0m0 1.5h0m0 2.5h0m0 3.5h0m0 3h0m0 5h0m0 1.5h0m0 8.5h0m0 3.5h0m0 3h0m0.5-138h0m0 3.5h0m0 3.5h0m0 5.5h0m0 6.5h0m0 4h0m0 4h0m0 2h0m0 3h0m0 3.5h0m0 13h0m0 0.5h0m0 3h0m0 1h0m0 0.5h0m0 4h0m0 6h0m0 1h0m0 1h0m0 2h0m0 2.5h0m0 0.5h0m0 10h0m0 0.5h0m0 12h0m0 3.5h0m0 1h0m0 3.5h0m0 3h0m0 0.5h0m0 1.5h0m0 1h0m0 10.5h0m0 9h0m0 5h0m0 0.5h0m0 6.5h0m0 0.5h0m0.5-147.5h0m0 1h0m0 1h0m0 13h0m0 9.5h0m0 0.5h0m0 5.5h0m0 4.5h0m0 2.5h0m0 6h0m0 3.5h0m0 0.5h0m0 3h0m0 0.5h0m0 5.5h0m0 3.5h0m0 3h0m0 1h0m0 2h0m0 2h0m0 7.5h0m0 2h0m0 0.5h0m0 1.5h0m0 0.5h0m0 7.5h0m0 5.5h0m0 6h0m0 0.5h0m0 1.5h0m0 7.5h0m0 1h0m0 1.5h0m0 6h0m0 1.5h0m0 2h0m0 3h0m0 2h0m0 7.5h0m0 1.5h0m0 1h0m0 0.5h0m0 0.5h0m0 5h0m0 1.5h0m0 3.5h0m0 2h0m0 1.5h0m0.5-147.5h0m0 4h0m0 5.5h0m0 6h0m0 1.5h0m0 1.5h0m0 0.5h0m0 13h0m0 0.5h0m0 0.5h0m0 1.5h0m0 0.5h0m0 4h0m0 2.5h0m0 1h0m0 2h0m0 6h0m0 1.5h0m0 0.5h0m0 4.5h0m0 0.5h0m0 8h0m0 3.5h0m0 2h0m0 3h0m0 2.5h0m0 1h0m0 0.5h0m0 1h0m0 0.5h0m0 3.5h0m0 2.5h0m0 0.5h0m0 1h0m0 1h0m0 2.5h0m0 0.5h0m0 2h0m0 1h0m0 6.5h0m0 1h0m0 1h0m0 6.5h0m0 0.5h0m0 4h0m0 2.5h0m0 0.5h0m0 2h0m0 6.5h0m0 1h0m0 2.5h0m0 3h0m0 0.5h0m0 3.5h0m0 6.5h0m0 2h0m0 7h0m0.5-146h0m0 0.5h0m0 5.5h0m0 1h0m0 0.5h0m0 2.5h0m0 12h0m0 0.5h0m0 8h0m0 1h0m0 1.5h0m0 0.5h0m0 7h0m0 11h0m0 5.5h0m0 1.5h0m0 2h0m0 6h0m0 1h0m0 3.5h0m0 1.5h0m0 3.5h0m0 2h0m0 4h0m0 3.5h0m0 1h0m0 2.5h0m0 0.5h0m0 6h0m0 5.5h0m0 6.5h0m0 2h0m0 4h0m0 2h0m0 0.5h0m0 3.5h0m0 1h0m0 3.5h0m0 2h0m0 0.5h0m0 1h0m0 7h0m0 0.5h0m0 0.5h0m0 2h0m0 0.5h0m0 6h0m0.5-138.5h0m0 2.5h0m0 1.5h0m0 1.5h0m0 1h0m0 6h0m0 1h0m0 0.5h0m0 0.5h0m0 1.5h0m0 2.5h0m0 4h0m0 6h0m0 10.5h0m0 1.5h0m0 2h0m0 2h0m0 0.5h0m0 0.5h0m0 3h0m0 10.5h0m0 1.5h0m0 4h0m0 1h0m0 14.5h0m0 6h0m0 2h0m0 1h0m0 1h0m0 0.5h0m0 0.5h0m0 3.5h0m0 0.5h0m0 1h0m0 0.5h0m0 1.5h0m0 1.5h0m0 0.5h0m0 4.5h0m0 13h0m0 2.5h0m0 0.5h0m0 0.5h0m0 0.5h0m0 2h0m0 4.5h0m0 6.5h0m0.5-138.5h0m0 3.5h0m0 6h0m0 9.5h0m0 7h0m0 24h0m0 9.5h0m0 2.5h0m0 3h0m0 0.5h0m0 3.5h0m0 4h0m0 0.5h0m0 3.5h0m0 1h0m0 8.5h0m0 8h0m0 1h0m0 19h0m0 3h0m0 6.5h0m0 0.5h0m0 2h0m0 5h0m0.5-138h0m0 6.5h0m0 24.5h0m0 11h0m0 0.5h0m0 3.5h0m0 3.5h0m0 17.5h0m0 9h0m0 6.5h0m0 5.5h0m0 4.5h0m0 2h0m0 3h0m0 6h0m0 2h0m0 3.5h0m0 2h0m0 7.5h0m0 1.5h0m0 4h0m0 2h0m0 1.5h0m0 1h0m0 2.5h0m0.5-114h0m0 11h0m0 0.5h0m0 4h0m0 4.5h0m0 3h0m0 8h0m0 6h0m0 2h0m0 37h0m0 3h0m0 33.5h0m0.5-118.5h0m0 7.5h0m0 2.5h0m0 5.5h0m0 7.5h0m0 14.5h0m0 8h0m0 12h0m0 12.5h0m0 3h0m0 12.5h0m0 19.5h0m0 5h0m0 5.5h0m0 1h0m0 2.5h0m0 2.5h0m0 2.5h0m0.5-112h0m0 7.5h0m0 0.5h0m0 1.5h0m0 3.5h0m0 2.5h0m0 10h0m0 3.5h0m0 1h0m0 8.5h0m0 8.5h0m0 4h0m0 17.5h0m0 4h0m0 21.5h0m0 7h0m0.5-102h0m0 4h0m0 14h0m0 2.5h0m0 18h0m0 3.5h0m0 7.5h0m0 13.5h0m0 1h0m0 1.5h0m0 0.5h0m0 8h0m0 13h0m0 3h0m0 8h0m0 0.5h0m0 0.5h0m0 3h0m0 14.5h0m0.5-104.5h0m0 9h0m0 8.5h0m0 4h0m0 5.5h0m0 0.5h0m0 2.5h0m0 0.5h0m0 4.5h0m0 11h0m0 3.5h0m0 1.5h0m0 7h0m0 9.5h0m0 5h0m0 3.5h0m0 0.5h0m0 9.5h0m0 5h0m0 2h0m0 8h0m0 6.5h0m0 2.5h0m0.5-114.5h0m0 3h0m0 6.5h0m0 0.5h0m0 2h0m0 0.5h0m0 8h0m0 11.5h0m0 0.5h0m0 6h0m0 3h0m0 2h0m0 0.5h0m0 18h0m0 3.5h0m0 1.5h0m0 5.5h0m0 3h0m0 1.5h0m0 2.5h0m0 11.5h0m0 6h0m0 9.5h0m0 0.5h0m0.5-108.5h0m0 16.5h0m0 0.5h0m0 3h0m0 1h0m0 2.5h0m0 4h0m0 2.5h0m0 5.5h0m0 0.5h0m0 6h0m0 1.5h0m0 3.5h0m0 1.5h0m0 9.5h0m0 1h0m0 5.5h0m0 2h0m0 6.5h0m0 3h0m0 8.5h0m0 20h0m0 9h0m0.5-99.5h0m0 8h0m0 5h0m0 25.5h0m0 3h0m0 2h0m0 2h0m0 7.5h0m0 9h0m0 8h0m0 3h0m0 1.5h0m0 3h0m0 8.5h0m0 1.5h0m0 0.5h0m0.5-87.5h0m0 8.5h0m0 14h0m0 1h0m0 15.5h0m0 2.5h0m0 6.5h0m0 4.5h0m0 1.5h0m0 5.5h0m0 12h0m0 5h0m0 6.5h0m0 8h0m0 5.5h0m0 3h0m0.5-90.5h0m0 2.5h0m0 11h0m0 7h0m0 3h0m0 8h0m0 1h0m0 0.5h0m0 8.5h0m0 2.5h0m0 10.5h0m0 9.5h0m0 5.5h0m0 4h0m0.5-99h0m0 17.5h0m0 13h0m0 4h0m0 4h0m0 1.5h0m0 1h0m0 4.5h0m0 10h0m0 2.5h0m0 0.5h0m0 0.5h0m0 15.5h0m0 5h0m0 2.5h0m0 9.5h0m0 0.5h0m0 1.5h0m0 14.5h0m0 2h0m0 1.5h0m0.5-89.5h0m0 18h0m0 2h0m0 14.5h0m0 22.5h0m0 3h0m0 2.5h0m0 3h0m0 4.5h0m0 7.5h0m0.5-84h0m0 0.5h0m0 14.5h0m0 9.5h0m0 3.5h0m0 38h0m0 3h0m0 10.5h0m0 0.5h0m0 2.5h0m0 3.5h0m0 11h0m0.5-80.5h0m0 7.5h0m0 7.5h0m0 5.5h0m0 25h0m0 20.5h0m0.5-57h0m0 12.5h0m0 18.5h0m0 2h0m0 5h0m0 30.5h0m7-13.5h0m0 9.5h0m0.5-29.5h0m0 17h0m0 0.5h0m0 4h0m0.5-33h0m0 1h0m0 5.5h0m0 7h0m0 14.5h0m0 2h0m0 14h0m0 2.5h0m0 1h0m0.5-49.5h0m0 7h0m0 2.5h0m0 16h0m0 9.5h0m0 0.5h0m0 2.5h0m0 7.5h0m0.5-45h0m0 32h0m0 4.5h0m0.5-38h0m0 5h0m0 7.5h0m0 0.5h0m0 1.5h0m0 5h0m0 3.5h0m0 6.5h0m0 0.5h0m0 6.5h0m0 18h0m0.5-8.5h0m1-19h0m0 6h0m0 17h0m0 1h0" stroke="#0b2cf2" stroke-width="1.7" stroke-linecap="square" fill="none"/><path d="M321 190h0m1-131h0m0 111.5h0m0.5 41.5h0m0.5-8.5h0m0.5 3h0m0.5-27h0m0.5-27h0m0 14h0m0 13h0m1-30.5h0m0 34.5h0m0.5-39.5h0m1 14.5h0m0 23.5h0m0 16.5h0m0 1h0m1-141.5h0m0 55.5h0m0 66h0m0 22.5h0m0.5-47.5h0m0 6.5h0m0 28.5h0m0 4.5h0m0 3.5h0m0.5-116.5h0m0 79h0m0.5-28.5h0m0 2.5h0m0 73.5h0m0.5-33h0m0 15h0m0.5-69h0m0 76.5h0m0.5-94.5h0m0 36h0m0 1.5h0m0 30h0m0.5-92h0m0 96.5h0m0 6.5h0m0 24h0m0 1.5h0m0.5-106h0m0 13h0m0 49h0m0 32h0m0 10h0m0.5-116h0m0 11h0m0 15h0m0 12h0m0 34h0m0 42.5h0m0.5-108h0m0 44h0m0 24.5h0m0 6.5h0m0 0.5h0m0 21h0m0.5-96h0m0 0.5h0m0 76.5h0m0 1.5h0m0 16.5h0m0 1.5h0m0 8h0m0.5-80h0m0 56.5h0m0 2h0m0 21.5h0m0.5-76.5h0m0 20.5h0m0 10.5h0m0 38h0m0.5-46h0m0 52.5h0m0.5-55.5h0m0 27h0m0.5 7h0m0 21h0m0.5-80.5h0m0 38.5h0m0 29h0m0 30.5h0m0.5-141h0m0 21.5h0m0 67.5h0m0 45.5h0m0.5-64h0m0 21.5h0m0.5-77.5h0m0 24h0m0 21h0m0 22.5h0m0 20.5h0m0 13.5h0m0.5-115h0m0 24h0m0 47.5h0m0 49.5h0m0.5-58.5h0m0 51.5h0m0 3.5h0m0.5-114h0m0 112h0m0 12.5h0m0.5-122h0m0 64.5h0m0 41h0m0 6.5h0m0.5-117.5h0m0 27.5h0m0 32h0m0 2.5h0m0 34h0m0 23h0m0.5-118.5h0m0 6h0m0 10.5h0m0 39h0m0 22.5h0m0 2h0m0 50h0m0.5-106.5h0m0 14.5h0m0 69.5h0m0 0.5h0m0.5-68h0m0 74.5h0m0.5-12h0m0 20.5h0m0.5-105.5h0m0 27.5h0m0 30.5h0m0.5 10.5h0m0.5-28.5h0m0.5-50.5h0m0 37.5h0m0 73.5h0m0.5-27h0m0 17h0m0 6h0m0 18h0m0.5-48h0m0 6h0m0.5-85.5h0m0 85.5h0m0 10.5h0m0 27h0m0.5-118h0m0 71h0m0.5-2h0m0.5-74h0m0 45.5h0m0.5-13.5h0m0 47.5h0m0.5-62.5h0m0 4h0m0 14.5h0m0 71.5h0m0.5-68h0m0.5-37.5h0m0 1h0m0 35h0m0 8h0m0 22.5h0m0 21h0m0.5-90.5h0m0 2.5h0m1 65h0m0.5-12h0m0.5 8h0m0.5-66.5h0m0 57.5h0m1-46.5h0m0 18.5h0m1.5 12.5h0m1 6.5h0m0 22.5h0m1-34.5h0m0.5 39.5h0m0.5-62h0m0 52h0m0 15h0m0.5-22h0m0 4h0m0 7h0m0.5-89.5h0m0 94h0m1-19.5h0m1-41h0m1.5-43.5h0m0.5 78.5h0m0.5 5h0m0 21.5h0m0.5-27h0m0 1h0m0 7h0m0 5h0m0.5-11.5h0m0 43h0m0 30.5h0m0.5-113.5h0m0.5 71.5h0m0 1h0m0 23h0m0.5-115.5h0m0 8.5h0m0 19h0m0 51h0m0 0.5h0m0 41h0m0.5-90.5h0m0 10.5h0m0 12h0m0 1h0m0 8h0m0 27h0m0 26.5h0m0 34.5h0m0.5-110.5h0m0 19h0m0 9h0m0.5-29.5h0m0 37h0m0 6h0m0 2.5h0m0 32.5h0m0 22.5h0m0.5-113h0m0 24.5h0m0 0.5h0m0 7h0m0 7h0m0 8h0m0 4.5h0m0 22h0m0 18.5h0m0 0.5h0m0.5-79.5h0m0 11.5h0m0 30h0m0 7h0m0 6h0m0 23.5h0m0.5-71h0m0 13h0m0 19h0m0 43.5h0m0 41h0m0.5-137.5h0m0 8.5h0m0 18h0m0 11.5h0m0 21.5h0m0 3h0m0 20.5h0m0 3h0m0 4h0m0 19h0m0 10h0m0.5-131.5h0m0 34h0m0 11h0m0 11.5h0m0 32.5h0m0 24.5h0m0 5h0m0.5-143.5h0m0.5 24.5h0m0.5-10h0m0 6h0m0 127.5h0m0.5-132.5h0m0 6.5h0m0.5-2h0m0 141h0m0 4h0m0 3.5h0m0.5-16h0m0.5-127.5h0m0 20h0m0 104h0m0 3.5h0m0 9h0m0.5-136.5h0m0 15h0m0.5 3.5h0m0 110.5h0m0 1h0m0 3.5h0m0.5-128.5h0m0 6.5h0m0 114.5h0m0.5-123h0m2.5-14h0m0 144.5h0m1-128.5h0m0 137.5h0m1.5-137h0m0.5 3.5h0m0.5 2h0m0 124.5h0m0.5-2.5h0m0 1h0m0 0.5h0m0.5-146h0m0 152h0m0.5-11.5h0m0 4h0m0.5-146h0m0 143h0m0.5-138h0m0.5 138h0m1 1.5h0m0.5 3h0m0.5-147h0m0.5-7h0m0 150h0m1.5-148h0m1 160h0m0.5-167h0m0.5 161h0m0.5 8h0m0.5-169h0m1.5 160h0m1-0.5h0m0.5-1h0m0.5-2.5h0m0.5-140.5h0m1-1.5h0m0.5-6h0m0 3h0m0 149h0m0.5-145h0m1 145.5h0m0 0.5h0m0 3h0m0.5-163h0m0 18.5h0m1.5-0.5h0m0 136h0m2 0h0m4.5-159.5h0m0 6h0m1.5 161h0m1.5 7.5h0m1-172.5h0m2.5-2.5h0m0.5 7h0m1 165.5h0m1.5-176h0m0 19h0m0.5-12h0m4.5-4h0m0 172.5h0m0 6.5h0m0.5-172h0m0.5-9.5h0m0 4.5h0m0 4.5h0m0.5-4h0m0.5 9h0m0 2.5h0m0 1.5h0m0 162h0m0.5-170h0m0.5 0.5h0m2 13h0m0 1.5h0m0 143.5h0m0.5-145h0m1-9h0m0 7h0m0.5 149.5h0m1-140.5h0m0.5-18h0m0 0.5h0m0.5 166h0m4.5 4.5h0m0.5-179.5h0m1 4h0m1.5 171h0m0.5-7h0m0.5 1h0m1-149.5h0m0.5 149h0m0.5-159.5h0m1 159.5h0m0 7h0m0.5-163h0m0.5 161h0m2.5-164h0m0 151h0m1.5 6.5h0m1.5 3h0m2.5-165h0m0 155h0m0.5-151h0m0 2.5h0m0 149h0m1-149h0m0 8.5h0m0 2.5h0m1-3.5h0m0 145.5h0m1-4h0m1 0.5h0m1.5-128h0m0 1.5h0m0.5 0h0m0 122h0m0.5-122.5h0m0 19h0m0 14h0m0 93h0m0.5-111.5h0m0 19h0m0.5-44.5h0m0 5.5h0m0 3h0m0 16h0m0 3.5h0m0 33.5h0m0 38h0m0 11h0m0 27.5h0m0.5-82h0m0 44h0m0 8.5h0m0 28h0m0.5-77.5h0m0 3h0m0 12.5h0m0 10.5h0m0 12h0m0.5-67.5h0m0 6h0m0 2.5h0m0 8h0m0 15h0m0 0.5h0m0 2h0m0 47h0m0 5.5h0m0 8h0m0 1h0m0 9h0m0.5-113h0m0 5h0m0 10.5h0m0 67h0m0 3h0m0 13.5h0m0.5-98h0m0 4.5h0m0 7.5h0m0 18.5h0m0 3h0m0 0.5h0m0 23h0m0 3.5h0m0 36h0m0 0.5h0m0.5-101.5h0m0 4.5h0m0 3.5h0m0 4.5h0m0 3h0m0 21.5h0m0 2h0m0 13.5h0m0 3h0m0 1.5h0m0 4h0m0 1.5h0m0 31h0m0 1h0m0.5-79.5h0m0 16.5h0m0 17h0m0 12.5h0m0 20.5h0m0 19.5h0m0 3.5h0m0.5-57h0m0 56.5h0m0 5h0m0.5-87.5h0m0 7h0m0 8.5h0m0 5.5h0m0 25h0m0 33h0m0.5-121.5h0m0 27h0m0 10.5h0m0 5.5h0m0 26.5h0m0 22.5h0m0 10.5h0m0 0.5h0m0.5-67.5h0m0 6.5h0m0 4h0m0 12.5h0m0 6h0m0 10h0m0 11.5h0m0 19h0m0 39.5h0m0.5-86h0m0 17h0m0 46.5h0m0 20.5h0m0.5-109.5h0m0 3h0m0 48h0m0 7.5h0m0 6h0m0 16h0m0 28.5h0m0.5-117h0m0 7.5h0m0 58h0m0 42h0m0.5-126h0m0.5 21h0m0 35.5h0m0 1.5h0m1-23.5h0m0 19h0m0.5-44h0m0 28h0m0.5 14h0m0 16.5h0m0.5 62.5h0m0.5-95h0m0 2.5h0m0 19.5h0m0 43.5h0m0 19h0m0.5-54.5h0m0.5-10.5h0m0 66h0m0.5-79.5h0m0.5-11h0m0 22.5h0m0.5-16h0m0 75h0m0.5-40.5h0m0.5 27h0m1 31h0m0.5-33h0m1 23.5h0m0.5-103.5h0m0 46h0m0 37h0m0.5-72h0m0 81h0m1-43.5h0m0.5 24.5h0m0.5-7.5h0m0 9h0m0.5-67.5h0m0 55h0m0.5-11.5h0m0.5 63.5h0m0.5-101.5h0m0 80h0m0.5-64h0m0 2h0m0.5 43.5h0m0.5-68.5h0m0.5 18h0m0 88.5h0m0.5-90h0m0.5 77h0m0 4.5h0m1-106.5h0m0.5 43h0m0 13.5h0m0 4.5h0m0 59.5h0m0.5-95.5h0m1-70h0m0.5 114.5h0m0 39.5h0m1-23.5h0m0.5 24.5h0m0.5-118.5h0m0 56.5h0m0.5 24.5h0m0 25h0m1-98.5h0m0 36.5h0m2 60.5h0m0.5-42h0" stroke="#3a42b4" stroke-width="1.7" stroke-linecap="square" fill="none"/>
<rect x="299.60" y="5.25" width="214.50" height="228.60" fill="none" stroke="#4a4a4a" stroke-width="1.1"/>
<path d="M299.60 233.85v-2.2M299.60 5.25v2.2M330.24 233.85v-2.2M330.24 5.25v2.2M360.89 233.85v-2.2M360.89 5.25v2.2M391.53 233.85v-2.2M391.53 5.25v2.2M422.17 233.85v-2.2M422.17 5.25v2.2M452.81 233.85v-2.2M452.81 5.25v2.2M483.46 233.85v-2.2M483.46 5.25v2.2M514.10 233.85v-2.2M514.10 5.25v2.2M299.60 233.85h2.2M514.10 233.85h-2.2M299.60 201.19h2.2M514.10 201.19h-2.2M299.60 168.54h2.2M514.10 168.54h-2.2M299.60 135.88h2.2M514.10 135.88h-2.2M299.60 103.22h2.2M514.10 103.22h-2.2M299.60 70.56h2.2M514.10 70.56h-2.2M299.60 37.91h2.2M514.10 37.91h-2.2M299.60 5.25h2.2M514.10 5.25h-2.2" stroke="#4a4a4a" stroke-width="0.9" fill="none"/>
<text x="290.74" y="242.85" textLength="17.72" lengthAdjust="spacingAndGlyphs">−2.0</text>
<text x="321.38" y="242.85" textLength="17.72" lengthAdjust="spacingAndGlyphs">−1.5</text>
<text x="352.02" y="242.85" textLength="17.72" lengthAdjust="spacingAndGlyphs">−1.0</text>
<text x="382.67" y="242.85" textLength="17.72" lengthAdjust="spacingAndGlyphs">−0.5</text>
<text x="416.37" y="242.85" textLength="11.61" lengthAdjust="spacingAndGlyphs">0.0</text>
<text x="447.01" y="242.85" textLength="11.61" lengthAdjust="spacingAndGlyphs">0.5</text>
<text x="477.65" y="242.85" textLength="11.61" lengthAdjust="spacingAndGlyphs">1.0</text>
<text x="508.30" y="242.85" textLength="11.61" lengthAdjust="spacingAndGlyphs">1.5</text>
<text x="285.24" y="236.00" textLength="10.76" lengthAdjust="spacingAndGlyphs">−3</text>
<text x="285.24" y="203.34" textLength="10.76" lengthAdjust="spacingAndGlyphs">−2</text>
<text x="285.24" y="170.69" textLength="10.76" lengthAdjust="spacingAndGlyphs">−1</text>
<text x="291.36" y="138.03" textLength="4.64" lengthAdjust="spacingAndGlyphs">0</text>
<text x="291.36" y="105.37" textLength="4.64" lengthAdjust="spacingAndGlyphs">1</text>
<text x="291.36" y="72.71" textLength="4.64" lengthAdjust="spacingAndGlyphs">2</text>
<text x="291.36" y="40.06" textLength="4.64" lengthAdjust="spacingAndGlyphs">3</text>
<text x="291.36" y="7.40" textLength="4.64" lengthAdjust="spacingAndGlyphs">4</text>
<text x="379.53" y="254.15" textLength="54.64" lengthAdjust="spacingAndGlyphs">Partial charges</text>
<text transform="translate(279.60,119.55) rotate(-90)" x="-31.46" y="0" textLength="62.93" lengthAdjust="spacingAndGlyphs">Shape deviations</text>
<text x="308.10" y="18.95" textLength="36.73" lengthAdjust="spacingAndGlyphs">R = 0.026</text>
<path d="M663 162.5h13m5 0h3m22 0h6m-51 1h19m19 0h19m-59 1h26m11 0h23m-62 1h32m3 0h31m-68 1h69m-71 1h72m-74 1h74m-76 1h76m-79 1h80m-86 1h86m-88 1h88m-89 1h89m-89 1h89m-89 1h89m-89 1h89m-89 1h89m-88 1h89m-86 1h86m-80 1h80m-72 1h72m-49 1h49m-37 1h36m-29 1h29m-25 1h25m-21 1h21m-20 1h20m-18 1h18m-17 1h16m-15 1h15m-14 1h14m-13 1h13m-6 1h4" stroke="#0b2cf2" stroke-width="1" fill="none" shape-rendering="crispEdges"/><path d="M590 153h0m0.5-9h0m0 3.5h0m0 3h0m0 4.5h0m0.5-14h0m0 3.5h0m0 5h0m0 1h0m0.5-8h0m0.5-16.5h0m0.5 13.5h0m0 8h0m0.5-23h0m0 4.5h0m0 7h0m0 10.5h0m0 8h0m1-2.5h0m0 1.5h0m0.5-22h0m0 3.5h0m0 4.5h0m0 6h0m0 4h0m0.5-30.5h0m0 17.5h0m0 4.5h0m0 10.5h0m0.5-34h0m0 21.5h0m0 3h0m0 10h0m0.5-37h0m0 1.5h0m0 2.5h0m0 1.5h0m0 4.5h0m0 2.5h0m0 9.5h0m0.5-23h0m0 0.5h0m0 2.5h0m0 11.5h0m0 8h0m0 8h0m0 7.5h0m0.5-13.5h0m0 3h0m0 4.5h0m0 0.5h0m0.5-12.5h0m0.5 0.5h0m0 3.5h0m0.5-11h0m0 5h0m0 3.5h0m0.5-23h0m0 11h0m0 5h0m0 0.5h0m0 1.5h0m0 2h0m0 4.5h0m0 4.5h0m0 5h0m0 3.5h0m0.5-34.5h0m0 5h0m0 2h0m0 15h0m0 8.5h0m0.5-21.5h0m0 11.5h0m0 1.5h0m0 4.5h0m0 2.5h0m0 2h0m0.5-23h0m0 2h0m0 19.5h0m0 4.5h0m0.5-36.5h0m0 0.5h0m0 15.5h0m0 20h0m0.5-27.5h0m0 1h0m0 13h0m0 1h0m0 2.5h0m0.5-12h0m0 8h0m0 12h0m0.5-25.5h0m0 5.5h0m0 11h0m0 2h0m0 2h0m0 1h0m0.5 0h0m0 4h0m0 4.5h0m0.5-29h0m0 7.5h0m0 8h0m0 3h0m0 7.5h0m0.5-32.5h0m0 1.5h0m0 6h0m0 3.5h0m0 16.5h0m0.5-21.5h0m0 2h0m0 2.5h0m0 12.5h0m0 2h0m0 2h0m0.5-27h0m0 25.5h0m0 2.5h0m0.5-29h0m0 1h0m0 13h0m0.5-15.5h0m0 10.5h0m0.5-5h0m0.5 7.5h0m0 9h0m0.5-4.5h0m0 6h0m0.5-6h0m1.5-16.5h0m0 7h0m0 0.5h0m0 2.5h0m0.5-2.5h0m1.5-8h0m11 35.5h0m0 1h0m0.5-4.5h0m0 2h0m0 0.5h0m0 1.5h0m0.5-5.5h0m0 0.5h0m0 3h0m0 1h0m0 0.5h0m0.5-8h0m0 3.5h0m0 3h0m0 0.5h0m0 1h0m0 0.5h0m0 0.5h0m0.5-8.5h0m0 0.5h0m0 3.5h0m0 1.5h0m0 2h0m0 0.5h0m0.5-13h0m0 3.5h0m0 2.5h0m0 2.5h0m0 1.5h0m0.5-9h0m0 1h0m0 1.5h0m0 1h0m0 1h0m0 1h0m0 3h0m0.5-8.5h0m0 1.5h0m0.5-7.5h0m0 1h0m0 0.5h0m0 1h0m0 0.5h0m0 3.5h0m0 0.5h0m0 1h0m0 4h0m0.5-13.5h0m0 1h0m0 4.5h0m0 0.5h0m0 0.5h0m0 2h0m0 1.5h0m0.5-12h0m0 2h0m0 1h0m0 1.5h0m0 1.5h0m0.5-10h0m0 0.5h0m0 4h0m0 1.5h0m0 2.5h0m0 1h0m0 1h0m0 1h0m0 0.5h0m0 0.5h0m0.5-10h0m0 0.5h0m0 2.5h0m0 0.5h0m0 1.5h0m0 0.5h0m0 2h0m0 1.5h0m0.5-11h0m0 3h0m0 0.5h0m0 2.5h0m0 5h0m0.5-15h0m0 2h0m0 4.5h0m0 0.5h0m0 1.5h0m0 2.5h0m0 30.5h0m0.5-44h0m0 1h0m0 2h0m0 1h0m0 3.5h0m0 1.5h0m0 0.5h0m0 29.5h0m0.5-38.5h0m0 7.5h0m0 43h0m0 3.5h0m0.5-54h0m0 4h0m0 3.5h0m0 34h0m0 1h0m0.5-41.5h0m0 2.5h0m0 1h0m0 44h0m0.5-46h0m0 41.5h0m0.5-44h0m0 35.5h0m0 5.5h0m0.5 1.5h0m0 5.5h0m0 4.5h0m0 2.5h0m0.5-19h0m0 2.5h0m0 6.5h0m0 6h0m0.5-11.5h0m0 0.5h0m0 7h0m0 1.5h0m0 3h0m0.5-9.5h0m0 9.5h0m0 1h0m0 2.5h0m0.5-16.5h0m0 3h0m0 3h0m0 1.5h0m0.5-10.5h0m0 1.5h0m0 5.5h0m0 2h0m0 0.5h0m0 2h0m0 0.5h0m0 8h0m0 2h0m0 0.5h0m0 1h0m0.5-22h0m0 8h0m0 4h0m0 1h0m0 1.5h0m0 1h0m0 1.5h0m0 0.5h0m0 1h0m0 2h0m0 1h0m0 0.5h0m0.5-24h0m0 3h0m0 2h0m0 4h0m0 6.5h0m0 3h0m0 1.5h0m0 2h0m0 2h0m0 2h0m0.5-18h0m0 10.5h0m0 1h0m0 5h0m0.5-23.5h0m0.5 4h0m0 9h0m0 4.5h0m0 6h0m0 1.5h0m0.5-22.5h0m0 10.5h0m0 1.5h0m0 10h0m0 0.5h0m0 2h0m0.5-22h0m0 2.5h0m0 8.5h0m0 0.5h0m0 7.5h0m0 1.5h0m0 3h0m0.5-25.5h0m0 0.5h0m0 6.5h0m0 7h0m0 14h0m0.5-19.5h0m0 4.5h0m0 8.5h0m0.5-19h0m0 10.5h0m0.5 9.5h0m0 2.5h0m0 0.5h0m0.5-23h0m0 7h0m0 0.5h0m0 14.5h0m0 1.5h0m0.5-42h0m0 38h0m0.5-38.5h0m0 1h0m0 21.5h0m0 5.5h0m0.5-32.5h0m0 3h0m0 3h0m0 26.5h0m0 11h0m0.5-41.5h0m0 2h0m0 0.5h0m0 0.5h0m0 0.5h0m0 0.5h0m0 0.5h0m0 21.5h0m0 1.5h0m0 4h0m0 0.5h0m0 9.5h0m0 1.5h0m0.5-50h0m0 5.5h0m0 2h0m0 0.5h0m0 1h0m0 2.5h0m0 26h0m0 1h0m0 11.5h0m0.5-49h0m0 1.5h0m0 0.5h0m0 1.5h0m0 1h0m0 1h0m0 0.5h0m0 1h0m0 31h0m0 10h0m0 1h0m0.5-54.5h0m0 1h0m0 2.5h0m0 2h0m0 0.5h0m0 1h0m0 1.5h0m0 0.5h0m0 2.5h0m0 1h0m0 1h0m0 28.5h0m0 13h0m0.5-54.5h0m0 0.5h0m0 2.5h0m0 2.5h0m0 1h0m0 1h0m0 33.5h0m0 1h0m0 0.5h0m0 9.5h0m0 0.5h0m0 2.5h0m0.5-58.5h0m0 3.5h0m0 0.5h0m0 1.5h0m0 3.5h0m0 2.5h0m0 35h0m0 11.5h0m0 1.5h0m0.5-61h0m0 1h0m0 2h0m0 0.5h0m0 1.5h0m0 0.5h0m0 1.5h0m0 2h0m0 37.5h0m0 11.5h0m0 0.5h0m0.5-63.5h0m0 0.5h0m0 0.5h0m0 4h0m0 0.5h0m0 0.5h0m0 1h0m0 1h0m0 4h0m0 1h0m0 38.5h0m0 12.5h0m0.5-62h0m0 2.5h0m0 2h0m0 2h0m0 42.5h0m0 0.5h0m0 12h0m0 2h0m0.5-68.5h0m0 3h0m0 1.5h0m0 2.5h0m0 2h0m0 2h0m0 42h0m0 1h0m0 0.5h0m0.5-55h0m0 3h0m0 1h0m0 1.5h0m0 0.5h0m0 1h0m0 47.5h0m0.5-58h0m0 1.5h0m0 2h0m0 1h0m0 0.5h0m0 0.5h0m0 0.5h0m0 51h0m0 0.5h0m0 17h0m0.5-73.5h0m0 1h0m0 0.5h0m0 2h0m0 1h0m0 1h0m0 51h0m0 13h0m0 3.5h0m0.5-71h0m0 1.5h0m0 53.5h0m0 12h0m0 1.5h0m0.5-70h0m0 0.5h0m0 0.5h0m0 54h0m0 13.5h0m0 0.5h0m0.5-70.5h0m0 1h0m0 55h0m0 1h0m0.5-3h0m0.5 2.5h0m0 17h0m0.5-18.5h0m0.5 18h0m0.5-23h0m0 3.5h0m0 16.5h0m0 0.5h0m0.5-16h0m0 1h0m0 0.5h0m0.5-6h0m0 1h0m0 4h0m0 16h0m0.5-16.5h0m0 1.5h0m0 14.5h0m0.5-20h0m0 20.5h0m0 1h0m0.5-18h0m0 0.5h0m0 0.5h0m0 18h0m0 1.5h0m0 1h0m0.5-21h0m0 0.5h0m0 17h0m0.5-23h0m0 4.5h0m0 0.5h0m0 19h0m0.5-20.5h0m0 0.5h0m0 18.5h0m0.5-17.5h0m0 21.5h0m0.5-31.5h0m0 8h0m0 1.5h0m0.5-10.5h0m0 28h0m0.5-19h0m0.5-8h0m0 6h0m0 21h0m0 1h0m0 2h0m0.5-26.5h0m0 0.5h0m0 2.5h0m0 1h0m0 20h0m0 0.5h0m0 1.5h0m0.5-23.5h0m0 21h0m0.5-25.5h0m0 0.5h0m0 1h0m0 24.5h0m0 1h0m0 2.5h0m0.5-26.5h0m0 23.5h0m0.5-21h0m0 0.5h0m0 0.5h0m0 19.5h0m0.5-28h0m0 0.5h0m0 1h0m0 4h0m0 2.5h0m0 20.5h0m0.5-31.5h0m0 0.5h0m0 0.5h0m0 6.5h0m0 0.5h0m0 1.5h0m0 21h0m0 0.5h0m0 0.5h0m0 0.5h0m0 2.5h0m0.5-32.5h0m0 29h0m0 1h0m0.5-24h0m0 0.5h0m0 22h0m0.5-29h0m0 6.5h0m0 2.5h0m0 20.5h0m0 2.5h0m0.5-23.5h0m0.5-8h0m0 1h0m0 3h0m0 2.5h0m0 0.5h0m0 0.5h0m0.5-5.5h0m0 5.5h0m0 0.5h0m0 21h0m0 1h0m0.5-31h0m0 9h0m0 23.5h0m0.5-30.5h0m0 32h0m0.5-31h0m0.5 5.5h0m0 26h0m0.5-33.5h0m0 4.5h0m0 3.5h0m0 0.5h0m0.5-1h0m0 0.5h0m0.5 0.5h0m0 23.5h0m0.5-31h0m0 0.5h0m0 2h0m0 1h0m0 2h0m0 1.5h0m0 23.5h0m0.5-29h0m0 5h0m0 24h0m0.5-30.5h0m0 3h0m0 24.5h0m0.5-21h0m0.5-3h0m0 25h0m0.5-25h0m0 24.5h0m0 1h0m0 0.5h0m0 2.5h0m0.5-35.5h0m0 6.5h0m0 1h0m0 0.5h0m0 2h0m0.5-8.5h0m0 5.5h0m0 3h0m0 0.5h0m0 21h0m0 1h0m0.5-31h0m0 5h0m0 1.5h0m0 3h0m0 20.5h0m0 1h0m0.5-27.5h0m0 5.5h0m0 21h0m0 1h0m0.5-0.5h0m0 2h0m0.5-30.5h0m0 1h0m0 0.5h0m0 1.5h0m0 1.5h0m0 1.5h0m0 1.5h0m0 22.5h0m0.5-25h0m0 3h0m0 20h0m0 1h0m1-24h0m0 2.5h0m0 1h0m0 19.5h0m0 1.5h0m0.5-23h0m0.5 0h0m0 0.5h0m0 0.5h0m0.5-1h0m0 2h0m0.5-0.5h0m0 0.5h0m0.5-2.5h0m0 2h0m1-5h0m0 6h0m0.5-8.5h0m0 0.5h0m0 4.5h0m0 3.5h0m0.5-5h0m0 2h0m0 0.5h0m0 1h0m0 2h0m0.5-12.5h0m0 1.5h0m0 1h0m0 6h0m0 0.5h0m0 1h0m0 2.5h0m0.5-16.5h0m0 0.5h0m0 3h0m0 3.5h0m0 0.5h0m0 3h0m0 0.5h0m0 0.5h0m0 4.5h0m0 20h0m0.5-35h0m0 1h0m0 2h0m0 2h0m0 0.5h0m0 0.5h0m0 0.5h0m0 0.5h0m0 0.5h0m0 0.5h0m0 0.5h0m0 1h0m0 2.5h0m0 1h0m0 1.5h0m0 20h0m0 1.5h0m0 2.5h0m0.5-46h0m0 7.5h0m0 0.5h0m0 3h0m0 0.5h0m0 1h0m0 4.5h0m0 0.5h0m0 0.5h0m0 1.5h0m0 1h0m0 1h0m0.5-22.5h0m0 1h0m0 0.5h0m0 0.5h0m0 1h0m0 1.5h0m0 1h0m0 2h0m0 1h0m0 0.5h0m0 1h0m0 1h0m0 1.5h0m0 1h0m0 1h0m0 4h0m0 0.5h0m0 1.5h0m0 1.5h0m0 1.5h0m0 19.5h0m0.5-45h0m0 0.5h0m0 2.5h0m0 0.5h0m0 0.5h0m0 1.5h0m0 0.5h0m0 0.5h0m0 1.5h0m0 3.5h0m0 3.5h0m0 1h0m0 3h0m0 0.5h0m0 1h0m0 1h0m0 0.5h0m0 1.5h0m0 1.5h0m0 23.5h0m0.5-51.5h0m0 1h0m0 0.5h0m0 1h0m0 0.5h0m0 2.5h0m0 0.5h0m0 2.5h0m0 2h0m0 2h0m0 0.5h0m0 0.5h0m0 2.5h0m0 0.5h0m0 1.5h0m0 2.5h0m0 2h0m0 1h0m0 1h0m0 1.5h0m0 1.5h0m0 1.5h0m0 1h0m0 18h0m0 0.5h0m0 0.5h0m0.5-56h0m0 2h0m0 3.5h0m0 1h0m0 1h0m0 1h0m0 0.5h0m0 4h0m0 0.5h0m0 1h0m0 1h0m0 2h0m0 5h0m0 2.5h0m0 1.5h0m0 1h0m0 3h0m0 1h0m0 2.5h0m0.5-32h0m0 3h0m0 3h0m0 0.5h0m0 0.5h0m0 1h0m0 1.5h0m0 2.5h0m0 0.5h0m0 1h0m0 3h0m0 4h0m0 1.5h0m0 0.5h0m0 1h0m0 3.5h0m0 0.5h0m0 1h0m0 1.5h0m0 0.5h0m0 1h0m0 1h0m0 1.5h0m0.5-41h0m0 3.5h0m0 2.5h0m0 1.5h0m0 0.5h0m0 4.5h0m0 1h0m0 4h0m0 0.5h0m0 2h0m0 0.5h0m0 0.5h0m0 1h0m0 2h0m0 2h0m0 1.5h0m0 0.5h0m0 0.5h0m0 2h0m0 1.5h0m0 1h0m0 2h0m0 0.5h0m0 2.5h0m0 1.5h0m0 2h0m0 21.5h0m0.5-64h0m0 0.5h0m0 1h0m0 1.5h0m0 4h0m0 1h0m0 1h0m0 0.5h0m0 1h0m0 0.5h0m0 1h0m0 1h0m0 1h0m0 0.5h0m0 1.5h0m0 0.5h0m0 3.5h0m0 5.5h0m0 1h0m0 1h0m0 2h0m0 2.5h0m0 0.5h0m0 1.5h0m0 8h0m0 19.5h0m0.5-63.5h0m0 0.5h0m0 3h0m0 1h0m0 2h0m0 0.5h0m0 2.5h0m0 4h0m0 0.5h0m0 4h0m0 1h0m0 2h0m0 0.5h0m0 1.5h0m0 4h0m0 4h0m0 1h0m0 4.5h0m0 7.5h0m0 0.5h0m0 19.5h0m0.5-65h0m0 0.5h0m0 1h0m0 1.5h0m0 3h0m0 3.5h0m0 1h0m0 0.5h0m0 2.5h0m0 2h0m0 1.5h0m0 2h0m0 6h0m0 39h0m0 1.5h0m0.5-62.5h0m0 2.5h0m0 1h0m0 0.5h0m0 0.5h0m0 3h0m0 12.5h0m0 11h0m0 11h0m0 19.5h0m0 0.5h0m0.5-59.5h0m0 7h0m0 32.5h0m0 1h0m0 0.5h0m0 17.5h0m0 0.5h0m0 0.5h0m0.5-58h0m0 0.5h0m0 0.5h0m0 1h0m0 1.5h0m0 1h0m0 52.5h0m0 0.5h0m0 0.5h0m0 0.5h0m0 0.5h0m0 1.5h0m0.5-23.5h0m0 0.5h0m0 1h0m0 1.5h0m0 18.5h0m0 1h0m0 1h0m0.5-26h0m0 4.5h0m0 20h0m0.5-23.5h0m0 2.5h0m0 1h0m0 0.5h0m1-5h0m0 0.5h0m0 3.5h0m0 19.5h0m0 0.5h0m0 1h0m0.5-21.5h0m0.5-3.5h0m0 1.5h0m0 1.5h0m0 21h0m0 0.5h0m0.5-22h0m0 1h0m0.5-5h0m0 1.5h0m0 3.5h0m0 0.5h0m0 0.5h0m0.5-2h0m0 1h0m0 0.5h0m0 19.5h0m0 1h0m0 0.5h0m0 0.5h0m0.5-22h0m0 0.5h0m0 0.5h0m0 21h0m0.5-27.5h0m0 2h0m0 3h0m0 1h0m0.5-0.5h0m0.5-5h0m0 4.5h0m0.5-7h0m0 3h0m0 1h0m0 1.5h0m0 23.5h0m0.5-26.5h0m0 2.5h0m0 1h0m0.5 0.5h0m0 22.5h0m0.5-27h0m0 2.5h0m0 3h0m0 21.5h0m0 0.5h0m0.5-25h0m0 26.5h0m0.5-27h0m0 1h0m0 0.5h0m0 23.5h0m0.5-27.5h0m0 2.5h0m0 1h0m0 25h0m0.5-24.5h0m0.5-3h0m0 1.5h0m0 2.5h0m0 23.5h0m0 1h0m0.5-29h0m0 4h0m0.5-1h0m0 25h0m0 1h0m0 0.5h0m1-28.5h0m0 1h0m0 26h0m0 1h0m0.5-27h0m0 28h0m0.5-29h0m0 1.5h0m0 1h0m0 0.5h0m0 24h0m0.5-27.5h0m0 3h0m0 24.5h0m0.5 1.5h0m0.5-30.5h0m0 2.5h0m0 1h0m0 1.5h0m0 24.5h0m0 0.5h0m0 1h0m0.5-30h0m0 0.5h0m0 3h0m0.5-1.5h0m0 1.5h0m0.5-1.5h0m0 1.5h0m0 26h0m0 2.5h0m0.5-33h0m0.5 3h0m0 28.5h0m0.5-27.5h0m0 28h0m0.5 2h0m0.5-30.5h0m0 29.5h0m0 0.5h0m0 1.5h0m0.5-31h0m0 30h0m0 0.5h0m0 1.5h0m0.5-32h0m0 30h0m0.5-30.5h0m0 0.5h0m0 31h0m0 2h0m0.5-36.5h0m0 3h0m0 1h0m0.5 0h0m0 0.5h0m0.5-2h0m0 2h0m0 30.5h0m0.5 0.5h0m0.5-32h0m0 1h0m0.5 31h0m0.5-32h0m0.5-5h0m0 0.5h0m0 1.5h0m0 35.5h0m0.5-35.5h0m0 2.5h0m0 1h0m0 0.5h0m0 31h0m0 0.5h0m0 0.5h0m0.5-43.5h0m0 1h0m0 2h0m0 0.5h0m0 5.5h0m0 2h0m0 0.5h0m0.5-9.5h0m0 1.5h0m0 0.5h0m0 1.5h0m0 1.5h0m0 1h0m0 3.5h0m0 0.5h0m0 30.5h0m0.5-49.5h0m0 6h0m0 0.5h0m0 1.5h0m0 3h0m0 4h0m0 3.5h0m0 31.5h0m0 2h0m0.5-50.5h0m0 4h0m0 3h0m0 0.5h0m0 3h0m0 0.5h0m0 2h0m0 2h0m0 2.5h0m0 30.5h0m0.5-49h0m0 2h0m0 2h0m0 4.5h0m0 0.5h0m0 2h0m0 1h0m0 1h0m0 1.5h0m0 2.5h0m0 0.5h0m0 32h0m0.5-51h0m0 2h0m0 2h0m0 0.5h0m0 1h0m0 3h0m0 3.5h0m0 0.5h0m0 1.5h0m0 3.5h0m0 4h0m0 29h0m0 0.5h0m0.5-49.5h0m0 4h0m0 3.5h0m0 1h0m0 5.5h0m0 36h0m0.5-49.5h0m0 1h0m0 1h0m0 1h0m0 1h0m0 1.5h0m0 1h0m0 4h0m0 9h0m0.5-16h0m0 14.5h0m0.5-19h0m0 19.5h0m0 1h0m0 0.5h0m1.5-1h0m0 31h0m0.5-29.5h0m0.5 29.5h0m0.5-32h0m0 3h0m0 27.5h0m0.5-27h0m0 26.5h0m0.5-28.5h0m0 2h0m0 0.5h0m0 1h0m0 1h0m0 0.5h0m0 23.5h0m0 1.5h0m0.5-28h0m0 2h0m0 1h0m0 24h0m0.5-27h0m0 3h0m0 0.5h0m0 4h0m0 1h0m0 1h0m0 8h0m0 3h0m0 2.5h0m0 5h0m0.5-27h0m0 4h0m0 1.5h0m0 3h0m0 7.5h0m0 0.5h0m0 0.5h0m0 2h0m0 3h0m0 0.5h0m0 1.5h0m0 1h0m0.5-24h0m0 2.5h0m0 3.5h0m0 1.5h0m0 0.5h0m0 1.5h0m0 5h0m0 0.5h0m0 0.5h0m0 0.5h0m0 1.5h0m0 3h0m0.5-18h0m0 3h0m0 2h0m0 0.5h0m0 1h0m0 1.5h0m0 1h0m0 1.5h0m0 1h0m0 3h0m0 1h0m0 2h0m0 2h0m0.5-16.5h0m0 5.5h0m0 1.5h0m0 3.5h0m0 3h0m0 6.5h0m0.5-17.5h0m0 5.5h0m0 1.5h0m0 8.5h0m0 1.5h0m0.5-25.5h0m0 1h0m0 4h0m0 9h0m0 2.5h0m0.5-14h0m0 0.5h0m0 0.5h0m0 5.5h0m0 1.5h0m0 16h0m0.5-28.5h0m0 10h0m0 2.5h0m0 2.5h0m0 0.5h0m0.5-11h0m0 0.5h0m0 6.5h0m0 0.5h0m0 12.5h0m0 1.5h0m0 2h0m0.5-22.5h0m0 0.5h0m0 6h0m0 2.5h0m0 5h0m0 4h0m0.5-19.5h0m0 22h0m0 1.5h0m0 2h0m0.5-17.5h0m0 5.5h0m0 4h0m0 1.5h0m0.5-19h0m0 16.5h0m0 4.5h0m0.5-10.5h0m0 5h0m0.5-14h0m0 5h0m0 1.5h0m0 9h0m0 3.5h0m0 5h0m0.5-27.5h0m0 19.5h0m0 5.5h0m0.5-27h0m0 4h0m0 5.5h0m0 5.5h0m0 10.5h0m0.5-3.5h0m0.5-12.5h0m0 18h0m0.5-10h0m0 12.5h0m0.5-9h0m1 2h0m0.5-2h0m0 2h0m0.5 1h0m0.5-1h0m0.5 2.5h0" stroke="#0b2cf2" stroke-width="1.7" stroke-linecap="square" fill="none"/><path d="M588 91h0m1 37h0m0 6.5h0m0 1h0m0 12h0m0.5-12h0m0 14h0m0.5-3.5h0m1-22h0m0.5-5h0m1.5-2h0m0.5-28h0m1 66h0m0.5-97.5h0m0.5 51.5h0m0.5 0.5h0m0.5-4h0m0 6h0m1-15h0m0.5 9h0m0 5h0m1-7.5h0m0 5.5h0m0 2h0m0.5-6.5h0m0.5-8.5h0m0.5-0.5h0m0 4.5h0m0 7.5h0m0 46h0m0.5-52.5h0m0 9.5h0m0.5-26.5h0m0 21.5h0m0.5-6.5h0m0 3h0m0.5-8.5h0m0 7h0m1-21h0m0 11h0m0 1h0m0 19.5h0m0.5-72h0m0 58h0m0 4h0m0.5-10.5h0m1 12.5h0m0 4.5h0m0.5-17.5h0m0 9.5h0m0.5-9h0m0 6.5h0m0 6h0m0 1.5h0m0 43.5h0m1-79h0m0 39.5h0m0 33.5h0m0.5-66h0m0 15.5h0m0 16h0m0 1.5h0m0.5-10.5h0m0.5 1h0m0.5-25.5h0m0.5 59h0m0.5-55.5h0m0 4.5h0m0 23.5h0m0.5-3.5h0m0 27h0m0 2h0m0 7.5h0m0.5-73.5h0m0 18.5h0m0 3.5h0m0 4.5h0m0 14.5h0m0 13.5h0m0 3h0m0 4.5h0m0.5-30h0m0 2h0m0 24.5h0m0.5-38h0m0 20h0m0 0.5h0m0 5.5h0m0.5-28h0m0 28h0m0.5-36.5h0m0.5 24.5h0m0 8.5h0m0 11h0m1-26h0m0 0.5h0m0.5-1.5h0m0.5 45.5h0m1-53h0m4-3.5h0m2.5 60h0m1-80h0m0 79h0m0.5-123h0m0 26.5h0m0.5 91h0m0 0.5h0m0.5 24.5h0m1-16.5h0m0 2h0m0.5-2.5h0m0 1h0m0 20h0m0.5-87h0m0.5 83.5h0m0.5 9h0m0.5-128h0m0 125h0m0 5.5h0m0.5-35.5h0m0.5-18h0m0.5-3.5h0m0 36.5h0m1.5-110h0m0 137.5h0m1-58h0m1.5-18h0m0 23h0m3 63.5h0m1-41.5h0m0 0.5h0m1-2.5h0m0.5 7h0m0 1.5h0m0.5-16h0m1 18h0m0.5-4h0m0 2h0m0.5 0.5h0m0 2.5h0m0.5 4.5h0m0.5-41h0m0 33h0m0 36h0m0.5-29h0m0.5-40h0m0 11.5h0m1 58h0m1-68h0m0 13.5h0m0.5-5.5h0m0 9.5h0m0.5-7.5h0m0 5h0m0 50h0m1-57.5h0m0 59.5h0m0 1h0m0.5-58.5h0m0 55.5h0m0.5-84h0m0 20.5h0m0 40.5h0m0.5-52.5h0m0 16.5h0m1-14h0m0 41.5h0m0.5-35.5h0m0 35h0m0 6.5h0m0.5-51h0m0 76.5h0m1-64.5h0m0.5 29h0m0 36.5h0m0.5-81h0m0 5h0m0 45.5h0m0 30.5h0m1.5-78.5h0m0 12h0m0 30.5h0m1 36h0m1.5-34.5h0m7 34.5h0m1-62h0m0.5 19.5h0m1 4.5h0m0.5-6.5h0m0 4.5h0m0 41h0m0.5-39.5h0m1-43.5h0m0 42.5h0m1-25.5h0m0 20h0m0.5 3h0m0.5-4h0m0 9h0m0 1h0m0.5-9h0m1.5-2.5h0m0.5-16h0m0 27h0m1-1h0m0.5 40h0m1.5-42.5h0m1 2.5h0m0.5-33h0m1 10.5h0m0 22h0m1 0.5h0m0 2h0m2.5-12h0m0 48h0m0.5-0.5h0m3 1h0m2-32.5h0m0 4h0m0 28.5h0m0.5-40h0m0.5 3h0m1.5 36.5h0m0.5-41.5h0m0 5h0m0.5-1.5h0m1-1h0m1 1h0m1.5-4.5h0m0 2.5h0m0 5h0m0 0.5h0m2.5-9.5h0m0 11.5h0m0 33.5h0m1.5-48h0m0.5 3h0m1 11h0m0.5-11.5h0m0.5 45h0m3.5-32.5h0m0.5 36.5h0m1.5-36h0m3.5-3h0m3.5 2.5h0m10 41.5h0m2.5-32.5h0m4.5 31.5h0m1.5 0h0m1-0.5h0m0.5 12h0m1-53h0m0 43.5h0m0.5-27h0m0 4.5h0m0.5 19.5h0m0.5-24h0m0.5 7h0m1.5 15h0m1-5h0m1.5 8h0m1-1.5h0m0.5-2.5h0m0 0.5h0m0.5-33h0m0.5 34h0m0 3h0m1-12.5h0m0 5h0m0 6.5h0m1.5-15h0m0.5 7.5h0m0 6.5h0m1 2h0m1-5h0m0 4.5h0m1.5-20h0m1 32.5h0m0.5-8.5h0m1.5 13h0m3.5-9.5h0" stroke="#3a42b4" stroke-width="1.7" stroke-linecap="square" fill="none"/>
<rect x="565.00" y="5.25" width="214.50" height="228.60" fill="none" stroke="#4a4a4a" stroke-width="1.1"/>
<path d="M565.00 233.85v-2.2M565.00 5.25v2.2M595.64 233.85v-2.2M595.64 5.25v2.2M626.29 233.85v-2.2M626.29 5.25v2.2M656.93 233.85v-2.2M656.93 5.25v2.2M687.57 233.85v-2.2M687.57 5.25v2.2M718.21 233.85v-2.2M718.21 5.25v2.2M748.86 233.85v-2.2M748.86 5.25v2.2M779.50 233.85v-2.2M779.50 5.25v2.2M565.00 233.85h2.2M779.50 233.85h-2.2M565.00 208.45h2.2M779.50 208.45h-2.2M565.00 183.05h2.2M779.50 183.05h-2.2M565.00 157.65h2.2M779.50 157.65h-2.2M565.00 132.25h2.2M779.50 132.25h-2.2M565.00 106.85h2.2M779.50 106.85h-2.2M565.00 81.45h2.2M779.50 81.45h-2.2M565.00 56.05h2.2M779.50 56.05h-2.2M565.00 30.65h2.2M779.50 30.65h-2.2M565.00 5.25h2.2M779.50 5.25h-2.2" stroke="#4a4a4a" stroke-width="0.9" fill="none"/>
<text x="556.14" y="242.85" textLength="17.72" lengthAdjust="spacingAndGlyphs">−2.0</text>
<text x="586.78" y="242.85" textLength="17.72" lengthAdjust="spacingAndGlyphs">−1.5</text>
<text x="617.42" y="242.85" textLength="17.72" lengthAdjust="spacingAndGlyphs">−1.0</text>
<text x="648.07" y="242.85" textLength="17.72" lengthAdjust="spacingAndGlyphs">−0.5</text>
<text x="681.77" y="242.85" textLength="11.61" lengthAdjust="spacingAndGlyphs">0.0</text>
<text x="712.41" y="242.85" textLength="11.61" lengthAdjust="spacingAndGlyphs">0.5</text>
<text x="743.05" y="242.85" textLength="11.61" lengthAdjust="spacingAndGlyphs">1.0</text>
<text x="773.70" y="242.85" textLength="11.61" lengthAdjust="spacingAndGlyphs">1.5</text>
<text x="539.03" y="236.00" textLength="22.37" lengthAdjust="spacingAndGlyphs">−0.10</text>
<text x="539.03" y="210.60" textLength="22.37" lengthAdjust="spacingAndGlyphs">−0.05</text>
<text x="545.15" y="185.20" textLength="16.25" lengthAdjust="spacingAndGlyphs">0.00</text>
<text x="545.15" y="159.80" textLength="16.25" lengthAdjust="spacingAndGlyphs">0.05</text>
<text x="545.15" y="134.40" textLength="16.25" lengthAdjust="spacingAndGlyphs">0.10</text>
<text x="545.15" y="109.00" textLength="16.25" lengthAdjust="spacingAndGlyphs">0.15</text>
<text x="545.15" y="83.60" textLength="16.25" lengthAdjust="spacingAndGlyphs">0.20</text>
<text x="545.15" y="58.20" textLength="16.25" lengthAdjust="spacingAndGlyphs">0.25</text>
<text x="545.15" y="32.80" textLength="16.25" lengthAdjust="spacingAndGlyphs">0.30</text>
<text x="545.15" y="7.40" textLength="16.25" lengthAdjust="spacingAndGlyphs">0.35</text>
<text x="644.93" y="254.15" textLength="54.64" lengthAdjust="spacingAndGlyphs">Partial charges</text>
<text transform="translate(534.00,119.55) rotate(-90)" x="-30.03" y="0" textLength="60.06" lengthAdjust="spacingAndGlyphs">Electrophilicities</text>
<text x="573.50" y="18.95" textLength="39.36" lengthAdjust="spacingAndGlyphs">R = -0.440</text>
<path d="M64.3 314.3V463.4" stroke="#2238d8" stroke-width="1.8"/><path d="M71.2 332.3V466.2" stroke="#2238d8" stroke-width="1.8"/><path d="M96.4 333.3V475.6" stroke="#2238d8" stroke-width="1.8"/><path d="M112.3 305.9V482.0" stroke="#2238d8" stroke-width="1.8"/><path d="M143.8 327.0V439.4" stroke="#2238d8" stroke-width="1.8"/><path d="M150.7 326.4V478.5" stroke="#2238d8" stroke-width="1.8"/><path d="M166.1 350.3V464.0" stroke="#2238d8" stroke-width="1.8"/><path d="M199.1 319.6V435.3" stroke="#2238d8" stroke-width="1.8"/><path d="M64.5 301h0m0 164.5h0m0 4h0m0 10.5h0m6.5-159.5h0m0 3.5h0m0 3h0m0 3h0m0 138.5h0m0 12.5h0m20-127.5h0m0 8h0m0 3.5h0m0 2.5h0m0 2.5h0m0 2.5h0m0 10h0m5.5-63h0m0 6.5h0m0 2h0m0 2h0m0 147.5h0m0 1.5h0m0 1h0m0 5h0m16-1h0m0 2h0m28.5-159.5h0m0 12.5h0m0 18.5h0m3-45h0m0 10.5h0m0 119h0m0 3h0m0 3h0m0 3h0m0 5h0m6.5 29h0m15.5-175.5h0m0 10h0m0 2h0m0 11h0m0 1.5h0m0 1.5h0m0 6.5h0m0 2h0m0 2h0m0 2h0m0 119h0m0 3h0m0 5h0m33-168h0m0 7.5h0m0 2h0m0 126h0m0 1.5h0m25-128.5h0m0 2h0m0 2h0m0 4.5h0m0 2.5h0m0 2.5h0m0 2.5h0m0 2.5h0m0 2.5h0m0 2.5h0m0 2.5h0m0 1.5h0m0 3.5h0m0 17h0m0 32.5h0m0 16h0" stroke="#2238d8" stroke-width="1.8" stroke-linecap="square" fill="none"/>
<rect x="34.20" y="267.45" width="214.50" height="229.05" fill="none" stroke="#4a4a4a" stroke-width="1.1"/>
<path d="M34.20 496.50v-2.2M34.20 267.45v2.2M61.01 496.50v-2.2M61.01 267.45v2.2M87.82 496.50v-2.2M87.82 267.45v2.2M114.64 496.50v-2.2M114.64 267.45v2.2M141.45 496.50v-2.2M141.45 267.45v2.2M168.26 496.50v-2.2M168.26 267.45v2.2M195.07 496.50v-2.2M195.07 267.45v2.2M221.89 496.50v-2.2M221.89 267.45v2.2M248.70 496.50v-2.2M248.70 267.45v2.2M34.20 496.50h2.2M248.70 496.50h-2.2M34.20 463.78h2.2M248.70 463.78h-2.2M34.20 431.06h2.2M248.70 431.06h-2.2M34.20 398.34h2.2M248.70 398.34h-2.2M34.20 365.61h2.2M248.70 365.61h-2.2M34.20 332.89h2.2M248.70 332.89h-2.2M34.20 300.17h2.2M248.70 300.17h-2.2M34.20 267.45h2.2M248.70 267.45h-2.2" stroke="#4a4a4a" stroke-width="0.9" fill="none"/>
<text x="25.34" y="505.50" textLength="17.72" lengthAdjust="spacingAndGlyphs">−0.6</text>
<text x="52.15" y="505.50" textLength="17.72" lengthAdjust="spacingAndGlyphs">−0.4</text>
<text x="78.96" y="505.50" textLength="17.72" lengthAdjust="spacingAndGlyphs">−0.2</text>
<text x="108.83" y="505.50" textLength="11.61" lengthAdjust="spacingAndGlyphs">0.0</text>
<text x="135.65" y="505.50" textLength="11.61" lengthAdjust="spacingAndGlyphs">0.2</text>
<text x="162.46" y="505.50" textLength="11.61" lengthAdjust="spacingAndGlyphs">0.4</text>
<text x="189.27" y="505.50" textLength="11.61" lengthAdjust="spacingAndGlyphs">0.6</text>
<text x="216.08" y="505.50" textLength="11.61" lengthAdjust="spacingAndGlyphs">0.8</text>
<text x="242.90" y="505.50" textLength="11.61" lengthAdjust="spacingAndGlyphs">1.0</text>
<text x="19.84" y="498.65" textLength="10.76" lengthAdjust="spacingAndGlyphs">−3</text>
<text x="19.84" y="465.93" textLength="10.76" lengthAdjust="spacingAndGlyphs">−2</text>
<text x="19.84" y="433.21" textLength="10.76" lengthAdjust="spacingAndGlyphs">−1</text>
<text x="25.96" y="400.49" textLength="4.64" lengthAdjust="spacingAndGlyphs">0</text>
<text x="25.96" y="367.76" textLength="4.64" lengthAdjust="spacingAndGlyphs">1</text>
<text x="25.96" y="335.04" textLength="4.64" lengthAdjust="spacingAndGlyphs">2</text>
<text x="25.96" y="302.32" textLength="4.64" lengthAdjust="spacingAndGlyphs">3</text>
<text x="25.96" y="269.60" textLength="4.64" lengthAdjust="spacingAndGlyphs">4</text>
<text x="116.56" y="516.80" textLength="49.78" lengthAdjust="spacingAndGlyphs">Lipophilicities</text>
<text transform="translate(14.20,381.98) rotate(-90)" x="-31.46" y="0" textLength="62.93" lengthAdjust="spacingAndGlyphs">Shape deviations</text>
<text x="42.70" y="281.15" textLength="39.36" lengthAdjust="spacingAndGlyphs">R = -0.163</text>
<path d="M329.7 421.5V445.4" stroke="#2238d8" stroke-width="1.8"/><path d="M336.8 416.9V444.6" stroke="#2238d8" stroke-width="1.8"/><path d="M361.5 405.4V447.7" stroke="#2238d8" stroke-width="1.8"/><path d="M377.8 419.2V444.6" stroke="#2238d8" stroke-width="1.8"/><path d="M409.0 420.8V440.9" stroke="#2238d8" stroke-width="1.8"/><path d="M416.0 404.9V464.2" stroke="#2238d8" stroke-width="1.8"/><path d="M431.4 348.3V427.2" stroke="#2238d8" stroke-width="1.8"/><path d="M464.4 385.9V428.2" stroke="#2238d8" stroke-width="1.8"/><path d="M329.5 408.5h0m0 4h0m7.5-13h0m0 2.5h0m0 2.5h0m0 3h0m0 5.5h0m19.5 18h0m0 5h0m0 1.5h0m0 1.5h0m5-41.5h0m0 2.5h0m0 2.5h0m0 2h0m0 46.5h0m47.5-81h0m0 11.5h0m0 3.5h0m0 23h0m0 7.5h0m0 2h0m7-21.5h0m0 70.5h0m0 2h0m0 2.5h0m0 2.5h0m0 2.5h0m15.5-196.5h0m0 21h0m0 2h0m0 2.5h0m0 15.5h0m0 2.5h0m0 3h0m0 3h0m0 3h0m0 2.5h0m0 2.5h0m0 2.5h0m0 2.5h0m0 2h0m0 2h0m0 89.5h0m33-53.5h0m24.5 18.5h0m0 3h0m0 3h0m0 3h0m0 2.5h0m0 2.5h0m0 2.5h0m0 2.5h0m0 2.5h0m0 2.5h0m0 2.5h0m0 4.5h0" stroke="#2238d8" stroke-width="1.8" stroke-linecap="square" fill="none"/>
<rect x="299.60" y="267.45" width="214.50" height="229.05" fill="none" stroke="#4a4a4a" stroke-width="1.1"/>
<path d="M299.60 496.50v-2.2M299.60 267.45v2.2M326.41 496.50v-2.2M326.41 267.45v2.2M353.23 496.50v-2.2M353.23 267.45v2.2M380.04 496.50v-2.2M380.04 267.45v2.2M406.85 496.50v-2.2M406.85 267.45v2.2M433.66 496.50v-2.2M433.66 267.45v2.2M460.48 496.50v-2.2M460.48 267.45v2.2M487.29 496.50v-2.2M487.29 267.45v2.2M514.10 496.50v-2.2M514.10 267.45v2.2M299.60 496.50h2.2M514.10 496.50h-2.2M299.60 471.05h2.2M514.10 471.05h-2.2M299.60 445.60h2.2M514.10 445.60h-2.2M299.60 420.15h2.2M514.10 420.15h-2.2M299.60 394.70h2.2M514.10 394.70h-2.2M299.60 369.25h2.2M514.10 369.25h-2.2M299.60 343.80h2.2M514.10 343.80h-2.2M299.60 318.35h2.2M514.10 318.35h-2.2M299.60 292.90h2.2M514.10 292.90h-2.2M299.60 267.45h2.2M514.10 267.45h-2.2" stroke="#4a4a4a" stroke-width="0.9" fill="none"/>
<text x="290.74" y="505.50" textLength="17.72" lengthAdjust="spacingAndGlyphs">−0.6</text>
<text x="317.55" y="505.50" textLength="17.72" lengthAdjust="spacingAndGlyphs">−0.4</text>
<text x="344.36" y="505.50" textLength="17.72" lengthAdjust="spacingAndGlyphs">−0.2</text>
<text x="374.23" y="505.50" textLength="11.61" lengthAdjust="spacingAndGlyphs">0.0</text>
<text x="401.05" y="505.50" textLength="11.61" lengthAdjust="spacingAndGlyphs">0.2</text>
<text x="427.86" y="505.50" textLength="11.61" lengthAdjust="spacingAndGlyphs">0.4</text>
<text x="454.67" y="505.50" textLength="11.61" lengthAdjust="spacingAndGlyphs">0.6</text>
<text x="481.48" y="505.50" textLength="11.61" lengthAdjust="spacingAndGlyphs">0.8</text>
<text x="508.30" y="505.50" textLength="11.61" lengthAdjust="spacingAndGlyphs">1.0</text>
<text x="273.63" y="498.65" textLength="22.37" lengthAdjust="spacingAndGlyphs">−0.10</text>
<text x="273.63" y="473.20" textLength="22.37" lengthAdjust="spacingAndGlyphs">−0.05</text>
<text x="279.75" y="447.75" textLength="16.25" lengthAdjust="spacingAndGlyphs">0.00</text>
<text x="279.75" y="422.30" textLength="16.25" lengthAdjust="spacingAndGlyphs">0.05</text>
<text x="279.75" y="396.85" textLength="16.25" lengthAdjust="spacingAndGlyphs">0.10</text>
<text x="279.75" y="371.40" textLength="16.25" lengthAdjust="spacingAndGlyphs">0.15</text>
<text x="279.75" y="345.95" textLength="16.25" lengthAdjust="spacingAndGlyphs">0.20</text>
<text x="279.75" y="320.50" textLength="16.25" lengthAdjust="spacingAndGlyphs">0.25</text>
<text x="279.75" y="295.05" textLength="16.25" lengthAdjust="spacingAndGlyphs">0.30</text>
<text x="279.75" y="269.60" textLength="16.25" lengthAdjust="spacingAndGlyphs">0.35</text>
<text x="381.96" y="516.80" textLength="49.78" lengthAdjust="spacingAndGlyphs">Lipophilicities</text>
<text transform="translate(268.60,381.98) rotate(-90)" x="-30.03" y="0" textLength="60.06" lengthAdjust="spacingAndGlyphs">Electrophilicities</text>
<text x="308.10" y="281.15" textLength="36.73" lengthAdjust="spacingAndGlyphs">R = 0.068</text>
<path d="M682 425.5h23m-37 1h44m-58 1h63m-74 1h79m-88 1h92m-102 1h105m-113 1h115m-124 1h126m-135 1h136m-142 1h142m-146 1h145m-149 1h148m-150 1h147m-149 1h145m-146 1h139m-140 1h134m-135 1h131m-130 1h125m-123 1h114m-112 1h78" stroke="#0b2cf2" stroke-width="1" fill="none" shape-rendering="crispEdges"/><path d="M575.5 440.5h0m0.5 1h0m0 1h0m1-5h0m0 3h0m0.5-3.5h0m0 5h0m0 0.5h0m0 0.5h0m0.5-5.5h0m0 1.5h0m0 1h0m0 0.5h0m0.5 3h0m0.5-5.5h0m0 6h0m0.5-9.5h0m0 4h0m0 5.5h0m0.5 3.5h0m0.5-0.5h0m0.5-10h0m0 0.5h0m0.5-2h0m0 1h0m0 1h0m0 6.5h0m0 2.5h0m0.5-10h0m0 0.5h0m0 8.5h0m0 1.5h0m0.5-14.5h0m0 4h0m0 9h0m0.5-9h0m0 10h0m0.5-11.5h0m0.5-3.5h0m0.5 4h0m1-0.5h0m0 1h0m0.5-2h0m0 14h0m0.5 2.5h0m0.5-17.5h0m0 2.5h0m0 10h0m0 0.5h0m0 3.5h0m0.5-20h0m0 4h0m0 0.5h0m0.5 0.5h0m0 1h0m0 10h0m0 2h0m0.5-15.5h0m0 0.5h0m0.5 0.5h0m0 1h0m0 12.5h0m0 1.5h0m0.5-16.5h0m0 13.5h0m0 0.5h0m0 3.5h0m0.5-19.5h0m0 19h0m0 1h0m0.5-15.5h0m0 15.5h0m0 1.5h0m0 0.5h0m0.5-25.5h0m0 7.5h0m0 0.5h0m0 12.5h0m0 3.5h0m0 1.5h0m0.5-17.5h0m0 11.5h0m0 3h0m0.5-19h0m0 1h0m0 3.5h0m0 1h0m0 10.5h0m0 4.5h0m0.5-4.5h0m0.5-18.5h0m0 0.5h0m0 2h0m0 4.5h0m0 11.5h0m0 3h0m0 0.5h0m0.5-16.5h0m0.5-5h0m0 22.5h0m0 1h0m0.5-20.5h0m0 1.5h0m0 1h0m0 1h0m0 11.5h0m0.5-21h0m0 6.5h0m0 0.5h0m0 1.5h0m0 1h0m0 11h0m0 3h0m0 2.5h0m0.5-2.5h0m0 0.5h0m0.5-21.5h0m0 4.5h0m0 1.5h0m0.5 0.5h0m0.5-6h0m0 4h0m0 2h0m0 0.5h0m0 14h0m0.5-24.5h0m0 3h0m0 21h0m0 3h0m0.5-26h0m0 9h0m0 13.5h0m0 0.5h0m0.5-15.5h0m0 0.5h0m0.5-7.5h0m0 4h0m0 21h0m0.5-21.5h0m0 0.5h0m0 2.5h0m0 17.5h0m0.5-18h0m0 1.5h0m0 13h0m0 0.5h0m0.5-15.5h0m0 0.5h0m0 16.5h0m0 2h0m0 2h0m0.5-20.5h0m0 1h0m0 0.5h0m0 13h0m0 7.5h0m0.5-22h0m0 1h0m0 15h0m0 2h0m0 0.5h0m0.5-26h0m0 8h0m0 17.5h0m0 2h0m0.5-27.5h0m0 6h0m0 18.5h0m0.5-25.5h0m0 9.5h0m0 0.5h0m0 17.5h0m0.5-23.5h0m0 19h0m0 2h0m0 5h0m0.5-30h0m0 0.5h0m0 6.5h0m0 3h0m0 13.5h0m0.5-22h0m0 21.5h0m0 2.5h0m0 2.5h0m0 1.5h0m0.5-29h0m0 5h0m0 17h0m0 2h0m0.5-21.5h0m0 1.5h0m0 5h0m0 0.5h0m0 0.5h0m0 12h0m0 3h0m0 1h0m0 1h0m0 4h0m0.5-26.5h0m0 3.5h0m0 16h0m0.5-25h0m0 5h0m0 4.5h0m0 0.5h0m0 14.5h0m0 4h0m0.5-27.5h0m0 4.5h0m0 4h0m0 0.5h0m0.5-5h0m0 0.5h0m0 1h0m0 1.5h0m0 1.5h0m0 15.5h0m0 1h0m0 0.5h0m0 0.5h0m0 1h0m0.5-30h0m0 1h0m0 24.5h0m0.5-24.5h0m0 1h0m0 4h0m0 3h0m0 20h0m0 0.5h0m0 1.5h0m0.5-24.5h0m0 1h0m0 23.5h0m0.5-26h0m0 5.5h0m0 1h0m0 15.5h0m0 0.5h0m0 4h0m0.5-28.5h0m0 2h0m0 1.5h0m0 5h0m0 0.5h0m0 16.5h0m0.5-28h0m0 7h0m0 20.5h0m0 2.5h0m0.5-22.5h0m0 3h0m0 0.5h0m0 16h0m0.5-26h0m0 3h0m0 6h0m0 0.5h0m0 1h0m0 13.5h0m0 1.5h0m0 3h0m0 2.5h0m0.5-30.5h0m0 29h0m0.5-24h0m0 2h0m0 3h0m0 19h0m0.5-32h0m0 0.5h0m0 10h0m0 19h0m0 0.5h0m0.5-18.5h0m0 0.5h0m0 14h0m0 5h0m0.5-30h0m0 3.5h0m0 2h0m0 5.5h0m0 16h0m0.5-15.5h0m0 18h0m0 3.5h0m0.5-32h0m0 8.5h0m0 0.5h0m0 0.5h0m0 0.5h0m0 15h0m0.5-28h0m0 6.5h0m0 5h0m0.5-2.5h0m0 23.5h0m0 1.5h0m0.5-30h0m0 3h0m0 2.5h0m0 2h0m0 21.5h0m0.5-27.5h0m0 6h0m0.5-8.5h0m0 5h0m0 2h0m0 1.5h0m0 1.5h0m0 19.5h0m0 2h0m0.5-34.5h0m0 2.5h0m0 1h0m0 4h0m0 0.5h0m0 1.5h0m0 3h0m0 17.5h0m0 3.5h0m0.5-33h0m0 1h0m0 1.5h0m0 0.5h0m0 7h0m0 20.5h0m0 0.5h0m0 1h0m0 0.5h0m0.5-27.5h0m0 2h0m0 4h0m0 17.5h0m0.5-29.5h0m0 3.5h0m0 9.5h0m0 15h0m0 1.5h0m0 1.5h0m0 1.5h0m0 3.5h0m0.5-32h0m0 3.5h0m0 23.5h0m0.5-21h0m0 1.5h0m0 18.5h0m0 0.5h0m0.5-19h0m0 1.5h0m0 18.5h0m0 4.5h0m0.5-33.5h0m0 8h0m0 1h0m0 1h0m0 17.5h0m0 1h0m0 0.5h0m0 1h0m0.5-26h0m0 3h0m0 0.5h0m0 2.5h0m0 18h0m0 0.5h0m0 4.5h0m0 0.5h0m0.5-32h0m0 1.5h0m0 3h0m0 1.5h0m0 19.5h0m0 2.5h0m0 2h0m0 0.5h0m0.5-29h0m0 7h0m0 15h0m0 3h0m0 0.5h0m0 1h0m0 0.5h0m0 1h0m0.5-29h0m0 0.5h0m0 2h0m0 2.5h0m0 21.5h0m0.5-32.5h0m0 10h0m0 2h0m0 18h0m0 1h0m0 3.5h0m0.5-25.5h0m0 1.5h0m0 2.5h0m0 1h0m0 19h0m0 1h0m0 0.5h0m0.5-34h0m0 5.5h0m0 25h0m0 3.5h0m0 3.5h0m0.5-6.5h0m0 5h0m0.5-26h0m0 2h0m0 0.5h0m0 0.5h0m0 19.5h0m0 2h0m0.5-32.5h0m0 9h0m0 2.5h0m0.5-1.5h0m0 23.5h0m0.5-35h0m0 1h0m0 2h0m0 4.5h0m0 2h0m0 3h0m0 0.5h0m0 17.5h0m0 4h0m0.5-32.5h0m0 10.5h0m0 17.5h0m0 0.5h0m0 0.5h0m0.5-30.5h0m0 1h0m0 2h0m0 1h0m0 5h0m0 2h0m0 17h0m0 0.5h0m0 2h0m0.5-24h0m0 3h0m0 2h0m0 0.5h0m0 19h0m0.5-23.5h0m0 3.5h0m0 0.5h0m0 1h0m0 18.5h0m0 1.5h0m0 0.5h0m0 1.5h0m0.5-27h0m0 27.5h0m0.5-6h0m0 2h0m0.5-29h0m0 26h0m0 3.5h0m0.5-29h0m0 5.5h0m0 4h0m0 19.5h0m0 0.5h0m0 3.5h0m0.5-25.5h0m0 20.5h0m0 1h0m0.5-34h0m0 3.5h0m0 10.5h0m0 0.5h0m0 17h0m0 6h0m0.5-34h0m0 3h0m0 7.5h0m0 0.5h0m0 17h0m0 5.5h0m0.5-29.5h0m0 6.5h0m0 0.5h0m0 0.5h0m0 17.5h0m0 1h0m0 1h0m0 3h0m0.5-30h0m0 24h0m0 3h0m0 2.5h0m0.5-32h0m0 5.5h0m0 1.5h0m0 21h0m0 3.5h0m0.5-27.5h0m0 22h0m0 0.5h0m0 5.5h0m0.5-34.5h0m0 1.5h0m0 8h0m0 1h0m0 0.5h0m0 21.5h0m0.5-32h0m0 30.5h0m0 4.5h0m0.5-29h0m0 3.5h0m0 22h0m0.5-28h0m0 2h0m0 5h0m0 18.5h0m0 2h0m0.5-28.5h0m0 26.5h0m0 0.5h0m0 1.5h0m0 0.5h0m0.5-26.5h0m0 2.5h0m0.5-4.5h0m0 4.5h0m0 0.5h0m0 3h0m0 19h0m0.5-24.5h0m0 1.5h0m0 2.5h0m0 0.5h0m0 18h0m0 4.5h0m0.5-27.5h0m0 24.5h0m0.5-33h0m0 8.5h0m0 5h0m0 0.5h0m0 0.5h0m0 17.5h0m0 3.5h0m0 0.5h0m0 1.5h0m0 0.5h0m0.5-37.5h0m0 9h0m0 0.5h0m0 0.5h0m0 2h0m0 1h0m0 17.5h0m0 1.5h0m0 0.5h0m0 0.5h0m0 3h0m0.5-32.5h0m0 4h0m0 0.5h0m0 4.5h0m0 18h0m0 1.5h0m0 2.5h0m0 0.5h0m0.5-4.5h0m0 0.5h0m0 2h0m0 0.5h0m0 4.5h0m0.5-30.5h0m0 1h0m0 1h0m0 2h0m0 0.5h0m0 1h0m0 0.5h0m0 0.5h0m0 18.5h0m0.5-27h0m0 6.5h0m0 1h0m0 18.5h0m0 2h0m0.5-32.5h0m0 4h0m0 7h0m0 0.5h0m0 0.5h0m0 19h0m0 4.5h0m0.5-33h0m0 27h0m0 3h0m0 0.5h0m0 2.5h0m0.5-34.5h0m0 10h0m0 21.5h0m0 2h0m1-35.5h0m0 4.5h0m0 1.5h0m0 25.5h0m0.5-28h0m0 5h0m0 4h0m0 17.5h0m0 1.5h0m0 2.5h0m0 1h0m0.5-34.5h0m0 2.5h0m0 6h0m0 1h0m0 1h0m0.5-6.5h0m0 5h0m0 22.5h0m0 4h0m0 1h0m0.5-37h0m0 2h0m0 4h0m0 1.5h0m0 3h0m0 1h0m0 0.5h0m0 18.5h0m0 2h0m0 0.5h0m0 1h0m0 3h0m0.5-34h0m0 1h0m0 3.5h0m0 1.5h0m0 3h0m0 20h0m0.5 0h0m0 5.5h0m0 1h0m0.5-40.5h0m0 1h0m0 1h0m0 11.5h0m0 19.5h0m0 1h0m0 3.5h0m0 2.5h0m0.5-37.5h0m0 7h0m0 4.5h0m0 20h0m0 1.5h0m0 3.5h0m0.5-37.5h0m0 4.5h0m0 8h0m0 19.5h0m0 3.5h0m0 3h0m0.5-28h0m0 1h0m0 21h0m0 4h0m0.5-34h0m0 0.5h0m0 8h0m0 23.5h0m0 2h0m0 1h0m0.5-25h0m0.5-12.5h0m0 6h0m0 0.5h0m0 25h0m0 3.5h0m0.5-25.5h0m0 1h0m0 2h0m0 18.5h0m0 0.5h0m0 0.5h0m0 1h0m0 1h0m0.5-30.5h0m0 7.5h0m0 20.5h0m0 1h0m0 2.5h0m0 0.5h0m0 1.5h0m0.5-39h0m0 1h0m0 7h0m0 6.5h0m0 23h0m0 1.5h0m0.5-37h0m0 3h0m0 3.5h0m0 6h0m0 20.5h0m0 1.5h0m0 0.5h0m0.5-26.5h0m0 3h0m0 19.5h0m0.5-27.5h0m0 0.5h0m0 4.5h0m0 1.5h0m0 0.5h0m0 1.5h0m0 20h0m0 2h0m0 1.5h0m0 0.5h0m0 1h0m0.5-31h0m0 26h0m0 2h0m0 2h0m0 1h0m0.5-25h0m0 20.5h0m0 2h0m0 2.5h0m0.5-33.5h0m0 8h0m0 1h0m0 18.5h0m0 2.5h0m0 1.5h0m0.5-34h0m0 1h0m0 3.5h0m0 28.5h0m0 4h0m0.5-40.5h0m0 0.5h0m0 1h0m0 4.5h0m0 1h0m0 1.5h0m0.5 0.5h0m0 2.5h0m0 2.5h0m0 21h0m0 2h0m0 3h0m0 1h0m0.5-37h0m0 31.5h0m0 0.5h0m0 4h0m0.5-35.5h0m0 2h0m0 3h0m0 1.5h0m0 3.5h0m0.5-12h0m0 3h0m0 5h0m0.5-9.5h0m0 1.5h0m0 10.5h0m0 1.5h0m0 22h0m0.5-29h0m0 5h0m0 20h0m0 2h0m0 1h0m0.5-25.5h0m0 2h0m0 20h0m0 2.5h0m0 1h0m0 1h0m0 4h0m0.5-40.5h0m0 6h0m0 0.5h0m0 7.5h0m0 0.5h0m0 18h0m0 6h0m0.5-36h0m0 1.5h0m0 4.5h0m0 0.5h0m0 6h0m0 17h0m0 2.5h0m0 2h0m0 4h0m0.5-36.5h0m0 1h0m0 4h0m0 0.5h0m0 3.5h0m0 21.5h0m0.5-22h0m0 0.5h0m0 19.5h0m0.5-28.5h0m0 2.5h0m0 0.5h0m0 8h0m0 26.5h0m0.5-32h0m0 4.5h0m0 18h0m0.5-20h0m0 25h0m0 0.5h0m0.5-32.5h0m0 8h0m0 25.5h0m0 3h0m1-33.5h0m0 26.5h0m0 7.5h0m0.5-30.5h0m0 2.5h0m0 18h0m0 5h0m0.5-37h0m0 7.5h0m0 1h0m0 27h0m0 5h0m0.5-34.5h0m0 1h0m0 25h0m0 4.5h0m0.5-32.5h0m0 3.5h0m0 0.5h0m0 4.5h0m0 1.5h0m0 20.5h0m0 0.5h0m0 1h0m0 1.5h0m0.5-29h0m0 0.5h0m0 1.5h0m0 3.5h0m0 21h0m0.5-2h0m0 2.5h0m0 1h0m0.5-33.5h0m0 1.5h0m0 33.5h0m0.5-39h0m0.5 13.5h0m0 20h0m0 3.5h0m0 0.5h0m0 5.5h0m0.5-42.5h0m0 2h0m0 12h0m0 0.5h0m0 23h0m0 2.5h0m0 1.5h0m0.5-36.5h0m0 8h0m0 22.5h0m0 1.5h0m0.5-37h0m0 5h0m0 3h0m0 27.5h0m0 0.5h0m0 1h0m0 1h0m0.5-32h0m0 1.5h0m0 2h0m0 30.5h0m0.5-59h0m0 24h0m0 2.5h0m0 6h0m0 1h0m0 18.5h0m0 2.5h0m0 4.5h0m0.5-63h0m0 0.5h0m0 10.5h0m0 1.5h0m0 14.5h0m0 3h0m0 7.5h0m0 22.5h0m0 3h0m0 0.5h0m0.5-59.5h0m0 1.5h0m0 1h0m0 2h0m0 7h0m0 21h0m0 28h0m0.5-58.5h0m0 20.5h0m0 8h0m0 2h0m0 0.5h0m0.5-32.5h0m0 9.5h0m0 6.5h0m0 5h0m0 1.5h0m0 3h0m0 5h0m0 2h0m0 25h0m0 3h0m0.5-65.5h0m0 8h0m0 13.5h0m0 10h0m0 3.5h0m0 2.5h0m0 21h0m0 4.5h0m0 1.5h0m0.5-65.5h0m0 17h0m0 11h0m0 1h0m0 0.5h0m0 2h0m0 0.5h0m0 1h0m0 24.5h0m0 5.5h0m0.5-62h0m0 5h0m0 10.5h0m0 10h0m0 3h0m0 1.5h0m0 7h0m0 23.5h0m0.5-60h0m0 0.5h0m0 2h0m0 0.5h0m0 7.5h0m0 2.5h0m0 14.5h0m0 7.5h0m0 0.5h0m0 1.5h0m0 0.5h0m0 22h0m0 3.5h0m0.5-37.5h0m0 4.5h0m0 5h0m0 0.5h0m0 21h0m0 2h0m0 2.5h0m0.5-62.5h0m0 12h0m0 3h0m0 7.5h0m0 3.5h0m0 1.5h0m0 0.5h0m0 4.5h0m0 25h0m0 3.5h0m0 2h0m0.5-65h0m0 5h0m0 1.5h0m0 1.5h0m0 9h0m0 1h0m0 1.5h0m0 1.5h0m0 10h0m0 1.5h0m0 30.5h0m0.5-61.5h0m0 6h0m0 5.5h0m0 2h0m0 5h0m0 3.5h0m0 3.5h0m0 6h0m0 4h0m0 3.5h0m0 19h0m0 1h0m0.5-33h0m0 8h0m0 2.5h0m0 2.5h0m0 0.5h0m0 18.5h0m0 1.5h0m0 4.5h0m0.5-59.5h0m0 0.5h0m0 0.5h0m0 1h0m0 1h0m0 3.5h0m0 3.5h0m0 1h0m0 4h0m0 8h0m0 3h0m0 2h0m0 6h0m0 28.5h0m0.5-66.5h0m0 13.5h0m0 12h0m0 2.5h0m0 1h0m0 29.5h0m0 4h0m0.5-51.5h0m0 5h0m0 12.5h0m0 1.5h0m0 1h0m0 6.5h0m0 1h0m0 19.5h0m0 1h0m0.5-58h0m0 2.5h0m0 3.5h0m0 18.5h0m0 32.5h0m0 2h0m0.5-60h0m0 5.5h0m0 2.5h0m0 6h0m0 3.5h0m0 2h0m0 8.5h0m0 7.5h0m0 1.5h0m0 1.5h0m0 18.5h0m0 1h0m0 3h0m0 3h0m0 1.5h0m0.5-67.5h0m0 2.5h0m0 5.5h0m0 13.5h0m0 5.5h0m0 1h0m0 6h0m0 4h0m0 25.5h0m0 0.5h0m0 0.5h0m0.5-63h0m0 6.5h0m0 6.5h0m0 3.5h0m0 2h0m0 1h0m0 38.5h0m0 6.5h0m0.5-63h0m0 3h0m0 0.5h0m0 7h0m0 0.5h0m0 1.5h0m0 1h0m0 2h0m0 11h0m0 1h0m0 1h0m0 1h0m0 7.5h0m0 22.5h0m0 2.5h0m0 1.5h0m0.5-41.5h0m0 6h0m0 0.5h0m0 28h0m0 4.5h0m0 1.5h0m0.5-56h0m0 7h0m0 2h0m0 8h0m0 6h0m0 0.5h0m0 6h0m0 0.5h0m0 0.5h0m0 22.5h0m0 1.5h0m0.5-63.5h0m0 3.5h0m0 3.5h0m0 2.5h0m0 1.5h0m0 2h0m0 3.5h0m0 11h0m0 7h0m0 4h0m0 0.5h0m0 20h0m0 2h0m0 3.5h0m0 0.5h0m0.5-66.5h0m0 7h0m0 30h0m0 30h0m0.5-63h0m0 10h0m0 13h0m0 9h0m0 26h0m0 6.5h0m0.5-59.5h0m0 4h0m0 1.5h0m0 1.5h0m0 22h0m0 0.5h0m0 22h0m0 5h0m0.5-55.5h0m0 3.5h0m0 2.5h0m0 6h0m0 8h0m0 3h0m0 2.5h0m0 28.5h0m0.5-33.5h0m0 1h0m0 1.5h0m0 8h0m0 20h0m0.5-58h0m0 8h0m0 7h0m0 5h0m0 3.5h0m0 10h0m0 26h0m0 2.5h0m0.5-46h0m0 0.5h0m0 2.5h0m0 12.5h0m0 5.5h0m0 21h0m0 0.5h0m0 0.5h0m0 1.5h0m0.5-58h0m0 4h0m0 16h0m0 4.5h0m0 7h0m0 24.5h0m0 4.5h0m0.5-61.5h0m0 13.5h0m0 7h0m0 2h0m0 8h0m0 2.5h0m0 3h0m0 20h0m0 3h0m0 0.5h0m0 3h0m0.5-50.5h0m0 18.5h0m0 2.5h0m0 2.5h0m0 23.5h0m0 1h0m0 3.5h0m0.5-53.5h0m0 4h0m0 8h0m0 5h0m0 8.5h0m0 27h0m0.5-60h0m0 4.5h0m0 3.5h0m0 19h0m0 1h0m0 5.5h0m0 19.5h0m0 1.5h0m0 2h0m0 1h0m0 1.5h0m0.5-61.5h0m0 4.5h0m0 2h0m0 6.5h0m0 13.5h0m0 6h0m0 26.5h0m0 0.5h0m0 1.5h0m0.5-28.5h0m0 3h0m0 21h0m0.5-49.5h0m0 4h0m0 11h0m0 4h0m0 3.5h0m0 26.5h0m0 1h0m0 1h0m0 3.5h0m0.5-56h0m0 15.5h0m0 5h0m0 5.5h0m0 0.5h0m0 24h0m0 4.5h0m0 3.5h0m0.5-39h0m0 0.5h0m0 6h0m0 2h0m0 1h0m0 0.5h0m0 0.5h0m0 1h0m0 19.5h0m0 0.5h0m0.5-30.5h0m0 10h0m0 20.5h0m0 3h0m0 1.5h0m0 1h0m0.5-38.5h0m0 6h0m0 4h0m0 23.5h0m0 2.5h0m0 3.5h0m0.5-36.5h0m0 5h0m0 3.5h0m0 1h0m0 20h0m0 1h0m0 4.5h0m0.5-7h0m0 0.5h0m0 4h0m0 3h0m0 1h0m0.5-39.5h0m0 12.5h0m0 19h0m0 4h0m0 2.5h0m0 1h0m0.5-36.5h0m0 0.5h0m0 3h0m0 3h0m0 4h0m0 21.5h0m0.5-35h0m0 7h0m0 29.5h0m0 1.5h0m0.5-36h0m0 11h0m0 19h0m0 4h0m0 1.5h0m0.5-36.5h0m0 2.5h0m0 28h0m0 0.5h0m0 3.5h0m0 1h0m0 5.5h0m0.5-32h0m0 0.5h0m0 1.5h0m0 1h0m0 22h0m0 1h0m0 1.5h0m0 4.5h0m0.5-7h0m0 1h0m0 0.5h0m0 2h0m0.5-35h0m0 0.5h0m0 2.5h0m0 1h0m0.5-7h0m0 12h0m0 24h0m0.5-37h0m0 2h0m0 8.5h0m0 0.5h0m0 2h0m0 19h0m0 2.5h0m0 2h0m0 1h0m0.5-32.5h0m0 0.5h0m0 3h0m0 1h0m0 3.5h0m0 21h0m0 2.5h0m0 0.5h0m0 0.5h0m0 1h0m0 3.5h0m0.5-29.5h0m0 0.5h0m0 19h0m0 0.5h0m0 0.5h0m0 4.5h0m0.5-36h0m0 4h0m0 28h0m0 0.5h0m0 2h0m0 1h0m0 2.5h0m0.5-30h0m0 3h0m0 1.5h0m0 18h0m0 5h0m0 1h0m0 0.5h0m0 1h0m0.5-37h0m0 4.5h0m0 1.5h0m0 0.5h0m0.5-2.5h0m0.5 3h0m0 26h0m0 1.5h0m0 1h0m0 2h0m0 0.5h0m0 1.5h0m0.5-33h0m0 30h0m0 1h0m0.5-26.5h0m0 18h0m0 4.5h0m0 2.5h0m0 2h0m0.5-37h0m0 2.5h0m0 3.5h0m0 22h0m0 1.5h0m0 0.5h0m0 5.5h0m0 1h0m0.5-36.5h0m0 2h0m0 2h0m0 3h0m0 26h0m0 2.5h0m0 0.5h0m0.5-34.5h0m0 8h0m0 25.5h0m0.5-36.5h0m0 0.5h0m0 6h0m0 6.5h0m0 16.5h0m0 1h0m0 1.5h0m0 3.5h0m0.5-32h0m0 4h0m0 5h0m0 17h0m0 2h0m0 1h0m0.5-25.5h0m0 5.5h0m0 18h0m0 1h0m0 1h0m0 2h0m0.5-32h0m0 26.5h0m0.5-25h0m0 9h0m0 15.5h0m0 0.5h0m0 2h0m0 3.5h0m0 2h0m0.5-33.5h0m0 5.5h0m0 0.5h0m0 3.5h0m0 16.5h0m0 4h0m0.5-21h0m0 0.5h0m0 16h0m0 2h0m0 1h0m0 1.5h0m0.5-28.5h0m0 1h0m0 2.5h0m0 3h0m0 1.5h0m0 16.5h0m0 9h0m0.5-35.5h0m0 7.5h0m0 0.5h0m0 2h0m0 0.5h0m0 15.5h0m0 3.5h0m0 3.5h0m0 3.5h0m0.5-38h0m0 8h0m0 1h0m0 2h0m0 18.5h0m0 0.5h0m0 1h0m0 1.5h0m0 0.5h0m0 1.5h0m0.5-31h0m0 2.5h0m0 3.5h0m0 23.5h0m0 2h0m0.5-32.5h0m0 9h0m0 1h0m0 16.5h0m0 5.5h0m0.5-32h0m0 0.5h0m0 2.5h0m0 6.5h0m0 18.5h0m0 1h0m0 0.5h0m0 2h0m0.5-31.5h0m0 24h0m0 3h0m0 1.5h0m0.5-19.5h0m0 0.5h0m0.5-3h0m0 3h0m0 1h0m0 16.5h0m0 0.5h0m0.5-21h0m0 3.5h0m0 14h0m0 6.5h0m0.5-21h0m0 0.5h0m0 0.5h0m0 17.5h0m0 3.5h0m0.5-22h0m0 15h0m0.5-23.5h0m0 1h0m0 3h0m0 1h0m0 4h0m0 21h0m0.5-25h0m0 4h0m0 16.5h0m0 6h0m0.5-24h0m0 2h0m0 14h0m0.5-23.5h0m0 2h0m0 5.5h0m0 3h0m0 14.5h0m0.5-15h0m0 0.5h0m0 11.5h0m0 7h0m0 3h0m0.5-25.5h0m0 15.5h0m0 0.5h0m0 1.5h0m0 1h0m0 2.5h0m0 2h0m0.5-24h0m0 16.5h0m0 1h0m0 3h0m0 0.5h0m0 2h0m0 1.5h0m0.5-8h0m0 8.5h0m0.5-22.5h0m0 14.5h0m0 2.5h0m0 4.5h0m0.5-21.5h0m0 13.5h0m0 4.5h0m0 0.5h0m0.5-22.5h0m0 3.5h0m0 17.5h0m0 0.5h0m0.5-17h0m0 0.5h0m0 17.5h0m0.5-21h0m0 4h0m0 1h0m0 1h0m0 10.5h0m0 1.5h0m0.5-20h0m0 6.5h0m0 12.5h0m0 2h0m0.5-21h0m0 1.5h0m0 1.5h0m0 0.5h0m0 3h0m0 15h0m0 3h0m0.5-23.5h0m0 4h0m0 1.5h0m0 1h0m0 12.5h0m0.5-12.5h0m0.5-0.5h0m0 17.5h0m0.5-23h0m0 1h0m0 4h0m0.5-6h0m0 1h0m0 16.5h0m0 4.5h0m0 0.5h0m0.5-23h0m0 1.5h0m0 16h0m0 0.5h0m0.5-10.5h0m0 0.5h0m0 1h0m0 8.5h0m0 5h0m0.5-22.5h0m0 2.5h0m0 14.5h0m0 4h0m0.5-17.5h0m0 1.5h0m0.5 12h0m0.5-9.5h0m0 13h0m0 2h0m0.5-22h0m0 1.5h0m0 1.5h0m0 1.5h0m0 12h0m0 5.5h0m0.5-15h0m0 2h0m0 7h0m0 0.5h0m0 0.5h0m0 5.5h0m0.5-15h0m0 1h0m0 0.5h0m0 6.5h0m0 0.5h0m0 0.5h0m0.5-8h0m0 0.5h0m0.5 1h0m0 7h0m0.5-7.5h0m0 0.5h0m0 7h0m0.5-14h0m0 6h0m0 1.5h0m0 4.5h0m0 1.5h0m0.5-11.5h0m0 4.5h0m0 1h0m0 5h0m0 0.5h0m0 1h0m0.5-2.5h0m0.5-3.5h0m0.5 0h0m0 3.5h0m0.5-4h0m0 2h0m0 1h0m0.5-6.5h0m0 6.5h0m0.5-6.5h0m0 0.5h0m1-2.5h0m0 3h0m0 2h0m0 1.5h0m0.5 0h0m0 1h0m1-3h0m0 1.5h0m0 1h0m0.5-4.5h0m0 5h0m1-5h0m0.5 2h0m0.5 1h0m0.5-3.5h0m0 0.5h0m0.5 2.5h0m1.5-0.5h0" stroke="#0b2cf2" stroke-width="1.7" stroke-linecap="square" fill="none"/><path d="M574 438h0m3.5-7h0m0.5 1.5h0m3-8.5h0m1 24.5h0m0 1h0m1-20.5h0m0.5-1h0m1 0.5h0m0 1.5h0m1.5-1.5h0m1-19h0m0.5 15h0m0 1h0m0 26h0m0.5 4.5h0m1-32.5h0m1-9h0m1 10.5h0m2.5-16h0m0.5 4.5h0m0.5-13h0m1 21.5h0m1-26.5h0m0 9h0m0 9h0m0 8.5h0m0.5 32.5h0m0.5-33h0m1 33.5h0m1-33h0m0 36.5h0m1.5-2.5h0m1-0.5h0m1 0.5h0m0.5-38.5h0m0 36.5h0m0 1h0m0.5-59.5h0m0 59h0m0.5-65.5h0m0 20.5h0m0 10h0m0.5-22.5h0m0 16.5h0m0 7h0m0.5-38.5h0m0 38.5h0m0.5-29.5h0m0.5 65h0m0.5-58h0m1.5 3h0m0 55h0m0.5-38h0m1-31h0m0 17.5h0m0 3.5h0m0 11.5h0m0.5-17.5h0m0.5-11.5h0m1 22h0m0.5-8.5h0m1-24.5h0m1.5 83h0m0.5-71.5h0m0.5 20.5h0m0 48.5h0m1-56.5h0m0 5.5h0m0 52.5h0m1-46.5h0m1-40.5h0m0.5 82.5h0m1-41.5h0m0.5 57h0m2.5-98h0m0.5 8h0m0 16h0m0 58h0m0.5-43h0m0 42.5h0m1-82.5h0m0 8h0m0 33h0m0.5 42.5h0m1-48.5h0m0.5-38.5h0m0 3.5h0m0 41.5h0m0 41h0m1-63h0m0 20.5h0m0 2h0m0.5-15h0m0 57h0m2-56.5h0m0.5-36h0m0.5 43.5h0m0 61h0m0.5-13.5h0m0.5-78h0m0 23.5h0m0.5 3.5h0m0 52h0m2-86.5h0m0.5 18h0m1-36h0m0 29h0m0 74h0m0.5-57.5h0m0 58.5h0m0.5-47h0m0.5-105h0m0 59.5h0m0 43.5h0m0.5 4h0m1-108h0m0 54h0m0 24h0m0 74.5h0m0.5-64.5h0m0 64.5h0m0.5-88.5h0m0 12.5h0m1 16.5h0m0 14h0m0 46h0m0.5-64.5h0m0 4h0m0 61.5h0m0.5-57h0m0 10h0m1-15.5h0m0 17h0m1-24h0m0 1h0m0 75h0m0.5-6.5h0m0.5-93.5h0m0.5 12.5h0m0 79.5h0m0.5-56.5h0m0.5-33.5h0m1.5 14h0m1-14h0m0 7.5h0m0 6h0m0.5-25h0m0 35h0m0 14h0m2 7.5h0m1-39h0m0 5h0m0 26h0m0 7.5h0m0.5-52h0m0 21.5h0m0 28h0m0 2.5h0m0 43.5h0m1-74.5h0m0.5-35h0m0 57h0m0 55h0m0.5-64.5h0m0 3h0m0 5.5h0m0 55h0m1-52.5h0m0 8.5h0m0 45.5h0m0.5-56.5h0m0 53.5h0m0.5-95.5h0m0 32h0m0 67h0m0.5-49.5h0m0.5-14.5h0m0 4.5h0m0 57.5h0m0.5-111.5h0m0 19h0m0 92h0m0.5-65h0m0.5-34.5h0m0 108h0m0.5-116h0m0 48.5h0m0 4h0m0.5-61h0m0 30.5h0m1-3h0m0 9.5h0m0 27.5h0m0 1.5h0m0.5-49.5h0m0 90.5h0m0.5-53.5h0m1 11.5h0m0 4.5h0m0.5-34h0m0 30h0m0 1h0m1-42.5h0m0 31.5h0m0 9.5h0m0 1.5h0m0.5-2.5h0m0.5 54h0m1-110.5h0m0 7.5h0m0 21h0m0 80.5h0m0.5-59h0m0.5-13h0m0.5-5.5h0m0 11h0m0.5 20h0m0.5-37.5h0m0 17h0m0 66h0m0.5-175h0m0 130h0m0.5-14.5h0m0 5.5h0m0 59h0m0.5-80.5h0m0 13.5h0m0 11h0m0 42h0m0 17.5h0m2.5-119h0m0 19h0m0.5 96h0m0.5-95h0m0 16.5h0m0.5 81h0m0 14.5h0m0.5-21.5h0m0 7.5h0m0.5-79h0m1.5 81.5h0m1.5-105.5h0m0 20h0m0.5-10.5h0m0 86h0m1-118h0m1-5.5h0m0 20h0m0 104h0m1.5-131.5h0m0.5 137.5h0m0.5-79.5h0m1 73h0m0 2.5h0m1-98h0m0.5-21.5h0m0 117.5h0m0 3h0m0.5-76.5h0m1-6h0m0 81.5h0m1-107h0m0 13h0m0.5 12.5h0m0.5 28.5h0m0 53.5h0m0.5-86.5h0m0 8.5h0m0 24.5h0m0 3h0m0.5-20.5h0m0 0.5h0m0 4.5h0m0 14.5h0m0 3h0m0.5-36.5h0m0 14.5h0m0 15h0m0 2h0m0 50.5h0m0.5 5.5h0m0.5-61.5h0m0 7.5h0m0.5-9h0m0 1.5h0m0.5-77.5h0m0 66h0m0.5 22h0m0.5-61h0m0 42.5h0m0 7.5h0m0 6.5h0m0.5 1.5h0m0.5-7h0m1 6h0m1.5 4h0m0 56.5h0m1-88h0m0 76.5h0m0 1.5h0m0.5-48.5h0m0.5 49.5h0m1 1.5h0m1-155h0m0 48h0m0 57h0m0 46.5h0m0.5-44.5h0m0 44.5h0m0 3.5h0m1-77h0m0 73.5h0m0 3h0m0 13h0m0.5-114h0m0.5 54.5h0m1.5-11.5h0m0.5-43.5h0m0.5 54.5h0m0.5-109.5h0m0 68.5h0m0 11h0m0.5-7.5h0m0 24.5h0m1-31.5h0m0 23.5h0m0 2.5h0m0 0.5h0m0 60h0m0.5-59.5h0m1-23h0m0 41.5h0m1-71h0m1 112.5h0m1-68h0m0 10.5h0m1.5-28h0m0.5 43.5h0m0 43h0m0.5-91h0m0 38.5h0m0 12h0m1 39h0m0.5-66h0m0 68h0m0.5-87h0m0 36.5h0m0 6.5h0m0.5-26h0m1 31.5h0m0.5 36h0m1-114.5h0m0 14.5h0m0 58h0m0 38.5h0m1-106h0m0.5 16.5h0m0.5 27h0m0 12h0m0 7.5h0m0.5 9.5h0m0 32.5h0m3.5-48h0m0.5-61h0m0 44h0m0 19h0m0.5-15h0m1 4h0m0 23.5h0m0 27h0m0.5-97.5h0m0.5 55.5h0m0.5-24.5h0m0.5 11h0m0 60.5h0m0.5-47.5h0m0 2.5h0m0.5 39.5h0m1-101h0m0 44h0m0 54.5h0m2-72.5h0m0 67.5h0m2.5-39.5h0m0.5 38.5h0m0.5-54.5h0m0.5-39.5h0m0 47h0m0 52.5h0m0.5-47.5h0m1 29h0m0.5-36.5h0m0 11h0m0 3h0m0 21h0m0.5-68h0m0 25.5h0m0 28.5h0m0.5-11.5h0m0 38h0m0.5 1h0m0.5-84h0m0.5 75h0m1.5-2h0m1.5 21h0m0.5-6h0" stroke="#3a42b4" stroke-width="1.7" stroke-linecap="square" fill="none"/>
<rect x="565.00" y="267.45" width="214.50" height="229.05" fill="none" stroke="#4a4a4a" stroke-width="1.1"/>
<path d="M565.00 496.50v-2.2M565.00 267.45v2.2M595.64 496.50v-2.2M595.64 267.45v2.2M626.29 496.50v-2.2M626.29 267.45v2.2M656.93 496.50v-2.2M656.93 267.45v2.2M687.57 496.50v-2.2M687.57 267.45v2.2M718.21 496.50v-2.2M718.21 267.45v2.2M748.86 496.50v-2.2M748.86 267.45v2.2M779.50 496.50v-2.2M779.50 267.45v2.2M565.00 496.50h2.2M779.50 496.50h-2.2M565.00 471.05h2.2M779.50 471.05h-2.2M565.00 445.60h2.2M779.50 445.60h-2.2M565.00 420.15h2.2M779.50 420.15h-2.2M565.00 394.70h2.2M779.50 394.70h-2.2M565.00 369.25h2.2M779.50 369.25h-2.2M565.00 343.80h2.2M779.50 343.80h-2.2M565.00 318.35h2.2M779.50 318.35h-2.2M565.00 292.90h2.2M779.50 292.90h-2.2M565.00 267.45h2.2M779.50 267.45h-2.2" stroke="#4a4a4a" stroke-width="0.9" fill="none"/>
<text x="559.62" y="505.50" textLength="10.76" lengthAdjust="spacingAndGlyphs">−3</text>
<text x="590.26" y="505.50" textLength="10.76" lengthAdjust="spacingAndGlyphs">−2</text>
<text x="620.91" y="505.50" textLength="10.76" lengthAdjust="spacingAndGlyphs">−1</text>
<text x="654.61" y="505.50" textLength="4.64" lengthAdjust="spacingAndGlyphs">0</text>
<text x="685.25" y="505.50" textLength="4.64" lengthAdjust="spacingAndGlyphs">1</text>
<text x="715.89" y="505.50" textLength="4.64" lengthAdjust="spacingAndGlyphs">2</text>
<text x="746.54" y="505.50" textLength="4.64" lengthAdjust="spacingAndGlyphs">3</text>
<text x="777.18" y="505.50" textLength="4.64" lengthAdjust="spacingAndGlyphs">4</text>
<text x="539.03" y="498.65" textLength="22.37" lengthAdjust="spacingAndGlyphs">−0.10</text>
<text x="539.03" y="473.20" textLength="22.37" lengthAdjust="spacingAndGlyphs">−0.05</text>
<text x="545.15" y="447.75" textLength="16.25" lengthAdjust="spacingAndGlyphs">0.00</text>
<text x="545.15" y="422.30" textLength="16.25" lengthAdjust="spacingAndGlyphs">0.05</text>
<text x="545.15" y="396.85" textLength="16.25" lengthAdjust="spacingAndGlyphs">0.10</text>
<text x="545.15" y="371.40" textLength="16.25" lengthAdjust="spacingAndGlyphs">0.15</text>
<text x="545.15" y="345.95" textLength="16.25" lengthAdjust="spacingAndGlyphs">0.20</text>
<text x="545.15" y="320.50" textLength="16.25" lengthAdjust="spacingAndGlyphs">0.25</text>
<text x="545.15" y="295.05" textLength="16.25" lengthAdjust="spacingAndGlyphs">0.30</text>
<text x="545.15" y="269.60" textLength="16.25" lengthAdjust="spacingAndGlyphs">0.35</text>
<text x="640.79" y="516.80" textLength="62.93" lengthAdjust="spacingAndGlyphs">Shape deviations</text>
<text transform="translate(534.00,381.98) rotate(-90)" x="-30.03" y="0" textLength="60.06" lengthAdjust="spacingAndGlyphs">Electrophilicities</text>
<text x="573.50" y="281.15" textLength="36.73" lengthAdjust="spacingAndGlyphs">R = 0.319</text>
</svg>
</body></html>
